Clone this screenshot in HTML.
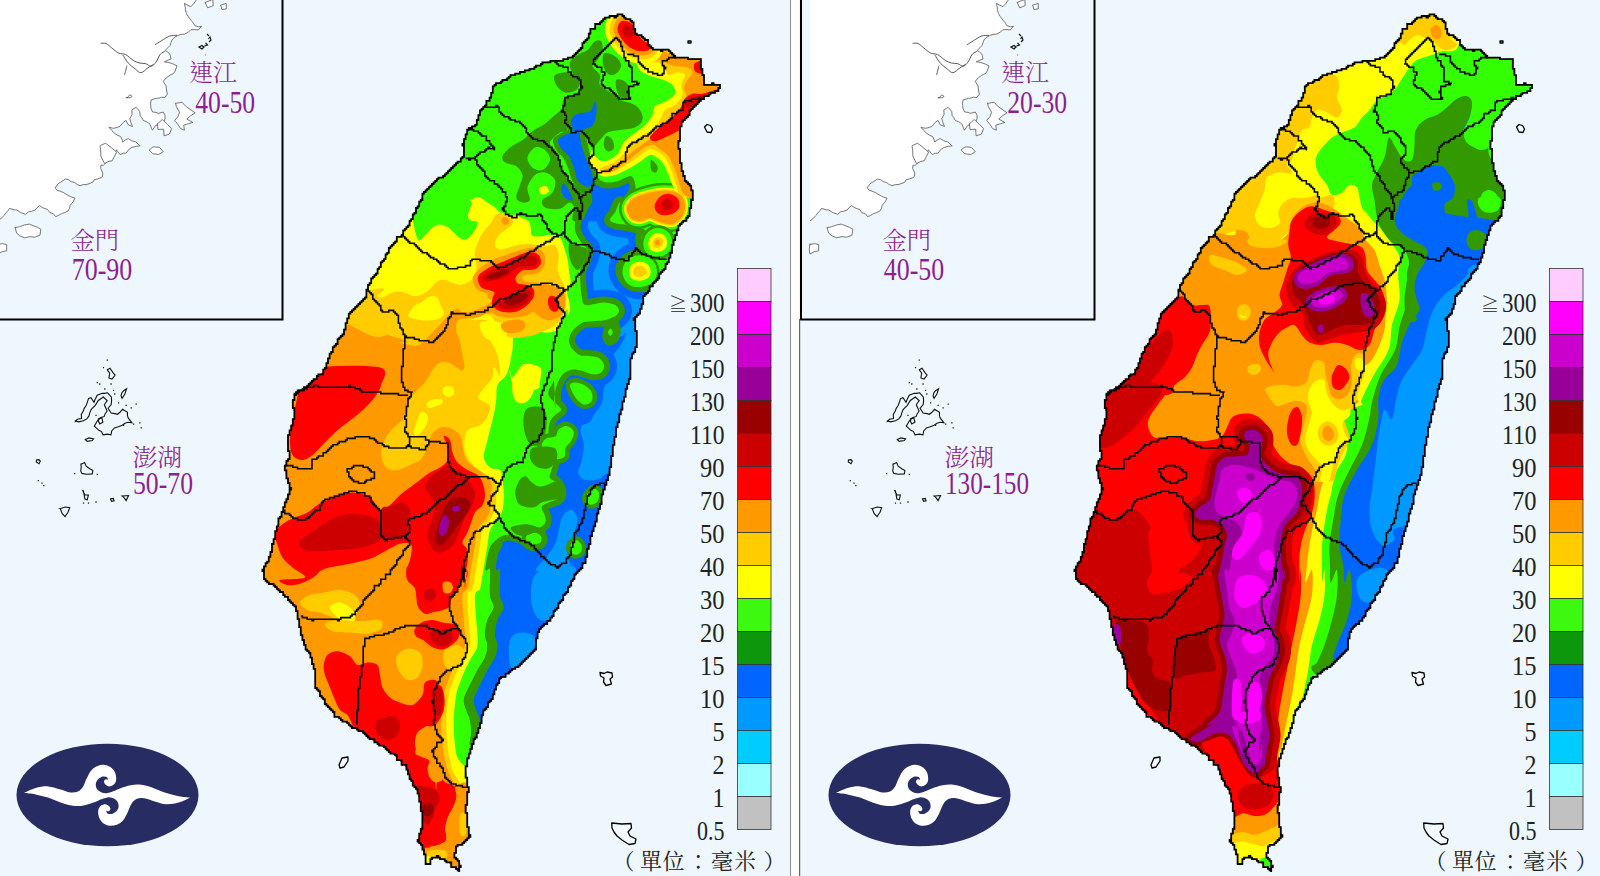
<!DOCTYPE html>
<html><head><meta charset="utf-8"><title>雨量預報</title>
<style>html,body{margin:0;padding:0;background:#fff}svg{display:block}text{font-family:"Liberation Serif","Noto Serif CJK TC","Noto Serif CJK SC",serif}</style></head>
<body><svg width="1600" height="876" viewBox="0 0 1600 876">
<defs>
<clipPath id="cl"><rect x="0" y="0" width="790" height="876"/></clipPath>
<clipPath id="cr"><rect x="799" y="0" width="801" height="876"/></clipPath>
<clipPath id="isl"><path d="M610.4 15.3 L614 17 L617 14 L620.5 14.6 L626 18 L632.9 22.5 L634 28 L636 33.7 L641 37 L647.5 40.5 L649 45 L652 48.4 L661 50.6 L665 49 L670 52.2 L676.8 57.4 L683 57 L690.3 59 L701.5 58.5 L701.5 67.5 L703.8 76.5 L705 84.4 L713 84 L720.7 85 L718.4 91 L708.3 94.5 L697 103.5 L688 114.8 L680 126 L679 146 L680 162 L684.7 180 L690 186 L692.8 191 L691.7 202.5 L688.3 218 L679.3 225 L673.7 240.8 L670.3 256.5 L663.5 270 L652.3 285.8 L643.3 297 L642.2 308 L634.3 319.5 L636.5 333 L636.5 346.5 L630.9 360 L631 375 L625 395 L620 415 L613.8 442.5 L610 470 L602.5 495 L597.5 515 L590 540 L585 562.5 L577.5 572 L567.5 590 L557.5 607.5 L550 620 L537.5 632.5 L535 650 L520 665 L505 675 L497.5 682.5 L492.5 697.5 L485 710 L483.8 712 L480 725 L474.4 740 L468.8 755 L465.9 768 L466.9 787 L469 789 L466.9 800 L465.9 813.3 L468 818 L466.9 824.5 L469.7 835.8 L465 841.4 L455.6 847 L454.7 856.4 L460.3 865.8 L459.4 872 L448 862 L436.9 856.4 L431.3 859 L429.4 864.8 L425.6 862 L424.7 852.6 L421.9 845 L418 839.5 L420 835.8 L422.8 822.6 L421.9 811 L420 800 L416.3 789 L410.6 779.5 L406.9 768 L397.5 758 L388 749.5 L375 742 L360 730.8 L346.9 723 L335 715 L325 702.5 L316 687.5 L315 670 L310 655 L302.5 640 L298.8 620 L296 607.5 L287.5 597.5 L277.5 587.5 L265 580 L262.5 570 L268.8 560 L272.5 545 L276 532.5 L278.8 520 L285 506 L286 500 L291 487.5 L286 475 L285 465 L290 457.5 L287.5 442.5 L290 430 L295 415 L292.5 405 L295 395 L307.5 386 L317.5 377.5 L325 370 L329 357.5 L335 345 L344 332.5 L346 324 L349 315 L357.5 306 L366 296 L367.5 287.5 L375 275 L380 267.5 L386 256 L393.8 242.5 L403.8 232.5 L412.5 217.5 L420 202.5 L425 191 L437.5 180 L451 170 L454 166.5 L464 157.5 L463 144 L467.5 130.5 L475.4 124.9 L481 110.3 L490 99 L494.5 85.5 L508 77.6 L521.5 72 L535 67.5 L546.3 61.9 L557.5 61.2 L566.5 59 L576.6 54 L582.3 48.4 L583.4 41.6 L588.6 38.3 L590 31.5 L595.8 25.9 L602.5 19.8Z"/></clipPath>
<g id="base"><path d="M-2 -2 L197.7 -2.6 L196.1 0.2 L193.8 3.5 L190.9 6.6 L187.6 5.2 L184.3 3.3 L185.3 7.5 L185.3 9.6 L186.5 13.7 L188.4 16.8 L191.1 20.3 L193.5 23.3 L194.9 25.7 L198.4 26.8 L201.5 26.4 L198.2 30 L194.9 29.5 L190.9 29.7 L188.6 32 L184.7 34.1 L180.9 34.4 L177.5 35.7 L174.1 37.5 L172 40 L171 42.4 L170.1 45.4 L165.2 50.4 L167.4 51.9 L169.9 54.1 L171 59.1 L167.9 60.1 L164.3 61.9 L168.1 62.3 L172.5 63.7 L177 65.9 L175.1 71.2 L173.4 73.6 L171.1 74.5 L166.4 77.7 L163.2 81.3 L166.1 86 L166.6 91 L167.4 94.1 L164.8 97.6 L161.3 97.2 L159.1 98.1 L156.5 98.3 L151.1 99.9 L150.5 103.6 L150.7 105.4 L151 108.6 L152.6 112 L156.1 112.4 L158.2 113.4 L163.3 112.1 L165 115.3 L165 118.2 L164.5 120.3 L164.1 124.4 L160.3 125.2 L155.8 125.3 L152.4 130.2 L150.8 126.3 L149.5 123.5 L146.7 121.8 L143.2 120.4 L141.9 117.8 L140.2 115.6 L139.7 111.4 L136.1 107.3 L131.8 109.9 L132.1 114.3 L130.9 116.5 L129.8 118.9 L131 122.9 L132.5 126.5 L128.2 124.7 L126 120.4 L123.1 122.5 L120 126.3 L117.6 127.3 L113.6 128.3 L109 127.4 L111.8 130.4 L113.7 132.6 L117.5 135.3 L120.6 136.5 L122 139.4 L122.6 142 L125.8 139.7 L128.2 138.6 L131.6 140.8 L135.7 141.9 L140.2 145.8 L136.5 146.3 L131.6 147.6 L128.5 149.8 L126.2 153.1 L123.5 153.2 L120.2 154.5 L116.3 149.8 L115.4 153 L112.9 155.5 L109.7 158.2 L107.7 160.5 L106.5 162.1 L103.3 165.2 L100.9 165.3 L100.7 168.6 L102.8 173 L102.4 176.4 L101 177.7 L97.3 179 L94.2 179.7 L92.8 182.2 L89.1 183.7 L86.1 184.6 L83.8 184.5 L80 185.7 L77.2 184.5 L74.4 182.5 L71.4 181.7 L68.4 179.6 L65.4 179 L62 181.4 L59 183.1 L57.2 184.9 L55.2 187.9 L57.2 190.3 L60.1 191.2 L63.7 192.7 L65.7 194 L69.2 196 L71.6 197.1 L75 198.1 L73.1 201.8 L70.1 205.4 L69.6 207.9 L68 211 L64.7 212.6 L61.5 213.6 L58.4 215.5 L55.6 216.6 L53.2 213.6 L49.9 212.7 L47.5 209.4 L43 207.9 L39.5 205.6 L36.8 207.9 L35.2 210 L31.4 211.3 L28.8 211.7 L25.6 214.3 L20.6 212.5 L16.8 210 L14.3 209.8 L9.5 208.4 L8 210.7 L5.5 213.2 L4.4 215.2 L1.1 218.4 L-2 221Z" fill="#fff"/><path d="M197.7 -2.6 L196.1 0.2 L193.8 3.5 L190.9 6.6 L187.6 5.2 L184.3 3.3 L185.3 7.5 L185.3 9.6 L186.5 13.7 L188.4 16.8 L191.1 20.3 L193.5 23.3 L194.9 25.7 L198.4 26.8 L201.5 26.4 L198.2 30 L194.9 29.5 L190.9 29.7 L188.6 32 L184.7 34.1 L180.9 34.4 L177.5 35.7 L174.1 37.5 L172 40 L171 42.4 L170.1 45.4 L165.2 50.4 L167.4 51.9 L169.9 54.1 L171 59.1 L167.9 60.1 L164.3 61.9 L168.1 62.3 L172.5 63.7 L177 65.9 L175.1 71.2 L173.4 73.6 L171.1 74.5 L166.4 77.7 L163.2 81.3 L166.1 86 L166.6 91 L167.4 94.1 L164.8 97.6 L161.3 97.2 L159.1 98.1 L156.5 98.3 L151.1 99.9 L150.5 103.6 L150.7 105.4 L151 108.6 L152.6 112 L156.1 112.4 L158.2 113.4 L163.3 112.1 L165 115.3 L165 118.2 L164.5 120.3 L164.1 124.4 L160.3 125.2 L155.8 125.3 L152.4 130.2 L150.8 126.3 L149.5 123.5 L146.7 121.8 L143.2 120.4 L141.9 117.8 L140.2 115.6 L139.7 111.4 L136.1 107.3 L131.8 109.9 L132.1 114.3 L130.9 116.5 L129.8 118.9 L131 122.9 L132.5 126.5 L128.2 124.7 L126 120.4 L123.1 122.5 L120 126.3 L117.6 127.3 L113.6 128.3 L109 127.4 L111.8 130.4 L113.7 132.6 L117.5 135.3 L120.6 136.5 L122 139.4 L122.6 142 L125.8 139.7 L128.2 138.6 L131.6 140.8 L135.7 141.9 L140.2 145.8 L136.5 146.3 L131.6 147.6 L128.5 149.8 L126.2 153.1 L123.5 153.2 L120.2 154.5 L116.3 149.8 L115.4 153 L112.9 155.5 L109.7 158.2 L107.7 160.5 L106.5 162.1 L103.3 165.2 L100.9 165.3 L100.7 168.6 L102.8 173 L102.4 176.4 L101 177.7 L97.3 179 L94.2 179.7 L92.8 182.2 L89.1 183.7 L86.1 184.6 L83.8 184.5 L80 185.7 L77.2 184.5 L74.4 182.5 L71.4 181.7 L68.4 179.6 L65.4 179 L62 181.4 L59 183.1 L57.2 184.9 L55.2 187.9 L57.2 190.3 L60.1 191.2 L63.7 192.7 L65.7 194 L69.2 196 L71.6 197.1 L75 198.1 L73.1 201.8 L70.1 205.4 L69.6 207.9 L68 211 L64.7 212.6 L61.5 213.6 L58.4 215.5 L55.6 216.6 L53.2 213.6 L49.9 212.7 L47.5 209.4 L43 207.9 L39.5 205.6 L36.8 207.9 L35.2 210 L31.4 211.3 L28.8 211.7 L25.6 214.3 L20.6 212.5 L16.8 210 L14.3 209.8 L9.5 208.4 L8 210.7 L5.5 213.2 L4.4 215.2 L1.1 218.4 L-2 221" fill="none" stroke="#555" stroke-width="0.8"/><path d="M100.6 43.4C101.5 43.4 104.2 42.7 106.1 43.5C107.9 44.2 109.6 46.3 111.7 47.9C113.8 49.5 116.3 51.9 118.6 53C120.9 54.2 123.2 53.4 125.6 54.6C128.1 55.8 131 59 133.3 60.4C135.6 61.8 137.5 62.4 139.5 63C141.6 63.5 143.9 63.2 145.8 63.7C147.8 64.3 149.4 66.5 151.1 66.2C152.8 65.9 154.5 64.1 156 62.1C157.6 60.1 158.7 56.1 160.3 54.3C161.8 52.5 164.5 51.7 165.3 51.2" fill="none" stroke="#444" stroke-width="0.9"/><path d="M122.9 55.1C123.8 56.4 126.3 60.9 128.4 63.2C130.4 65.5 133.1 67.3 135.2 68.9C137.3 70.5 138.8 72.9 140.9 72.7C143 72.6 145.8 69.3 147.9 67.9C150 66.5 152.6 64.9 153.5 64.3" fill="none" stroke="#444" stroke-width="0.9"/><path d="M126.9 65.7C126.7 66.4 126.2 68.6 125.8 70.2C125.4 71.7 124.8 74 124.6 74.8" fill="none" stroke="#444" stroke-width="0.9"/><path d="M155.1 44.7C156.1 44 158.8 42.3 161.2 40.9C163.6 39.4 166.9 37 169.5 36.1C172.1 35.2 175.8 35.5 177 35.4" fill="none" stroke="#444" stroke-width="0.9"/><path d="M176.2 103.3 L182 102.2 L185.6 106.2 L192.7 111.2 L195.1 112.9 L190.3 115.9 L186.8 119.2 L192.8 122.4 L188.5 123.7 L183.7 125.2 L184.4 130.2 L180.6 128.5 L177.7 124.1 L174.7 120.3 L177.9 116.8 L179.6 112.3 L176.4 106.8 L175.5 103Z" fill="#fff" stroke="#555" stroke-width="0.8"/><path d="M156.9 124.3 L162.2 119.5 L167.5 124.5 L171.6 128.5 L169.5 134 L164.1 135.8 L163.7 129.2 L158 129.5 L157.5 124Z" fill="#fff" stroke="#555" stroke-width="0.8"/><path d="M149.8 149.4 L153.1 146.9 L159.4 147.3 L163.3 151.7 L158.7 154.5 L152.8 153.7 L149 150Z" fill="#fff" stroke="#555" stroke-width="0.8"/><path d="M126.8 98.3 L129.7 94.8 L132.2 96.4 L130.1 97.8 L126 97.5Z" fill="#fff" stroke="#555" stroke-width="0.8"/><path d="M15.4 227.6 L19.4 226.8 L24.4 225 L29.3 224.1 L33 225.6 L37.7 227.4 L40.9 229.3 L39.9 235.3 L34.4 237.2 L30.1 236.6 L24.6 237.8 L19.8 235.8 L16.6 233.1 L15 227Z" fill="#fff" stroke="#555" stroke-width="0.8"/><path d="M-2.2 244.5 L2.6 243.6 L6.7 244.7 L6.7 250.8 L2.3 251.6 L-2.1 254 L-2.7 249.1 L-2 243.7Z" fill="#fff" stroke="#555" stroke-width="0.8"/><path d="M100.4 145.5 L105.5 143.2 L111.2 147.5 L116.5 152.2 L114.3 156.5 L112.2 160.8 L108.9 161.3 L104.6 163.5 L100.8 156.2 L100.8 151 L100 146Z" fill="#fff" stroke="#555" stroke-width="0.8"/><path d="M205.3 2.4 L212.8 -0.5 L213.2 5.6 L207.7 7.8 L205 2Z" fill="#fff" stroke="#555" stroke-width="0.8"/><path d="M220.3 5.3 L226.2 3.4 L226.3 8.9 L221.9 9.5 L221 6Z" fill="#fff" stroke="#555" stroke-width="0.8"/><path d="M207 34l2 2M208.5 39l1.5 -2 1 3 -2 2M205.5 43l2 2 -3 1M199 47l3 -1.5 2 1.5 -2 2zM205 55l0.6 0" fill="none" stroke="#111" stroke-width="1.2"/><path d="M-12 319.5H282.5V-5" fill="none" stroke="#000" stroke-width="2"/><path d="M-11 -5V320" fill="none" stroke="#000" stroke-width="2"/><path d="M75.3 421.4 L77.4 419.3 L81.5 418.6 L81.3 414.4 L83.4 410.8 L84.1 408.6 L86.1 405.5 L87.4 402.1 L88.5 398.6 L91 397.7 L94 402.3 L95 399.8 L97.2 395.2 L102.2 393.2 L104.6 393.4 L107.6 392.8 L111.3 397 L111.6 400.6 L111.2 404.6 L108.1 408.2 L111.1 413 L115 413.6 L117.4 414.3 L119.7 412.5 L122.5 409.3 L127.5 412.2 L127.4 415.3 L128.2 417.9 L131.9 422.8 L128.1 422.2 L125 423.2 L122.2 425.3 L117.5 427 L114.4 427.9 L111.7 431 L111 434.9 L107.4 434.1 L103 434.8 L101.5 431.6 L98.9 430.3 L94.3 426.2 L97.1 421.3 L100.3 417.8 L104.2 416.4 L105.1 413.9 L107.1 411 L104.3 404.8 L107.2 400.5 L103.3 397 L98.3 400.5 L95.3 405.4 L92.5 408.1 L91.1 409.5 L89.6 413.4 L89 415.9 L86.8 418.9 L83.5 420.7 L78.6 421.9 L75.3 420.9Z" fill="none" stroke="#111" stroke-width="1.1"/><path d="M107.3 369.8 L110 368.2 L113.1 372.9 L115.1 375 L112 379.1 L108.9 377.9 L109.7 373.1 L107.5 370.2Z" fill="none" stroke="#111" stroke-width="1.1"/><path d="M121.2 395.1 L122 392.6 L123.9 390.5 L126.6 388.7 L124.9 394.1 L122.1 398.3 L121 395.8Z" fill="none" stroke="#111" stroke-width="1.1"/><path d="M84.7 439.7 L88.9 437.9 L93.6 438.9 L92.3 440.5 L87.2 441.4 L85.4 439.5Z" fill="none" stroke="#111" stroke-width="1.1"/><path d="M80.7 464.4 L84.6 462.6 L86.2 466.2 L89.8 468.7 L92.9 470.6 L92.3 473.9 L86.4 474.2 L81.9 473.4 L80.7 471 L81.3 466.9 L80.8 464.3Z" fill="none" stroke="#111" stroke-width="1.1"/><path d="M59.9 508.7 L65.2 507 L69.7 507.6 L68 512.2 L65 516.6 L62.1 513.5 L60.3 508.8Z" fill="none" stroke="#111" stroke-width="1.1"/><path d="M36.9 459.9 L39 459.6 L40.3 461.1 L39 463.7 L36.3 462 L36.4 460.1Z" fill="none" stroke="#111" stroke-width="1.1"/><path d="M122.3 496.1 L125.5 495.7 L128.6 495.6 L126.1 500.6 L124.4 498.2 L122.5 496.2Z" fill="none" stroke="#111" stroke-width="1.1"/><path d="M110.5 498.7 L113.3 498.4 L114.1 500.8 L111.6 501.3 L110.5 499.2Z" fill="none" stroke="#111" stroke-width="1.1"/><path d="M82.7 490.6 L84.8 494.8 L88.4 495.1 L87.2 499.8 L84.9 499 L84.3 495.7 L83.4 490.7Z" fill="none" stroke="#111" stroke-width="1.1"/><path d="M98.4 418.8 L101.9 418 L102.9 422.3 L99.8 423.9 L98.7 421.8 L98.4 419.1Z" fill="none" stroke="#111" stroke-width="1.1"/><path d="M96.7 382.7h1.2M99.2 384h1.2M102.9 367.7h1.2M106.7 360.1h1.2M110.5 384h1.2M114.2 394h1.2M118 402.8h1.2M125.5 405.3h1.2M130.6 407.8h1.2M135.6 404.1h1.2M139.3 422.9h1.2M140.6 427.9h1.2M95.4 415.4h1.2M37.7 480.6h1.2M41.4 483.2h1.2M43.2 485.7h1.2M74.1 473.6h1.2M96.7 474.4h1.2M82.9 503.2h1.2M87.9 503.2h1.2M95.4 502h1.2M123 425.4h1.2M133.1 424.2h1.2M104.2 389h1.2M113 390.3h1.2" stroke="#111" stroke-width="1.3" fill="none"/><path d="M704.5 127 L707 124.5 L710.5 125.5 L712.5 129 L711 132.5 L707 132Z" fill="#F4FAFE" stroke="#000" stroke-width="1.3" stroke-linejoin="round"/><path d="M600 672.5 L604 673.5 L607 672 L612 673 L612.5 677 L610 679 L611.5 684 L606 685.5 L603.5 682 L604 678 L600.5 676Z" fill="#F4FAFE" stroke="#000" stroke-width="1.3" stroke-linejoin="round"/><path d="M611.7 823 L622 824 L631 823.5 L631.5 828 L628 832 L630 836 L636 839 L635 843.5 L629 844.5 L622 840 L617 836 L614 832 L612 828Z" fill="#F4FAFE" stroke="#000" stroke-width="1.3" stroke-linejoin="round"/><path d="M339 765 L342 758 L348 757 L348 761 L344 767 L340 768Z" fill="#F4FAFE" stroke="#000" stroke-width="1.3" stroke-linejoin="round"/><path d="M688 41 L691 41 L691 43 L688 43Z" fill="#F4FAFE" stroke="#000" stroke-width="1.3" stroke-linejoin="round"/><ellipse cx="107.5" cy="795" rx="91" ry="51.3" fill="#272C62"/><path d="M24 793C26 792.2 31.6 789.1 35.6 788C39.6 786.9 44.1 786.2 48.1 786.4C52.1 786.6 55.9 788.2 59.6 789.3C63.3 790.3 67.3 792.1 70.3 792.5C73.4 792.8 75.9 792.5 78 791.6C80.1 790.6 81.5 788.9 83 786.8C84.4 784.6 85.2 781.5 86.5 778.8C87.9 776 89.3 772.5 91.2 770.4C93 768.2 95.3 766.9 97.6 765.9C99.8 765 102.4 764.6 104.7 764.9C107 765.2 109.7 766.3 111.4 767.7C113.2 769.1 114.6 771.3 115.4 773.4C116.1 775.5 116.4 778.6 116.1 780.5C115.7 782.5 114.4 784 113.2 785C112 786 110.3 786.5 109 786.4C107.6 786.3 106.2 785.4 105.4 784.6C104.6 783.8 103.9 782.5 104 781.6C104 780.7 105 779.6 105.8 779.3C106.5 779 107.8 779.9 108.2 780L108.2 780C108 779.5 107.7 777.7 106.8 777.1C105.9 776.6 104.3 776.3 102.9 776.6C101.5 776.9 99.5 777.9 98.3 779.1C97.1 780.3 96 782.1 95.8 783.7C95.6 785.4 96.1 787.7 97 789.1C97.9 790.5 99.5 791.6 101.1 792.3C102.8 793 104.7 793.4 106.8 793.2C109 793 112.8 791.4 113.9 791L113.9 791C114.9 790.6 117.2 789.3 120 788.4C122.8 787.4 127.1 785.8 130.7 785.2C134.2 784.6 137.5 784.3 141.4 784.8C145.2 785.3 149.7 786.8 153.8 788.2C158 789.6 162.1 791.7 166.3 793C170.4 794.3 174.7 795.4 178.7 796.2C182.7 797 188.4 797.4 190.3 797.6L190.3 797.6C188.4 798.5 182.7 801.5 178.7 802.6C174.7 803.7 170.3 804.4 166.3 804.2C162.3 804 158.4 802.4 154.7 801.4C151 800.4 147.1 798.5 144 798.2C141 797.8 138.5 798.1 136.4 799C134.3 800 132.8 801.7 131.4 803.9C130 806 129.2 809.1 127.8 811.9C126.5 814.6 125 818.1 123.2 820.2C121.4 822.4 119 823.8 116.8 824.7C114.5 825.6 112 826 109.7 825.8C107.4 825.5 104.7 824.3 102.9 822.9C101.1 821.5 99.8 819.3 99 817.2C98.2 815.1 97.9 812 98.3 810.1C98.6 808.2 99.9 806.6 101.1 805.6C102.3 804.7 104.1 804.1 105.4 804.2C106.7 804.3 108.1 805.2 109 806C109.8 806.8 110.4 808.1 110.4 809C110.3 809.9 109.3 811.1 108.6 811.3C107.9 811.6 106.5 810.7 106.1 810.6L106.1 810.6C106.3 811.1 106.6 812.9 107.5 813.5C108.4 814 110 814.3 111.4 814C112.9 813.7 114.9 812.7 116.1 811.5C117.3 810.3 118.4 808.5 118.6 806.9C118.8 805.2 118.2 803 117.3 801.5C116.4 800.1 114.9 799 113.2 798.3C111.6 797.7 109.7 797.2 107.5 797.4C105.4 797.7 101.6 799.2 100.4 799.6L100.4 799.6C99.4 800 97.1 801.3 94.4 802.3C91.6 803.2 87.2 804.9 83.7 805.5C80.1 806 76.9 806.3 73 805.8C69.1 805.3 64.7 803.8 60.5 802.4C56.4 801.1 52.2 799 48.1 797.6C43.9 796.3 39.6 795.2 35.6 794.4C31.6 793.6 26 793.2 24 793Z" fill="#fff"/><g fill="#222"><rect x="737.5" y="268.5" width="33.5" height="33" fill="#FFCCFF" stroke="#333" stroke-width="0.8"/><rect x="737.5" y="301.5" width="33.5" height="33" fill="#FF00FF" stroke="#333" stroke-width="0.8"/><rect x="737.5" y="334.5" width="33.5" height="33" fill="#CC00CC" stroke="#333" stroke-width="0.8"/><rect x="737.5" y="367.5" width="33.5" height="33" fill="#990099" stroke="#333" stroke-width="0.8"/><rect x="737.5" y="400.5" width="33.5" height="33" fill="#990000" stroke="#333" stroke-width="0.8"/><rect x="737.5" y="433.5" width="33.5" height="33" fill="#CC0000" stroke="#333" stroke-width="0.8"/><rect x="737.5" y="466.5" width="33.5" height="33" fill="#FF0000" stroke="#333" stroke-width="0.8"/><rect x="737.5" y="499.5" width="33.5" height="33" fill="#FF9900" stroke="#333" stroke-width="0.8"/><rect x="737.5" y="532.5" width="33.5" height="33" fill="#FFCC00" stroke="#333" stroke-width="0.8"/><rect x="737.5" y="565.5" width="33.5" height="33" fill="#FFFF00" stroke="#333" stroke-width="0.8"/><rect x="737.5" y="598.5" width="33.5" height="33" fill="#3DF910" stroke="#333" stroke-width="0.8"/><rect x="737.5" y="631.5" width="33.5" height="33" fill="#0C980C" stroke="#333" stroke-width="0.8"/><rect x="737.5" y="664.5" width="33.5" height="33" fill="#0066FF" stroke="#333" stroke-width="0.8"/><rect x="737.5" y="697.5" width="33.5" height="33" fill="#0099FF" stroke="#333" stroke-width="0.8"/><rect x="737.5" y="730.5" width="33.5" height="33" fill="#00CCFF" stroke="#333" stroke-width="0.8"/><rect x="737.5" y="763.5" width="33.5" height="33" fill="#99FFFF" stroke="#333" stroke-width="0.8"/><rect x="737.5" y="796.5" width="33.5" height="33" fill="#C1C1C1" stroke="#333" stroke-width="0.8"/><text x="724.5" y="311.7" text-anchor="end" font-size="26.5" textLength="34.5" lengthAdjust="spacingAndGlyphs">300</text><text x="669" y="310.7" font-size="18" font-family='"Liberation Serif","Noto Serif CJK TC","DejaVu Sans",serif'>≧</text><text x="724.5" y="344.7" text-anchor="end" font-size="26.5" textLength="34.5" lengthAdjust="spacingAndGlyphs">200</text><text x="724.5" y="377.7" text-anchor="end" font-size="26.5" textLength="34.5" lengthAdjust="spacingAndGlyphs">150</text><text x="724.5" y="410.7" text-anchor="end" font-size="26.5" textLength="34.5" lengthAdjust="spacingAndGlyphs">130</text><text x="724.5" y="443.7" text-anchor="end" font-size="26.5" textLength="34.5" lengthAdjust="spacingAndGlyphs">110</text><text x="724.5" y="476.7" text-anchor="end" font-size="26.5" textLength="24.5" lengthAdjust="spacingAndGlyphs">90</text><text x="724.5" y="509.7" text-anchor="end" font-size="26.5" textLength="24.5" lengthAdjust="spacingAndGlyphs">70</text><text x="724.5" y="542.7" text-anchor="end" font-size="26.5" textLength="24.5" lengthAdjust="spacingAndGlyphs">50</text><text x="724.5" y="575.7" text-anchor="end" font-size="26.5" textLength="24.5" lengthAdjust="spacingAndGlyphs">40</text><text x="724.5" y="608.7" text-anchor="end" font-size="26.5" textLength="24.5" lengthAdjust="spacingAndGlyphs">30</text><text x="724.5" y="641.7" text-anchor="end" font-size="26.5" textLength="24.5" lengthAdjust="spacingAndGlyphs">20</text><text x="724.5" y="674.7" text-anchor="end" font-size="26.5" textLength="24.5" lengthAdjust="spacingAndGlyphs">15</text><text x="724.5" y="707.7" text-anchor="end" font-size="26.5" textLength="24.5" lengthAdjust="spacingAndGlyphs">10</text><text x="724.5" y="740.7" text-anchor="end" font-size="26.5" textLength="12" lengthAdjust="spacingAndGlyphs">5</text><text x="724.5" y="773.7" text-anchor="end" font-size="26.5" textLength="12" lengthAdjust="spacingAndGlyphs">2</text><text x="724.5" y="806.7" text-anchor="end" font-size="26.5" textLength="12" lengthAdjust="spacingAndGlyphs">1</text><text x="724.5" y="839.7" text-anchor="end" font-size="26.5" textLength="27.5" lengthAdjust="spacingAndGlyphs">0.5</text><text x="612.5 640 662.5 687.3 711 734 763.4" y="869" font-size="22">（單位：毫米）</text></g></g>
<g id="lines"><path d="M609.6 16H612.8H614.4V17.6H616V16H617.6V14.4H619.2H620.8H622.4V16H624V17.6H625.6V19.2H627.2H628.8H630.4V20.8H632V22.4H633.6V24V25.6V28.8H635.2V30.4V32V33.6H636.8V35.2H638.4H640H641.6V36.8H643.2V38.4H644.8V40H646.4H648V43.2V44.8H649.6V46.4H651.2V48H652.8V49.6H654.4H656H657.6H659.2H660.8V51.2H662.4V49.6H665.6H667.2H668.8V51.2H670.4V52.8H672V54.4H673.6V56H675.2V57.6H676.8H678.4H681.6H683.2H684.8H686.4H688V59.2H689.6H691.2H692.8H694.4H696H697.6H699.2H700.8V60.8V62.4V64V65.6V67.2V68.8H702.4V70.4V73.6V75.2H704V76.8V78.4V80V83.2V84.8H705.6H707.2H708.8H710.4H712V83.2H713.6V84.8H715.2H716.8H718.4H720V86.4V88H718.4V89.6V91.2H716.8H715.2V92.8H713.6H712H710.4V94.4H708.8V96H707.2H705.6H704V97.6V99.2H702.4H700.8V100.8H699.2V102.4H697.6V104H696V105.6H694.4V107.2H692.8V108.8H691.2V110.4H689.6V112V113.6V115.2H688V116.8H686.4V118.4H684.8V120H683.2V121.6H681.6V123.2V124.8V126.4H680V128V129.6V131.2V132.8V134.4V136V137.6V139.2V140.8H678.4V142.4V144V145.6V147.2V148.8H680V150.4V152V153.6V155.2V156.8V158.4V160V161.6V163.2H681.6V164.8V166.4V168V169.6V171.2H683.2V172.8V174.4V176H684.8V177.6V179.2V180.8H686.4V182.4H688V184H689.6V185.6H691.2V187.2V188.8V190.4H692.8V192V193.6V195.2V196.8V200H691.2V201.6V203.2V204.8V206.4V208H689.6V209.6V211.2V212.8V214.4V216H688V217.6H686.4V219.2V220.8H684.8H683.2V222.4H681.6V224H680V225.6H678.4V227.2V228.8V230.4H676.8V232V233.6V235.2H675.2V236.8V238.4V240H673.6V241.6V243.2V244.8H672V246.4V248V249.6V251.2V252.8H670.4V254.4V256V257.6H668.8V259.2V260.8V262.4H667.2V264H665.6V265.6V267.2V268.8H664V270.4H662.4V272H660.8V273.6H659.2V275.2V276.8V278.4H657.6V280H656V281.6H654.4V283.2H652.8V284.8V286.4H651.2H649.6V288V289.6V291.2H648V292.8H646.4V294.4H644.8V296H643.2V297.6V299.2V300.8V302.4V304H641.6V305.6V307.2V308.8H640V310.4V312V313.6H638.4V315.2H636.8V316.8H635.2V318.4H633.6V320H635.2V321.6V323.2V324.8V326.4V328V329.6V331.2H636.8V332.8V334.4V336V337.6V339.2V340.8V342.4V345.6V347.2H635.2V348.8V350.4V352H633.6V353.6H632V355.2V356.8V358.4H630.4V360V361.6V363.2V364.8V366.4V368V369.6V371.2V372.8V374.4V376V377.6V379.2H628.8V380.8V382.4V384H627.2V385.6V387.2V388.8H625.6V390.4V392V393.6V395.2V396.8H624V398.4V400V401.6H622.4V403.2V404.8V406.4V408V409.6H620.8V411.2V412.8V414.4H619.2V416V417.6V419.2V420.8V422.4H617.6V424V425.6V427.2H616V428.8V430.4V432V435.2V436.8H614.4V438.4V440V441.6V443.2V444.8H612.8V446.4V448V449.6V451.2V452.8V454.4V456H611.2V457.6V459.2V460.8V462.4V464V465.6V467.2H609.6V468.8V470.4V472V473.6V475.2H608V476.8V478.4V480H606.4V481.6V483.2V484.8H604.8V486.4V488V489.6H603.2V491.2V492.8V494.4H601.6V496V497.6V499.2V502.4V504H600V505.6V507.2V508.8H598.4V510.4V512V513.6H596.8V515.2V516.8V518.4V520V521.6H595.2V523.2V524.8V526.4H593.6V528V529.6V531.2H592V532.8V534.4V536H590.4V537.6V539.2V540.8V542.4V544H588.8V545.6V547.2V548.8H587.2V550.4V552V553.6V555.2V556.8H585.6V558.4V560V561.6V563.2H584H582.4V564.8V566.4V568H580.8V569.6H579.2V571.2H577.6V572.8H576V574.4H574.4V576V577.6V579.2H572.8V580.8H571.2V582.4V584V585.6H569.6V587.2H568V588.8V590.4V592H566.4V593.6H564.8V595.2H563.2V596.8V598.4V600H561.6V601.6H560V603.2H558.4V604.8V606.4V608H556.8V609.6H555.2V611.2H553.6V612.8V614.4V616H552V617.6H550.4V619.2V620.8H548.8H547.2V622.4V624H545.6H544V625.6H542.4V627.2H540.8V628.8H539.2V630.4V632H537.6V633.6V635.2V636.8V638.4H536V640V641.6V643.2V644.8V646.4V648V649.6H534.4V651.2H532.8V652.8H531.2V654.4H529.6V656H528V657.6H526.4V659.2H524.8V660.8H523.2V662.4H521.6V664H520V665.6H518.4V667.2H516.8H515.2V668.8H513.6H512V670.4H510.4V672H508.8V673.6H507.2H505.6V675.2V676.8H504H502.4H500.8V678.4H499.2V680V681.6V683.2H497.6V684.8H496V686.4V688V689.6H494.4V691.2V692.8V694.4H492.8V696V697.6V699.2H491.2V700.8H489.6V702.4H488V704V705.6V707.2H486.4V708.8H484.8V710.4H483.2V712V713.6V715.2H481.6V716.8V718.4V720V721.6V723.2H480V724.8V726.4V728H478.4V729.6V731.2V732.8H476.8V734.4V736V737.6H475.2V739.2H473.6V740.8V742.4V744H472V745.6V747.2V748.8H470.4V750.4V752V753.6H468.8V755.2V756.8V758.4H467.2V760V761.6V763.2V764.8V766.4H465.6V768V769.6V771.2V772.8V774.4V776V777.6H467.2V780.8V782.4V784V785.6V787.2H468.8V788.8V790.4V792H467.2V795.2V796.8V798.4V800V801.6V803.2V804.8H465.6V806.4V808V809.6V811.2V812.8H467.2V814.4V816V817.6V819.2V820.8V822.4V824V825.6V827.2H468.8V828.8V830.4V832V833.6V835.2H470.4V836.8H468.8V838.4H467.2V840H465.6V841.6H464V843.2H462.4V844.8H460.8H459.2H457.6V846.4H456V849.6V851.2V852.8H454.4V854.4V856V857.6H456V859.2H457.6V860.8H459.2V862.4V864V865.6H460.8V867.2H459.2V870.4V872V870.4H457.6V868.8H456V867.2H454.4H452.8H451.2V865.6V864V862.4H449.6H448H446.4V860.8H444.8V859.2H443.2H441.6H440V857.6H438.4V856H436.8V857.6H435.2H433.6H432V859.2H430.4V860.8V862.4V864H428.8H427.2H425.6V862.4V860.8V857.6V856V854.4H424V852.8V851.2V849.6H422.4V848V846.4V844.8H420.8V843.2H419.2V841.6H417.6V840H419.2V838.4V835.2V833.6H420.8V832V830.4V828.8H422.4V827.2V825.6V824V822.4V820.8V819.2V817.6V816V814.4V812.8V811.2H420.8V809.6V808V804.8V803.2V801.6H419.2V800V798.4V796.8V795.2V793.6H417.6V792V790.4V788.8H416V787.2H414.4V785.6H412.8V784V782.4V780.8H411.2V779.2H409.6V777.6V776V774.4H408V772.8V771.2V769.6H406.4V768V766.4V764.8H404.8H403.2H401.6V763.2V761.6V760H400H398.4H396.8V758.4V756.8V755.2H395.2V753.6H393.6H392H390.4V752H388.8V750.4H387.2V748.8H385.6V747.2H384V745.6H382.4H380.8H379.2V744H377.6V742.4H376H374.4V740.8V739.2H372.8H371.2H369.6V737.6H368V736H366.4V734.4H364.8V732.8H363.2V731.2H361.6H360H358.4V729.6H356.8V728H355.2H353.6H352V726.4H350.4V724.8H348.8V723.2H347.2V721.6H345.6H344H342.4V720H340.8V718.4H339.2V716.8H337.6H336H334.4V715.2V713.6V712H332.8V710.4H331.2V708.8H329.6V707.2H328V705.6H326.4V704H324.8V702.4V700.8V699.2H323.2V697.6H321.6V696H320V694.4V692.8V691.2H318.4V689.6H316.8V688H315.2V686.4V684.8V681.6V680V678.4V676.8V675.2V673.6V672V670.4V668.8H313.6V667.2V665.6V664H312V662.4V659.2V657.6H310.4V656V654.4V652.8H308.8V651.2H307.2V649.6H305.6V648V646.4V644.8H304V643.2V641.6V640H302.4V638.4V636.8V635.2H300.8V633.6V632V630.4V628.8V627.2H299.2V625.6V624V622.4V620.8V619.2H297.6V617.6V616V614.4V612.8V611.2H296V609.6V608V606.4H294.4V604.8H292.8V603.2H291.2V601.6H289.6V600H288V598.4V596.8H286.4H284.8V595.2H283.2V593.6V592H281.6H280V590.4H278.4V588.8H276.8V587.2H275.2V585.6H273.6V584H272H270.4H268.8V582.4H267.2V580.8H265.6V579.2H264V577.6V576V574.4V572.8V571.2H262.4V569.6H264V568V566.4H265.6V564.8V563.2H267.2V561.6H268.8V560V558.4V556.8H270.4V555.2V553.6V552H272V550.4V548.8V547.2V545.6V544H273.6V542.4V540.8V539.2H275.2V537.6V536V534.4V532.8V531.2H276.8V529.6V528V526.4H278.4V524.8V523.2V521.6V520V518.4H280V516.8H281.6V515.2V513.6V512H283.2V510.4V508.8V507.2H284.8V505.6V504V502.4H286.4V499.2H288V497.6V496V494.4H289.6V492.8V491.2V489.6H291.2V488H289.6V486.4V484.8V483.2H288V481.6V480V478.4H286.4V476.8V475.2V473.6V472V470.4H284.8V468.8V467.2V465.6H286.4V464V462.4V460.8H288V459.2H289.6V457.6V456V454.4V452.8V451.2H288V449.6V448V446.4V444.8V443.2V440V438.4V436.8V435.2H289.6V433.6V432V430.4H291.2V428.8V427.2V425.6H292.8V424V422.4V419.2H294.4V417.6V416V414.4V412.8V411.2V409.6V408H292.8V406.4V404.8V403.2V401.6V400H294.4V398.4V396.8V395.2H296V393.6H297.6V392H299.2V390.4H300.8H302.4H304V388.8V387.2H305.6H307.2V385.6H308.8V384H310.4V382.4H312V380.8H313.6V379.2H315.2H316.8V377.6V376H318.4V374.4H320H321.6H323.2V372.8V371.2V369.6H324.8V368H326.4V366.4V364.8V363.2H328V361.6V360V358.4H329.6V356.8V355.2V353.6H331.2V352H332.8V350.4V348.8V347.2H334.4V345.6H336V344H337.6V342.4V340.8V339.2H339.2V337.6H340.8V336H342.4V334.4H344V332.8V331.2V329.6H345.6V328V326.4V323.2H347.2V321.6V320V318.4H348.8V316.8V315.2V313.6H350.4V312H352V310.4H353.6V308.8H355.2V307.2H356.8V305.6H358.4V304H360V302.4H361.6V300.8H363.2V299.2H364.8V297.6H366.4V296V294.4V292.8V291.2V289.6H368V288V286.4V284.8H369.6V283.2H371.2V281.6V280V278.4H372.8V276.8H374.4V275.2H376V273.6H377.6V272V270.4V268.8H379.2V267.2H380.8V265.6V264V262.4H382.4V260.8H384V259.2H385.6V257.6V256V254.4H387.2V252.8H388.8V251.2V249.6V248H390.4V246.4H392V244.8H393.6V243.2H395.2V241.6H396.8V240V238.4V236.8H398.4H400H401.6V235.2H403.2V233.6V232V230.4H404.8V228.8H406.4V227.2H408V225.6H409.6V224V222.4V220.8H411.2V219.2H412.8V217.6V216V214.4H414.4V212.8H416V211.2V209.6V208H417.6V206.4H419.2V204.8V203.2V201.6H420.8V200H422.4V196.8V195.2V193.6H424V192H425.6V190.4H427.2V188.8H428.8V187.2H430.4V185.6H432V184H433.6V182.4H435.2V180.8H436.8V179.2H438.4V177.6H440H441.6H443.2V176H444.8V174.4H446.4V172.8H448V171.2H449.6V169.6H451.2V168H452.8V166.4H454.4V164.8H456V163.2H457.6V161.6H459.2H460.8V160V158.4H462.4V156.8H464V155.2V153.6V152V150.4V148.8V147.2V145.6H462.4V144H464V142.4V140.8V139.2H465.6V137.6V136V134.4H467.2V132.8V131.2V129.6H468.8V128H470.4H472V126.4H473.6H475.2V124.8H476.8V123.2V121.6V120H478.4V118.4V116.8V115.2H480V113.6V112V110.4H481.6V108.8H483.2V107.2H484.8V105.6H486.4V104V102.4V100.8H488H489.6V99.2V97.6H491.2V96V94.4V92.8H492.8V91.2V89.6V86.4H494.4V84.8H496V83.2H497.6H499.2H500.8V81.6H502.4V80H504H505.6H507.2V78.4H508.8V76.8H510.4V75.2H512H513.6H515.2V73.6H516.8H518.4H520V72H521.6H523.2H524.8V70.4H526.4H528H529.6V68.8H531.2H532.8H534.4V67.2H536V65.6H537.6H539.2H540.8V64H542.4V62.4H544H545.6H547.2H548.8H550.4V60.8H552H553.6H555.2H556.8H560H561.6H563.2V59.2H564.8H566.4H568V57.6H569.6H571.2H572.8V56H574.4V54.4H576V52.8H577.6V51.2H579.2V49.6H580.8V48H582.4V46.4V44.8V43.2H584V41.6H585.6V40H587.2V38.4H588.8V36.8V35.2V33.6H590.4V32V30.4V28.8H592H593.6H595.2V27.2V25.6V24H596.8H598.4H600V22.4H601.6V20.8H603.2V19.2H604.8V17.6H606.4H608H609.6V16Z" fill="none" stroke="#000" stroke-width="1.8"/><path d="M555.2 60.8V62.4H556.8V64H558.4V65.6H560H561.6H563.2V67.2H564.8H566.4H568V68.8V70.4V72H569.6H571.2V73.6V75.2H572.8V76.8H574.4H576H577.6V78.4H579.2V80H580.8V81.6V83.2V86.4H582.4V88H580.8V89.6H579.2V91.2V92.8V94.4H577.6H576H574.4V96H571.2H569.6H568V97.6H566.4H564.8V99.2V100.8V102.4V105.6H563.2V107.2V108.8V110.4H561.6V112H563.2H564.8V113.6V115.2H566.4V116.8V118.4V120H564.8V123.2H566.4V124.8H568V126.4H569.6V128H571.2V129.6V131.2V132.8H572.8H574.4H576V131.2H577.6H579.2H582.4V132.8H584V134.4H585.6V136H587.2V137.6H588.8V139.2V140.8V142.4H590.4V144H592V145.6H593.6V147.2V148.8V152V153.6V155.2H592V156.8H590.4V158.4H588.8V160V161.6V163.2H590.4V164.8H592V166.4V168H593.6H595.2V169.6H596.8V171.2V172.8M616 36.8V38.4H614.4V40H612.8V41.6H611.2V43.2H609.6V44.8H608V46.4H606.4V48H604.8V49.6H603.2V51.2H601.6V52.8H600V54.4H598.4V56H596.8V57.6H595.2V59.2H593.6V60.8V62.4V64H592H593.6H595.2V65.6H596.8V67.2H598.4H600H601.6V68.8V70.4V72H603.2H604.8V73.6V75.2H603.2V76.8V78.4V80H601.6V81.6V83.2V84.8H603.2V86.4H604.8V88H606.4H608H609.6V89.6H611.2V91.2H612.8V92.8H614.4V94.4H616V96H617.6V97.6H619.2V99.2H620.8H622.4H624H625.6H627.2H628.8H630.4V97.6H628.8V96V94.4V92.8H627.2V91.2H628.8V89.6V88V86.4H630.4H632H633.6V84.8H635.2H636.8H638.4V83.2H640H638.4H636.8V81.6H633.6H632V80V78.4V76.8V73.6V72V70.4V68.8V67.2H630.4V65.6H628.8V64V62.4V60.8H627.2H625.6V59.2V57.6H624V56V54.4V51.2H622.4V49.6V48V46.4H620.8V44.8V43.2V41.6H619.2V40H617.6V38.4H616V36.8M627.2 54.4H628.8H630.4H632H633.6V56H635.2H636.8H638.4V57.6V60.8V62.4H640V64H641.6V65.6H643.2V67.2H644.8V68.8H646.4H648V70.4V72H649.6H651.2H652.8V73.6H654.4H656H657.6V75.2H659.2H660.8H662.4V73.6H664V72V70.4V68.8H665.6V67.2H664V65.6H662.4V64V62.4V60.8H664H665.6H667.2V59.2H668.8V57.6H672H673.6H675.2V56M702.4 97.6H700.8H699.2V99.2H697.6H696H694.4H692.8H691.2V100.8H689.6H688H684.8V102.4H683.2V104V105.6V108.8V110.4H681.6H678.4V112H676.8V113.6H675.2H673.6H672V115.2V116.8V118.4H670.4V120H668.8V121.6H667.2V123.2H665.6H664H662.4V124.8H660.8V126.4H659.2H657.6H656V128H654.4V129.6H652.8V131.2H651.2V132.8H649.6V134.4H648V136H646.4H644.8H643.2V137.6H641.6V139.2H638.4V140.8H636.8V142.4H635.2H633.6H632V144H630.4V145.6H628.8V147.2H627.2V148.8V150.4V152H625.6V153.6V156.8V158.4V160V161.6H624H622.4H620.8V163.2H619.2V164.8H617.6V166.4H616H614.4H612.8V168H611.2V169.6H609.6V171.2H608H606.4H604.8H603.2H601.6V172.8H600H596.8M484.8 107.2H486.4H488H489.6H492.8H494.4H496V105.6H497.6V107.2H499.2V108.8V110.4V112H500.8V113.6H502.4V115.2H504V116.8H505.6H507.2H508.8V118.4H510.4V120H512H513.6H515.2V121.6H516.8H518.4H520V123.2H521.6V124.8H523.2V126.4H524.8V128H526.4V129.6V131.2V132.8H528V134.4H529.6V136H531.2V137.6H532.8V139.2H534.4H536H537.6V140.8H540.8H542.4H544V142.4H545.6V144H547.2V145.6H548.8V147.2H550.4H552V148.8V150.4H553.6V152H555.2V153.6H556.8V155.2H558.4V156.8V158.4V160H560V163.2V164.8V166.4H561.6V168V169.6V171.2H563.2V172.8H564.8V174.4H566.4V176H568V177.6V179.2V180.8H569.6V182.4H571.2V184H572.8V185.6V187.2V188.8H574.4V190.4H576V192H577.6V193.6H579.2V196.8M468.8 128V129.6H470.4H472H473.6V131.2H475.2H476.8H478.4V132.8H480V134.4H481.6V136H483.2H484.8H486.4V137.6V139.2V140.8H488H489.6V142.4V144H491.2V145.6H492.8V147.2H494.4V148.8V150.4V148.8H492.8H491.2H489.6V147.2H488V148.8H486.4V150.4H484.8V152H483.2H481.6H480V153.6H478.4V155.2H476.8V156.8H475.2V158.4H473.6H472H470.4V160H468.8V158.4H467.2H465.6M475.2 156.8V160H476.8V161.6V163.2V164.8H478.4V166.4H480V168H481.6V169.6H483.2V171.2H484.8V172.8V174.4V176H486.4V177.6H488V179.2H489.6V180.8H491.2H492.8H494.4V182.4V184H496H497.6V185.6H499.2V187.2H500.8V188.8H502.4V190.4V192H504H505.6V193.6V195.2V196.8H507.2V198.4V200V201.6H505.6V203.2V204.8V206.4H504V208H502.4V209.6H504V211.2H505.6V212.8V214.4H507.2H508.8V216H512V217.6H513.6H515.2H516.8V216V214.4H518.4H520V212.8H521.6V214.4H523.2H524.8H526.4V216H528H529.6H531.2H532.8H534.4H536H537.6V214.4H540.8V216H542.4V217.6V219.2V220.8H544V222.4H545.6V224H547.2V225.6V227.2V228.8H548.8V230.4H550.4V232H552V233.6H553.6H555.2H556.8V235.2H558.4H560H561.6V233.6H563.2V232H564.8V230.4M596.8 172.8V174.4V176V177.6H595.2V179.2H593.6V182.4V184V185.6H592V187.2V188.8V190.4H590.4V192H588.8H587.2H585.6V193.6V195.2H584H582.4V196.8H579.2V198.4H580.8V200V201.6V203.2H582.4V204.8V206.4V208V209.6V211.2H580.8V212.8V214.4V216V217.6V219.2H579.2V217.6V216V214.4V212.8V211.2H577.6V209.6V208H576H574.4V209.6H572.8V211.2H571.2V212.8H569.6V214.4H568V216H566.4V217.6V219.2V220.8H564.8V222.4V224V225.6V227.2V228.8V230.4M403.2 235.2V236.8H404.8V238.4H406.4V240H408V241.6H409.6V243.2H411.2H412.8H414.4V244.8H416V246.4H417.6V248H419.2V249.6H420.8V251.2H422.4V252.8H424H425.6H427.2V254.4H428.8V256H430.4V257.6H432H433.6V259.2H435.2H436.8V260.8H438.4V262.4H440V264H441.6H443.2H444.8V265.6H446.4V267.2H448V268.8H451.2H452.8H454.4H456H457.6V267.2H459.2H460.8H462.4H464H465.6V265.6H468.8H470.4V262.4V260.8H472V259.2H473.6H475.2H476.8H478.4H480V260.8H481.6H483.2H484.8H486.4H488H489.6H491.2V262.4H492.8V264H494.4V265.6H496V267.2H497.6V268.8H499.2V267.2H502.4H504H505.6V265.6H507.2V264H508.8H510.4H512V262.4H513.6V260.8H515.2H516.8H518.4V259.2H520V257.6H521.6H523.2H524.8V256H526.4V254.4H528V252.8H529.6V251.2H531.2H532.8H534.4V249.6H536V248H537.6V246.4H539.2H540.8V244.8H542.4H544V243.2H545.6V241.6H547.2H548.8H550.4V240H552V238.4H553.6V236.8H555.2H556.8H558.4V235.2H560M368 289.6V291.2H369.6V292.8H371.2V294.4H372.8V296V297.6V299.2H374.4V300.8H376V302.4H377.6V304H379.2V305.6H380.8V307.2V308.8V310.4H382.4V312H384H385.6H388.8V310.4H390.4H392H393.6V312H395.2V313.6H396.8V315.2H398.4V316.8V318.4V320V321.6V323.2H400V324.8V326.4V328H401.6V329.6H403.2V331.2V332.8V334.4H404.8V336H406.4V337.6H408H409.6H411.2H412.8H414.4V339.2H416H417.6H419.2V340.8H422.4H424H425.6H427.2H428.8V342.4H430.4H432H433.6V340.8H435.2V339.2H436.8V337.6H438.4V336H440V334.4H441.6V332.8H443.2V331.2H444.8V329.6V328H446.4V326.4V324.8H448V323.2V321.6V318.4H449.6V316.8H451.2V315.2V313.6V312H452.8V313.6H454.4H456H457.6H460.8H462.4H464H465.6V315.2H467.2H468.8H470.4V313.6H472H473.6H475.2V312H476.8H478.4H481.6H483.2H484.8V310.4H486.4H488V308.8V307.2H489.6H491.2H492.8V305.6H494.4V304H496V302.4H497.6V300.8H499.2V299.2H502.4H504H505.6V297.6H507.2H508.8H510.4V296H512V294.4H513.6H515.2H516.8V292.8H518.4V291.2H520H521.6H523.2V289.6H524.8V288H526.4V286.4H528H529.6H531.2V284.8H532.8H534.4H536H537.6H540.8V283.2H542.4H544H545.6H547.2H548.8H550.4H552V284.8H553.6H555.2H556.8V286.4H558.4V288H560H561.6H563.2V289.6H564.8H566.4H568V288V286.4H569.6H571.2V284.8H572.8V283.2H574.4V281.6H576V280V278.4V276.8H577.6V275.2H579.2V273.6H580.8V272H582.4V270.4H584V268.8V267.2V265.6H585.6V264H587.2V262.4H588.8V260.8V259.2V257.6H590.4V256V254.4V252.8H592V251.2V249.6V248H590.4V246.4H588.8V244.8H587.2H585.6H584H582.4H579.2H577.6H576V243.2H574.4H572.8H571.2V241.6H569.6V240H568V238.4H566.4V236.8H564.8V235.2V233.6V232V230.4M564.8 289.6V291.2H563.2V292.8H561.6V294.4H560V296H558.4V297.6H556.8V299.2H555.2V300.8H556.8V302.4H558.4V304V305.6V307.2H560V308.8H561.6V310.4H563.2V312H564.8V313.6V315.2V316.8H563.2V318.4H561.6V320V323.2H560V324.8V326.4H558.4V328H556.8V329.6V331.2V332.8V334.4V336H555.2V337.6V339.2V342.4H553.6V344V345.6V347.2V348.8V350.4H552V352V353.6V355.2V356.8V358.4V360V361.6V363.2V364.8V366.4V368V369.6V371.2H550.4V372.8H548.8V374.4V376V377.6H547.2V380.8V382.4V384H545.6V385.6H544V387.2V388.8V390.4H542.4V392V393.6V395.2H540.8V396.8V398.4V400V401.6V403.2H542.4V406.4V408V409.6H544V411.2V412.8V414.4V416V417.6H545.6V419.2H544V422.4V424V425.6V427.2V428.8H542.4V430.4V432V433.6H540.8V435.2H539.2V436.8V438.4V440H537.6V441.6H536H534.4H532.8V443.2H531.2V444.8H529.6V446.4H528V448H526.4V449.6V451.2V452.8H524.8V454.4V456V457.6H523.2V459.2V460.8V462.4H520H518.4H516.8V464H515.2H513.6H512V465.6H510.4V467.2H508.8H507.2V468.8V470.4H505.6V472H504V473.6V475.2V476.8H502.4V480H500.8V481.6V483.2V484.8H499.2M592 249.6V251.2H593.6H595.2H596.8H598.4H600V252.8H601.6H603.2H604.8V254.4H606.4H608H609.6V256H611.2V257.6H612.8H614.4H616V259.2H617.6H619.2H620.8H622.4H624V260.8H625.6H627.2H628.8V259.2V257.6V256H630.4H632V254.4V252.8H633.6V251.2H635.2V248H636.8V249.6H638.4V251.2H640V252.8H641.6V254.4H643.2H644.8H646.4V256H648H649.6H651.2V257.6H652.8H654.4H656H657.6H659.2V259.2H662.4H664H665.6H667.2M404.8 336V337.6V339.2V340.8V342.4V345.6V347.2V348.8H403.2V350.4V352V353.6V355.2V356.8V358.4V360V361.6V363.2V364.8V366.4H401.6V368V369.6V371.2V372.8V374.4V376V377.6V380.8V382.4H403.2V384V385.6V387.2H404.8V388.8V390.4H406.4H408V392H411.2H412.8H411.2V393.6V395.2V396.8H409.6V398.4H408V400V401.6V403.2V404.8V406.4H406.4V408V409.6V411.2V412.8V416H404.8V417.6V419.2H406.4V422.4V424V425.6V427.2H404.8V428.8V430.4V432H406.4V433.6H408V435.2V436.8H409.6H411.2H412.8H416H417.6H419.2H420.8H422.4H424H425.6V438.4V440H427.2H428.8V441.6H430.4H432H433.6H435.2H436.8H438.4H440V443.2H441.6H443.2H446.4H448V444.8V448V449.6V451.2V452.8V454.4V456V457.6V460.8V462.4H449.6V464V465.6V467.2H451.2V468.8H452.8V470.4H454.4V472H456V473.6H457.6H459.2H460.8V475.2H462.4H464H465.6V476.8H467.2H468.8H470.4H472H473.6H475.2H476.8H478.4H480H481.6H483.2H486.4H488V478.4H489.6H491.2H492.8V480H494.4V481.6H496V483.2H497.6H499.2V484.8M294.4 395.2V393.6H296V392H297.6V390.4H299.2H300.8H302.4V388.8H304H305.6H307.2V387.2H310.4H312H313.6V385.6H315.2H316.8H318.4V387.2H320H321.6H323.2H324.8H328H329.6H331.2H332.8H334.4H336H337.6H339.2H340.8H342.4H344H347.2H348.8V385.6H350.4V387.2H352H353.6H355.2V388.8H356.8H358.4H360V390.4H361.6V392H363.2H364.8H366.4H368H369.6H371.2H372.8H374.4H376H377.6H380.8V393.6H382.4H384H385.6H387.2H388.8H390.4H392H393.6H395.2H396.8H398.4V395.2H400H401.6H403.2H406.4H408M284.8 465.6H286.4H288H291.2H292.8V467.2H294.4H296H297.6V468.8H300.8H302.4H304H305.6H307.2H308.8H310.4H312V467.2V465.6V464V462.4V460.8V459.2H313.6H315.2H316.8V457.6H318.4V456H320H321.6H323.2V454.4V452.8H324.8H326.4V451.2H328V449.6H329.6V448H331.2V446.4H332.8V444.8H334.4H336H337.6V443.2H339.2V441.6H342.4H344H345.6V440H347.2V438.4H348.8H350.4H352H353.6H355.2V436.8H356.8H358.4H360H361.6H363.2H364.8H366.4H368H369.6V438.4H371.2H372.8H374.4V440H376V441.6H377.6V443.2H379.2H380.8H382.4V444.8H384V446.4H385.6H387.2H388.8V448H390.4H392H393.6H395.2H396.8H398.4H400H401.6H403.2H404.8H406.4V446.4H408V444.8H409.6V443.2V441.6V440V436.8M408 446.4H409.6H411.2V448H412.8H414.4H416H417.6H419.2V449.6H420.8H422.4H424H425.6V448V446.4H427.2V444.8H428.8V443.2V441.6M347.2 470.4V468.8H348.8H350.4H352V467.2H353.6V465.6H355.2H356.8H358.4H361.6H363.2V467.2H364.8H366.4H368V468.8H369.6V470.4H371.2V472H372.8H374.4V475.2V476.8V478.4H372.8H371.2V480H369.6H368H366.4V481.6H364.8V483.2H363.2H360H358.4V481.6H356.8H355.2H353.6V480H352V478.4H350.4V476.8H348.8V475.2V473.6V472H347.2V470.4M283.2 510.4H284.8V512V513.6H286.4H288H289.6V515.2H291.2V516.8H292.8V518.4H294.4H296H297.6V520H299.2H300.8H302.4H305.6V518.4H307.2H308.8V516.8H310.4V515.2H312V513.6H313.6V512H315.2V510.4H316.8H318.4H320V508.8V507.2V505.6H321.6V502.4H323.2V500.8H324.8V499.2H326.4H328H329.6V497.6H331.2H332.8H334.4V496H336H337.6H339.2V494.4H340.8H342.4H344V492.8H345.6H347.2H348.8V491.2H350.4H352H353.6H355.2H356.8V492.8H358.4H361.6H363.2H364.8V494.4V496H366.4H368H369.6V497.6H371.2V499.2V500.8V502.4H372.8V504H374.4V505.6H376V507.2H377.6V508.8H379.2V510.4H380.8V512V513.6V516.8V518.4V520V521.6V523.2V524.8V526.4V528V529.6V531.2V532.8V534.4V536H382.4V537.6H384V539.2H385.6V540.8H387.2V539.2H388.8H392H393.6V537.6H395.2H396.8H398.4H400H401.6V536H403.2H404.8H406.4V534.4H408V532.8H409.6V531.2V529.6V528V526.4V524.8H408V523.2V521.6V520H409.6V518.4H411.2H412.8H414.4V516.8H417.6H419.2H420.8V515.2H422.4V513.6H424H425.6H427.2V512H428.8V510.4H430.4V508.8H432V507.2H433.6V505.6H435.2V504H436.8V502.4H438.4V500.8H440V499.2H441.6H443.2H444.8V497.6H446.4V496H448V494.4H449.6V492.8H451.2V491.2H452.8V489.6H454.4V488H456V486.4H457.6V484.8H459.2H460.8H462.4V483.2H464V481.6H465.6V480H467.2V478.4H468.8V476.8H470.4M404.8 536V537.6H406.4V539.2H408V540.8H409.6V542.4V544V545.6H408V547.2H406.4V548.8H404.8V550.4H403.2V552V553.6V555.2H401.6V556.8H400V558.4H398.4V560H396.8V561.6V563.2V564.8H395.2V566.4H393.6V568H392V569.6H390.4V571.2V572.8V574.4H388.8H387.2H385.6V576V577.6V579.2H384H382.4H380.8V580.8V582.4V584H379.2V585.6H377.6H376H374.4V587.2V588.8V590.4H372.8V592H371.2V593.6H369.6V595.2H368V596.8H366.4V598.4H364.8V600H363.2V601.6V603.2V604.8H361.6V606.4H360V608H358.4V609.6H356.8V611.2H355.2V612.8V614.4H353.6H352V616H350.4V617.6H348.8H347.2H345.6H342.4H340.8V619.2H339.2V620.8H337.6V619.2H336H334.4H332.8H329.6H328H326.4H324.8H323.2H321.6H320H318.4H316.8H313.6V620.8H312V619.2H310.4H308.8H307.2V617.6H305.6H304H302.4V616H300.8M499.2 484.8V486.4H497.6V488V489.6V491.2H496V492.8H494.4V494.4H492.8V496H491.2V497.6V499.2V500.8H489.6V502.4H488V504H489.6V505.6H491.2H492.8H494.4V507.2V508.8V510.4H496V512H497.6V513.6H499.2V515.2V516.8V518.4H497.6V520H496V521.6H494.4V523.2H492.8H491.2H489.6V524.8H488V526.4H486.4H484.8H483.2V528H481.6V529.6H480V531.2H478.4H476.8H475.2V532.8H473.6V534.4V536V537.6H472V539.2H470.4V540.8V542.4V544H468.8V545.6V547.2V548.8V550.4V552H467.2V553.6V555.2V556.8H465.6V560H464V561.6V563.2V564.8V566.4V568H462.4V569.6V571.2V572.8V576V577.6H464V579.2V580.8V582.4V580.8V579.2V577.6V576V572.8V571.2H465.6V569.6H464V571.2V572.8V574.4H462.4V576V577.6V579.2H460.8V582.4V584V585.6H459.2V587.2H457.6V588.8V590.4V592H456H454.4V593.6V595.2H452.8V596.8H451.2H449.6V598.4V601.6V603.2V604.8V606.4V608V609.6V611.2H451.2V612.8V614.4V616H452.8V617.6V620.8V622.4H454.4V624H456V625.6H457.6V627.2M499.2 516.8V518.4H500.8V521.6H502.4V523.2H504V524.8V526.4V528H505.6V529.6H507.2V531.2H508.8V532.8H510.4V534.4H512V536H513.6V537.6H515.2H516.8H518.4V539.2H520V540.8H521.6H523.2H524.8V542.4H526.4H528H529.6V544H531.2V545.6H532.8H534.4V547.2V548.8H536V550.4H537.6V552H539.2V553.6H540.8V555.2V556.8H542.4H544V558.4H545.6V560H547.2V561.6H548.8V563.2H550.4V564.8H552H553.6H555.2V566.4H556.8V568H558.4V566.4H560V564.8H561.6V563.2H563.2H564.8H566.4V561.6V560V558.4H568V556.8H569.6V555.2H571.2V553.6V552V550.4V548.8V547.2H572.8V545.6V544V542.4H574.4V540.8V537.6V536V534.4V532.8H576V531.2H577.6V529.6H579.2V528V526.4V524.8H580.8V523.2H582.4V521.6V520V518.4H584V516.8V515.2V513.6V512V510.4H585.6V508.8V507.2V504H587.2V502.4V500.8V499.2V497.6V496H588.8V494.4H590.4V492.8V491.2V489.6H592V488H593.6V486.4H595.2V484.8H596.8H598.4H600V483.2H601.6H603.2H604.8M457.6 627.2V628.8H456H454.4H451.2V630.4H449.6H448H446.4V632H444.8V633.6H443.2H441.6H440V632H438.4V630.4H436.8H435.2H433.6V628.8H432H430.4H428.8V627.2H427.2V625.6H425.6H424H422.4H419.2H417.6H416H414.4H412.8H411.2H409.6H408H406.4H404.8V627.2H403.2H401.6H400V628.8H398.4H396.8H395.2V630.4H393.6V632H392H390.4H388.8V633.6H387.2H385.6H384V635.2H382.4H380.8H377.6H376H374.4V636.8H372.8H371.2H369.6V638.4H368H366.4H364.8V640V641.6V643.2V644.8V646.4H363.2V648V649.6V651.2V652.8V654.4V656V657.6V659.2V662.4V664V665.6H361.6V667.2V668.8V670.4V672V673.6V675.2V676.8H360V678.4V680V681.6V683.2V684.8V686.4V688H358.4V689.6V691.2V692.8V694.4V696V697.6V700.8V702.4V704V705.6V707.2V708.8V710.4H356.8V712V713.6V715.2V716.8V718.4V720V721.6V723.2V724.8M457.6 627.2V628.8H459.2V630.4H460.8V632V633.6V635.2H462.4V636.8H464V638.4H465.6V640V641.6V643.2H467.2V644.8V646.4V648V649.6V652.8H465.6V654.4V656V657.6H464V659.2H462.4V660.8V662.4V664H460.8V665.6H457.6V667.2H456H454.4H452.8V668.8H451.2V670.4H449.6H448H446.4V672H444.8V673.6H443.2V675.2H441.6V676.8H440V678.4V680V681.6H438.4V683.2H436.8V684.8V686.4V688H435.2V689.6H433.6V691.2V692.8V694.4V696V697.6V699.2V700.8H432V702.4H433.6V704V705.6V707.2V708.8V710.4H435.2V712V713.6V716.8V718.4V720H433.6V721.6V723.2V724.8H435.2V726.4V728V729.6H436.8V731.2V732.8V734.4H438.4V736H440V737.6H441.6V739.2H443.2V740.8H441.6V742.4H440H438.4H436.8V744V745.6V747.2H435.2V748.8H433.6V750.4H432V752H433.6V753.6V755.2V756.8H435.2V758.4H436.8V760V761.6V763.2H438.4H440V764.8V766.4H441.6V768H443.2V769.6V771.2V772.8H444.8V774.4V776V777.6H446.4V779.2H448V780.8H449.6V782.4H451.2V784H452.8H454.4H456V785.6H457.6H460.8H462.4V787.2H464H465.6H467.2" fill="none" stroke="#0a0a0a" stroke-width="1.6" stroke-linejoin="miter"/></g>
</defs>
<rect width="1600" height="876" fill="#fff"/>
<g clip-path="url(#cl)"><rect x="-20" y="0" width="830" height="876" fill="#EDF7FD"/><use href="#base"/><g clip-path="url(#isl)"><rect x="250" y="0" width="500" height="876" fill="#0099FF"/><path d="M595 100C596.3 100.1 597.7 106.9 597.5 111.2C597.3 115.6 596 123 593.8 126.2C591.5 129.5 585.8 128.8 583.8 130.5C581.7 132.2 581.2 133 581.2 136.2C581.2 139.5 582.5 145.6 583.8 150C585 154.4 587.1 158.3 588.8 162.5C590.4 166.7 592.3 171 593.8 175C595.2 179 595.6 184 597.5 186.2C599.4 188.5 601.7 188.6 605 188.8C608.3 188.9 613.5 188.4 617.5 187C621.5 185.6 626.5 180.3 628.8 180.5C631 180.7 631.7 185.1 631.2 188C630.8 190.9 627.9 194.7 626.2 198C624.6 201.3 622.4 204.3 621.2 208C620.1 211.7 626.6 218 619.5 220C612.4 222 584.7 222.1 578.8 220C572.8 217.9 581.7 211.2 583.8 207.5C585.8 203.8 591.2 200.9 591.2 197.5C591.2 194.1 586.2 189.8 583.8 187C581.3 184.2 578.5 183.8 576.8 180.5C575 177.2 574.5 171.5 573 167.5C571.5 163.5 570.1 159.6 568 156.5C565.9 153.4 562.3 151.8 560.5 149C558.7 146.2 556.3 142.4 557 140C557.7 137.6 562.1 136 564.5 134.5C566.9 133 570.5 133.2 571.5 130.8C572.5 128.3 569.6 123 570.5 120C571.4 117 573.8 114.6 577 113C580.2 111.4 586.5 112.7 589.5 110.5C592.5 108.3 593.7 99.9 595 100Z" fill="#0066FF"/><path d="M576.6 320.3C583 317.6 593.6 317.6 600.3 320.3C607 323.1 612.5 334.6 616.8 336.8C621 338.9 625.3 331.6 625.9 333.1C626.5 334.6 622.6 342.3 620.4 345.9C618.3 349.6 614.6 352 613.1 355C611.6 358.1 611.9 360.5 611.3 364.2C610.7 367.8 610.7 373 609.5 377C608.2 380.9 605.2 383.7 604 387.9C602.8 392.2 603.7 398.3 602.1 402.6C600.6 406.8 597.9 409.9 594.8 413.5C591.8 417.2 593 422.7 583.9 424.5C574.7 426.3 547.3 433.6 540 424.5C532.7 415.4 536.3 384.3 540 369.7C543.7 355 555.8 345 561.9 336.8C568 328.5 570.2 323.1 576.6 320.3Z" fill="#0066FF"/><path d="M555.4 411.1C564.9 403.7 578.6 413.6 582.8 416.8C587 420.1 580.3 425.8 580.5 430.5C580.7 435.3 583.7 440.2 583.9 445.4C584.1 450.5 582.6 456.8 581.6 461.4C580.7 465.9 577.6 469.7 578.2 472.8C578.9 475.9 582 479.1 585.5 480.1C589 481.1 595.4 480.1 599.2 479C603 477.8 601.6 475 608.4 473.2C615.1 471.5 634.6 451.2 639.9 468.2C645.1 485.3 666.5 557.7 639.9 575.6C613.2 593.5 506.6 583.2 480 575.6C453.4 568 472.4 548.9 480 529.9C487.6 510.9 513.1 481.2 525.7 461.4C538.2 441.6 545.9 418.5 555.4 411.1Z" fill="#0066FF"/><path d="M475 565C502.1 547.5 612.5 551.7 625 565C637.5 578.3 570.8 615 550 645C529.2 675 514.6 728.3 500 745C485.4 761.7 468.8 757.5 462.5 745C456.2 732.5 460.4 700 462.5 670C464.6 640 447.9 582.5 475 565Z" fill="#0066FF"/><path d="M562.7 516.2C564.8 512.8 569 509.4 571.4 509.8C573.8 510.2 576.7 514.4 577.1 518.5C577.5 522.6 575.4 529.5 573.7 534.5C571.9 539.4 567.6 542.1 566.8 548.2C566 554.3 574 567.2 569.1 571C564.1 574.8 540.9 573.3 537.1 571C533.3 568.7 543.2 561.9 546.2 557.3C549.3 552.7 553.3 548.2 555.4 543.6C557.5 539 557.6 534.5 558.8 529.9C560 525.3 560.6 519.5 562.7 516.2Z" fill="#0099FF"/><path d="M535 575C538.1 571.2 543.3 568.8 550 567.5C556.7 566.2 571.2 564.6 575 567.5C578.8 570.4 574.6 579.2 572.5 585C570.4 590.8 565.8 597.1 562.5 602.5C559.2 607.9 556.2 614.6 552.5 617.5C548.8 620.4 543.3 621.7 540 620C536.7 618.3 534 612.5 532.5 607.5C531 602.5 530.8 595.4 531.2 590C531.7 584.6 531.9 578.8 535 575Z" fill="#0099FF"/><path d="M511.2 637.5C513.5 633.8 518.5 632.5 522.5 632.5C526.5 632.5 533.3 634.2 535 637.5C536.7 640.8 534.6 647.5 532.5 652.5C530.4 657.5 525.8 664.6 522.5 667.5C519.2 670.4 514.8 672.1 512.5 670C510.2 667.9 509 660.4 508.8 655C508.5 649.6 509 641.2 511.2 637.5Z" fill="#0099FF"/><path d="M595 98.8C592.8 98.3 590.8 106.7 587.5 108.8C584.2 110.8 578.3 109.6 575 111.2C571.7 112.9 568.7 115.6 567.5 118.8C566.3 121.9 569 127.6 568 130C567 132.4 563.8 131.4 561.2 133C558.8 134.6 553.8 136.7 553 139.5C552.2 142.3 554.5 146.8 556.2 150C558 153.2 561.7 155.4 563.8 158.8C565.8 162.1 567.3 166.2 568.8 170C570.2 173.8 570.6 178.1 572.5 181.2C574.4 184.4 577.7 186 580 188.8C582.3 191.5 586.2 194.4 586.2 197.5C586.2 200.6 581.9 203.9 580 207.5C578.1 211.1 575.6 217.8 575 219C574.4 220.2 576.2 213.2 576.2 215C576.2 216.8 574.2 225.4 575 230C575.8 234.6 579.2 239.2 581.2 242.5C583.3 245.8 587.1 246.7 587.5 250C587.9 253.3 585 258.8 583.8 262.5C582.5 266.2 580.3 266.8 580 272.5C579.7 278.2 580.9 291.2 581.7 296.6C582.5 301.9 582.6 303.6 584.8 304.8C587 306 591.6 304.3 594.8 303.9C598 303.5 600.6 302.3 604 302.4C607.3 302.6 612.4 303.3 614.9 304.8C617.4 306.2 619.1 309.1 619 311.2C618.8 313.2 616.5 315.5 614 317C611.5 318.6 607.5 319.6 604 320.3C600.5 321 596.4 320.9 593 321.2C589.7 321.5 586.8 321.1 583.9 322.1C581 323.2 577.9 325.5 575.6 327.6C573.4 329.8 571.2 332.5 570.2 334.9C569.1 337.4 568.9 340 569.2 342.3C569.5 344.5 570.3 346.5 572 348.6C573.7 350.8 576.6 353.8 579.3 355C582 356.3 585.2 355.5 588.4 356C591.6 356.4 595.9 356.3 598.5 357.8C601.1 359.3 603.5 362.7 604 365.1C604.4 367.5 603.2 370.9 601.2 372.4C599.3 373.9 595.4 374.5 592.1 374.2C588.7 373.9 584.6 371.3 581.1 370.6C577.6 369.8 574.1 369.1 571.1 369.7C568 370.3 565 372.3 562.8 374.2C560.7 376.2 559.5 379 558.3 381.5C557.1 384.1 556.2 386.9 555.5 389.8C554.9 392.7 554.3 396.2 554.3 398.9C554.3 401.7 555.7 411 555.5 406.2C555.3 401.4 553.9 373.8 553.1 370C552.3 366.2 551.6 379.5 550.8 383.7C550 387.9 547.6 391.7 548.5 395.1C549.5 398.6 554.4 401.8 556.5 404.3C558.6 406.7 561.5 408.1 561.1 410C560.7 411.9 556.1 413.6 554.2 415.7C552.3 417.8 550.6 419.5 549.7 422.5C548.7 425.6 548.3 430.1 548.5 434C548.7 437.8 549.9 441.2 550.8 445.4C551.8 449.6 554 455.3 554.2 459.1C554.4 462.9 552.7 465.2 552 468.2C551.2 471.3 549.1 475.1 549.7 477.4C550.2 479.6 553.7 480 555.4 481.9C557.1 483.8 559.4 486.1 559.9 488.8C560.5 491.4 560.7 495.6 558.8 497.9C556.9 500.2 551.4 501 548.5 502.5C545.7 504 542.2 504.8 541.7 507C541.1 509.3 544.5 513.5 545.1 516.2C545.7 518.9 546.2 520.9 545.1 523C544 525.1 540.1 527.6 538.2 528.7C536.3 529.9 533.3 528.7 533.7 529.9C534.1 531 539.4 533.5 540.5 535.6C541.7 537.7 542.1 540.9 540.5 542.5C539 544 533.9 545.1 531.4 544.7C528.9 544.4 527.8 541.5 525.7 540.2C523.6 538.8 521.5 537.7 518.8 536.7C516.2 535.8 512.7 534.5 509.7 534.5C506.6 534.5 503.4 535.2 500.6 536.7C497.7 538.3 494.7 540.5 492.6 543.6C490.5 546.6 489.1 550.6 488 555C486.9 559.4 485.4 567.6 485.7 570.1C486 572.6 489.3 565.8 490 570C490.7 574.2 489.4 588.8 490 595C490.6 601.2 494.2 603.3 493.8 607.5C493.3 611.7 489 615.4 487.5 620C486 624.6 485 630.8 485 635C485 639.2 487.5 641.2 487.5 645C487.5 648.8 486.7 653.3 485 657.5C483.3 661.7 479.6 666.2 477.5 670C475.4 673.8 474.2 676.7 472.5 680C470.8 683.3 469 686.7 467.5 690C466 693.3 464 696.7 463.8 700C463.5 703.3 465.2 706.7 466.2 710C467.3 713.3 469.2 716.2 470 720C470.8 723.8 471.2 728.3 471.2 732.5C471.2 736.7 469.4 740.4 470 745C470.6 749.6 466.7 750.8 475 760C483.3 769.2 512.5 776.7 520 800C527.5 823.3 573.3 883.3 520 900C466.7 916.7 253.3 1056.7 200 900C146.7 743.3 103.3 116.7 200 -40C296.7 -196.7 683.3 -70 780 -40C876.7 -10 793.3 91.7 780 140C766.7 188.3 719.6 227.9 700 250C680.4 272.1 670 267.1 662.5 272.5C655 277.9 658.3 280.2 655 282.5C651.7 284.8 646.7 286 642.5 286.2C638.3 286.5 633.3 285.6 630 283.8C626.7 281.9 623.8 278.1 622.5 275C621.2 271.9 621.2 267.9 622.5 265C623.8 262.1 627.1 259.4 630 257.5C632.9 255.6 637.9 255.4 640 253.8C642.1 252.1 642.3 250.2 642.5 247.5C642.7 244.8 640.8 240.4 641.2 237.5C641.7 234.6 645.6 231.7 645 230C644.4 228.3 640.4 228.3 637.5 227.5C634.6 226.7 630.8 225.6 627.5 225C624.2 224.4 620.4 224.6 617.5 223.8C614.6 222.9 610.4 221.9 610 220C609.6 218.1 613.3 215.4 615 212.5C616.7 209.6 618.5 201.4 620 202.5C621.5 203.6 622.8 218.2 623.8 219C624.7 219.8 624.2 211.1 625.5 207.5C626.8 203.9 629.6 200.8 631.2 197.5C632.9 194.2 635.5 191 635.5 187.5C635.5 184 634.2 177.3 631.2 176.2C628.2 175.2 621.7 180.2 617.5 181.2C613.3 182.3 609.4 182.9 606.2 182.5C603.1 182.1 600.3 180.4 598.8 178.8C597.2 177.1 597.7 175 597 172.5C596.3 170 595.7 166.9 594.5 163.8C593.3 160.6 591.2 157.3 590 153.8C588.8 150.2 588.2 145.6 587.5 142.5C586.8 139.4 585.3 136.7 585.5 135C585.7 133.3 586.7 133.8 588.8 132.5C590.8 131.2 596 131 598 127.5C600 124 601.5 116 601 111.2C600.5 106.5 597.2 99.2 595 98.8Z" fill="#0066FF" stroke="#0066FF" stroke-width="26" stroke-linejoin="round"/><path d="M595 98.8C592.8 98.3 590.8 106.7 587.5 108.8C584.2 110.8 578.3 109.6 575 111.2C571.7 112.9 568.7 115.6 567.5 118.8C566.3 121.9 569 127.6 568 130C567 132.4 563.8 131.4 561.2 133C558.8 134.6 553.8 136.7 553 139.5C552.2 142.3 554.5 146.8 556.2 150C558 153.2 561.7 155.4 563.8 158.8C565.8 162.1 567.3 166.2 568.8 170C570.2 173.8 570.6 178.1 572.5 181.2C574.4 184.4 577.7 186 580 188.8C582.3 191.5 586.2 194.4 586.2 197.5C586.2 200.6 581.9 203.9 580 207.5C578.1 211.1 575.6 217.8 575 219C574.4 220.2 576.2 213.2 576.2 215C576.2 216.8 574.2 225.4 575 230C575.8 234.6 579.2 239.2 581.2 242.5C583.3 245.8 587.1 246.7 587.5 250C587.9 253.3 585 258.8 583.8 262.5C582.5 266.2 580.3 266.8 580 272.5C579.7 278.2 580.9 291.2 581.7 296.6C582.5 301.9 582.6 303.6 584.8 304.8C587 306 591.6 304.3 594.8 303.9C598 303.5 600.6 302.3 604 302.4C607.3 302.6 612.4 303.3 614.9 304.8C617.4 306.2 619.1 309.1 619 311.2C618.8 313.2 616.5 315.5 614 317C611.5 318.6 607.5 319.6 604 320.3C600.5 321 596.4 320.9 593 321.2C589.7 321.5 586.8 321.1 583.9 322.1C581 323.2 577.9 325.5 575.6 327.6C573.4 329.8 571.2 332.5 570.2 334.9C569.1 337.4 568.9 340 569.2 342.3C569.5 344.5 570.3 346.5 572 348.6C573.7 350.8 576.6 353.8 579.3 355C582 356.3 585.2 355.5 588.4 356C591.6 356.4 595.9 356.3 598.5 357.8C601.1 359.3 603.5 362.7 604 365.1C604.4 367.5 603.2 370.9 601.2 372.4C599.3 373.9 595.4 374.5 592.1 374.2C588.7 373.9 584.6 371.3 581.1 370.6C577.6 369.8 574.1 369.1 571.1 369.7C568 370.3 565 372.3 562.8 374.2C560.7 376.2 559.5 379 558.3 381.5C557.1 384.1 556.2 386.9 555.5 389.8C554.9 392.7 554.3 396.2 554.3 398.9C554.3 401.7 555.7 411 555.5 406.2C555.3 401.4 553.9 373.8 553.1 370C552.3 366.2 551.6 379.5 550.8 383.7C550 387.9 547.6 391.7 548.5 395.1C549.5 398.6 554.4 401.8 556.5 404.3C558.6 406.7 561.5 408.1 561.1 410C560.7 411.9 556.1 413.6 554.2 415.7C552.3 417.8 550.6 419.5 549.7 422.5C548.7 425.6 548.3 430.1 548.5 434C548.7 437.8 549.9 441.2 550.8 445.4C551.8 449.6 554 455.3 554.2 459.1C554.4 462.9 552.7 465.2 552 468.2C551.2 471.3 549.1 475.1 549.7 477.4C550.2 479.6 553.7 480 555.4 481.9C557.1 483.8 559.4 486.1 559.9 488.8C560.5 491.4 560.7 495.6 558.8 497.9C556.9 500.2 551.4 501 548.5 502.5C545.7 504 542.2 504.8 541.7 507C541.1 509.3 544.5 513.5 545.1 516.2C545.7 518.9 546.2 520.9 545.1 523C544 525.1 540.1 527.6 538.2 528.7C536.3 529.9 533.3 528.7 533.7 529.9C534.1 531 539.4 533.5 540.5 535.6C541.7 537.7 542.1 540.9 540.5 542.5C539 544 533.9 545.1 531.4 544.7C528.9 544.4 527.8 541.5 525.7 540.2C523.6 538.8 521.5 537.7 518.8 536.7C516.2 535.8 512.7 534.5 509.7 534.5C506.6 534.5 503.4 535.2 500.6 536.7C497.7 538.3 494.7 540.5 492.6 543.6C490.5 546.6 489.1 550.6 488 555C486.9 559.4 485.4 567.6 485.7 570.1C486 572.6 489.3 565.8 490 570C490.7 574.2 489.4 588.8 490 595C490.6 601.2 494.2 603.3 493.8 607.5C493.3 611.7 489 615.4 487.5 620C486 624.6 485 630.8 485 635C485 639.2 487.5 641.2 487.5 645C487.5 648.8 486.7 653.3 485 657.5C483.3 661.7 479.6 666.2 477.5 670C475.4 673.8 474.2 676.7 472.5 680C470.8 683.3 469 686.7 467.5 690C466 693.3 464 696.7 463.8 700C463.5 703.3 465.2 706.7 466.2 710C467.3 713.3 469.2 716.2 470 720C470.8 723.8 471.2 728.3 471.2 732.5C471.2 736.7 469.4 740.4 470 745C470.6 749.6 466.7 750.8 475 760C483.3 769.2 512.5 776.7 520 800C527.5 823.3 573.3 883.3 520 900C466.7 916.7 253.3 1056.7 200 900C146.7 743.3 103.3 116.7 200 -40C296.7 -196.7 683.3 -70 780 -40C876.7 -10 793.3 91.7 780 140C766.7 188.3 719.6 227.9 700 250C680.4 272.1 670 267.1 662.5 272.5C655 277.9 658.3 280.2 655 282.5C651.7 284.8 646.7 286 642.5 286.2C638.3 286.5 633.3 285.6 630 283.8C626.7 281.9 623.8 278.1 622.5 275C621.2 271.9 621.2 267.9 622.5 265C623.8 262.1 627.1 259.4 630 257.5C632.9 255.6 637.9 255.4 640 253.8C642.1 252.1 642.3 250.2 642.5 247.5C642.7 244.8 640.8 240.4 641.2 237.5C641.7 234.6 645.6 231.7 645 230C644.4 228.3 640.4 228.3 637.5 227.5C634.6 226.7 630.8 225.6 627.5 225C624.2 224.4 620.4 224.6 617.5 223.8C614.6 222.9 610.4 221.9 610 220C609.6 218.1 613.3 215.4 615 212.5C616.7 209.6 618.5 201.4 620 202.5C621.5 203.6 622.8 218.2 623.8 219C624.7 219.8 624.2 211.1 625.5 207.5C626.8 203.9 629.6 200.8 631.2 197.5C632.9 194.2 635.5 191 635.5 187.5C635.5 184 634.2 177.3 631.2 176.2C628.2 175.2 621.7 180.2 617.5 181.2C613.3 182.3 609.4 182.9 606.2 182.5C603.1 182.1 600.3 180.4 598.8 178.8C597.2 177.1 597.7 175 597 172.5C596.3 170 595.7 166.9 594.5 163.8C593.3 160.6 591.2 157.3 590 153.8C588.8 150.2 588.2 145.6 587.5 142.5C586.8 139.4 585.3 136.7 585.5 135C585.7 133.3 586.7 133.8 588.8 132.5C590.8 131.2 596 131 598 127.5C600 124 601.5 116 601 111.2C600.5 106.5 597.2 99.2 595 98.8Z" fill="#339900" stroke="#339900" stroke-width="12" stroke-linejoin="round"/><path d="M595 98.8C592.8 98.3 590.8 106.7 587.5 108.8C584.2 110.8 578.3 109.6 575 111.2C571.7 112.9 568.7 115.6 567.5 118.8C566.3 121.9 569 127.6 568 130C567 132.4 563.8 131.4 561.2 133C558.8 134.6 553.8 136.7 553 139.5C552.2 142.3 554.5 146.8 556.2 150C558 153.2 561.7 155.4 563.8 158.8C565.8 162.1 567.3 166.2 568.8 170C570.2 173.8 570.6 178.1 572.5 181.2C574.4 184.4 577.7 186 580 188.8C582.3 191.5 586.2 194.4 586.2 197.5C586.2 200.6 581.9 203.9 580 207.5C578.1 211.1 575.6 217.8 575 219C574.4 220.2 576.2 213.2 576.2 215C576.2 216.8 574.2 225.4 575 230C575.8 234.6 579.2 239.2 581.2 242.5C583.3 245.8 587.1 246.7 587.5 250C587.9 253.3 585 258.8 583.8 262.5C582.5 266.2 580.3 266.8 580 272.5C579.7 278.2 580.9 291.2 581.7 296.6C582.5 301.9 582.6 303.6 584.8 304.8C587 306 591.6 304.3 594.8 303.9C598 303.5 600.6 302.3 604 302.4C607.3 302.6 612.4 303.3 614.9 304.8C617.4 306.2 619.1 309.1 619 311.2C618.8 313.2 616.5 315.5 614 317C611.5 318.6 607.5 319.6 604 320.3C600.5 321 596.4 320.9 593 321.2C589.7 321.5 586.8 321.1 583.9 322.1C581 323.2 577.9 325.5 575.6 327.6C573.4 329.8 571.2 332.5 570.2 334.9C569.1 337.4 568.9 340 569.2 342.3C569.5 344.5 570.3 346.5 572 348.6C573.7 350.8 576.6 353.8 579.3 355C582 356.3 585.2 355.5 588.4 356C591.6 356.4 595.9 356.3 598.5 357.8C601.1 359.3 603.5 362.7 604 365.1C604.4 367.5 603.2 370.9 601.2 372.4C599.3 373.9 595.4 374.5 592.1 374.2C588.7 373.9 584.6 371.3 581.1 370.6C577.6 369.8 574.1 369.1 571.1 369.7C568 370.3 565 372.3 562.8 374.2C560.7 376.2 559.5 379 558.3 381.5C557.1 384.1 556.2 386.9 555.5 389.8C554.9 392.7 554.3 396.2 554.3 398.9C554.3 401.7 555.7 411 555.5 406.2C555.3 401.4 553.9 373.8 553.1 370C552.3 366.2 551.6 379.5 550.8 383.7C550 387.9 547.6 391.7 548.5 395.1C549.5 398.6 554.4 401.8 556.5 404.3C558.6 406.7 561.5 408.1 561.1 410C560.7 411.9 556.1 413.6 554.2 415.7C552.3 417.8 550.6 419.5 549.7 422.5C548.7 425.6 548.3 430.1 548.5 434C548.7 437.8 549.9 441.2 550.8 445.4C551.8 449.6 554 455.3 554.2 459.1C554.4 462.9 552.7 465.2 552 468.2C551.2 471.3 549.1 475.1 549.7 477.4C550.2 479.6 553.7 480 555.4 481.9C557.1 483.8 559.4 486.1 559.9 488.8C560.5 491.4 560.7 495.6 558.8 497.9C556.9 500.2 551.4 501 548.5 502.5C545.7 504 542.2 504.8 541.7 507C541.1 509.3 544.5 513.5 545.1 516.2C545.7 518.9 546.2 520.9 545.1 523C544 525.1 540.1 527.6 538.2 528.7C536.3 529.9 533.3 528.7 533.7 529.9C534.1 531 539.4 533.5 540.5 535.6C541.7 537.7 542.1 540.9 540.5 542.5C539 544 533.9 545.1 531.4 544.7C528.9 544.4 527.8 541.5 525.7 540.2C523.6 538.8 521.5 537.7 518.8 536.7C516.2 535.8 512.7 534.5 509.7 534.5C506.6 534.5 503.4 535.2 500.6 536.7C497.7 538.3 494.7 540.5 492.6 543.6C490.5 546.6 489.1 550.6 488 555C486.9 559.4 485.4 567.6 485.7 570.1C486 572.6 489.3 565.8 490 570C490.7 574.2 489.4 588.8 490 595C490.6 601.2 494.2 603.3 493.8 607.5C493.3 611.7 489 615.4 487.5 620C486 624.6 485 630.8 485 635C485 639.2 487.5 641.2 487.5 645C487.5 648.8 486.7 653.3 485 657.5C483.3 661.7 479.6 666.2 477.5 670C475.4 673.8 474.2 676.7 472.5 680C470.8 683.3 469 686.7 467.5 690C466 693.3 464 696.7 463.8 700C463.5 703.3 465.2 706.7 466.2 710C467.3 713.3 469.2 716.2 470 720C470.8 723.8 471.2 728.3 471.2 732.5C471.2 736.7 469.4 740.4 470 745C470.6 749.6 466.7 750.8 475 760C483.3 769.2 512.5 776.7 520 800C527.5 823.3 573.3 883.3 520 900C466.7 916.7 253.3 1056.7 200 900C146.7 743.3 103.3 116.7 200 -40C296.7 -196.7 683.3 -70 780 -40C876.7 -10 793.3 91.7 780 140C766.7 188.3 719.6 227.9 700 250C680.4 272.1 670 267.1 662.5 272.5C655 277.9 658.3 280.2 655 282.5C651.7 284.8 646.7 286 642.5 286.2C638.3 286.5 633.3 285.6 630 283.8C626.7 281.9 623.8 278.1 622.5 275C621.2 271.9 621.2 267.9 622.5 265C623.8 262.1 627.1 259.4 630 257.5C632.9 255.6 637.9 255.4 640 253.8C642.1 252.1 642.3 250.2 642.5 247.5C642.7 244.8 640.8 240.4 641.2 237.5C641.7 234.6 645.6 231.7 645 230C644.4 228.3 640.4 228.3 637.5 227.5C634.6 226.7 630.8 225.6 627.5 225C624.2 224.4 620.4 224.6 617.5 223.8C614.6 222.9 610.4 221.9 610 220C609.6 218.1 613.3 215.4 615 212.5C616.7 209.6 618.5 201.4 620 202.5C621.5 203.6 622.8 218.2 623.8 219C624.7 219.8 624.2 211.1 625.5 207.5C626.8 203.9 629.6 200.8 631.2 197.5C632.9 194.2 635.5 191 635.5 187.5C635.5 184 634.2 177.3 631.2 176.2C628.2 175.2 621.7 180.2 617.5 181.2C613.3 182.3 609.4 182.9 606.2 182.5C603.1 182.1 600.3 180.4 598.8 178.8C597.2 177.1 597.7 175 597 172.5C596.3 170 595.7 166.9 594.5 163.8C593.3 160.6 591.2 157.3 590 153.8C588.8 150.2 588.2 145.6 587.5 142.5C586.8 139.4 585.3 136.7 585.5 135C585.7 133.3 586.7 133.8 588.8 132.5C590.8 131.2 596 131 598 127.5C600 124 601.5 116 601 111.2C600.5 106.5 597.2 99.2 595 98.8Z" fill="#33FF00"/><path d="M492.6 543.6C490.1 545.5 489.1 550.6 488 555C486.9 559.4 485.4 567.6 485.7 570.1C486 572.6 489.3 565.8 490 570C490.7 574.2 489.4 588.8 490 595C490.6 601.2 494.2 603.3 493.8 607.5C493.3 611.7 489 615.4 487.5 620C486 624.6 485 630.8 485 635C485 639.2 487.5 641.2 487.5 645C487.5 648.8 486.7 653.3 485 657.5C483.3 661.7 479.6 666.2 477.5 670C475.4 673.8 474.2 676.7 472.5 680C470.8 683.3 469 686.7 467.5 690C466 693.3 464 696.7 463.8 700C463.5 703.3 465.2 706.7 466.2 710C467.3 713.3 469.2 716.2 470 720C470.8 723.8 471.2 728.3 471.2 732.5C471.2 736.7 468.5 742.9 470 745C471.5 747.1 478.1 747.1 480 745C481.9 742.9 481.2 736.7 481.2 732.5C481.2 728.3 480.8 723.8 480 720C479.2 716.2 477.3 713.3 476.2 710C475.2 706.7 473.5 703.3 473.8 700C474 696.7 476 693.3 477.5 690C479 686.7 480.8 683.3 482.5 680C484.2 676.7 485.4 673.8 487.5 670C489.6 666.2 493.3 661.7 495 657.5C496.7 653.3 497.5 648.8 497.5 645C497.5 641.2 495 639.2 495 635C495 630.8 496 624.6 497.5 620C499 615.4 503.3 611.7 503.8 607.5C504.2 603.3 500.6 601.2 500 595C499.4 588.8 500.7 574.2 500 570C499.3 565.8 496 572.6 495.7 570.1C495.4 567.6 496.9 559.4 498 555C499.1 550.6 503.5 545.5 502.6 543.6C501.7 541.7 495 541.7 492.6 543.6Z" fill="#339900"/><path d="M570.2 384.3C570.9 382.8 574 382.2 576.6 382.5C579.1 382.8 583.1 384.3 585.7 386.1C588.3 387.9 591.2 390.8 592.1 393.4C593 396 592.5 399.8 591.2 401.7C589.8 403.5 586.3 404.9 583.9 404.4C581.4 403.9 578.5 401 576.6 398.9C574.6 396.8 573.1 394 572 391.6C570.9 389.2 569.4 385.8 570.2 384.3Z" fill="#339900" stroke="#339900" stroke-width="9" stroke-linejoin="round"/><path d="M570.2 384.3C570.9 382.8 574 382.2 576.6 382.5C579.1 382.8 583.1 384.3 585.7 386.1C588.3 387.9 591.2 390.8 592.1 393.4C593 396 592.5 399.8 591.2 401.7C589.8 403.5 586.3 404.9 583.9 404.4C581.4 403.9 578.5 401 576.6 398.9C574.6 396.8 573.1 394 572 391.6C570.9 389.2 569.4 385.8 570.2 384.3Z" fill="#33FF00"/><path d="M613.1 317C614.7 316.9 616.4 318.2 617.7 320.3C619 322.4 620.8 326 620.8 329.5C620.8 333 619.7 338.7 617.7 341.3C615.6 344 611.1 346 608.5 345.5C606 345.1 603.3 341.6 602.5 338.6C601.7 335.6 603.1 330.5 604 327.6C604.9 324.7 606.5 323 608 321.2C609.5 319.5 611.5 317.2 613.1 317Z" fill="#339900"/><path d="M610.4 328.5C611.2 328.5 612.7 331 612.7 332.2C612.7 333.4 611.2 335.9 610.4 335.9C609.6 335.9 608 333.4 608 332.2C608 331 609.6 328.5 610.4 328.5Z" fill="#33FF00"/><path d="M558.8 429.4C560.7 427.7 564.3 425.6 566.8 426C569.3 426.3 572.9 429.2 573.7 431.7C574.4 434.1 572.7 438.1 571.4 440.8C570 443.5 566.8 445 565.7 447.7C564.5 450.3 566.2 454.9 564.5 456.8C562.8 458.7 558.4 459.5 555.4 459.1C552.3 458.7 548.5 456.8 546.2 454.5C544 452.2 541.7 448 541.7 445.4C541.7 442.7 544 440 546.2 438.5C548.5 437 553.3 437.8 555.4 436.2C557.5 434.7 556.9 431.1 558.8 429.4Z" fill="#339900" stroke="#339900" stroke-width="9" stroke-linejoin="round"/><path d="M558.8 429.4C560.7 427.7 564.3 425.6 566.8 426C569.3 426.3 572.9 429.2 573.7 431.7C574.4 434.1 572.7 438.1 571.4 440.8C570 443.5 566.8 445 565.7 447.7C564.5 450.3 566.2 454.9 564.5 456.8C562.8 458.7 558.4 459.5 555.4 459.1C552.3 458.7 548.5 456.8 546.2 454.5C544 452.2 541.7 448 541.7 445.4C541.7 442.7 544 440 546.2 438.5C548.5 437 553.3 437.8 555.4 436.2C557.5 434.7 556.9 431.1 558.8 429.4Z" fill="#33FF00"/><path d="M587.4 494.5C588.5 492.6 591.2 489.2 593.1 488.8C595 488.4 598 490.1 598.8 492.2C599.5 494.3 599 499.2 597.6 501.3C596.3 503.4 592.7 505 590.8 504.8C588.9 504.6 586.8 501.9 586.2 500.2C585.6 498.5 586.2 496.4 587.4 494.5Z" fill="#339900" stroke="#339900" stroke-width="8" stroke-linejoin="round"/><path d="M587.4 494.5C588.5 492.6 591.2 489.2 593.1 488.8C595 488.4 598 490.1 598.8 492.2C599.5 494.3 599 499.2 597.6 501.3C596.3 503.4 592.7 505 590.8 504.8C588.9 504.6 586.8 501.9 586.2 500.2C585.6 498.5 586.2 496.4 587.4 494.5Z" fill="#33FF00"/><path d="M571.4 543.6C572.5 542.1 575.4 539.8 577.1 540.2C578.8 540.5 581.1 543.8 581.6 545.9C582.2 548 581.8 551.3 580.5 552.7C579.2 554.2 575.4 555.1 573.7 554.6C571.9 554 570.6 551.1 570.2 549.3C569.8 547.5 570.2 545.1 571.4 543.6Z" fill="#339900" stroke="#339900" stroke-width="8" stroke-linejoin="round"/><path d="M571.4 543.6C572.5 542.1 575.4 539.8 577.1 540.2C578.8 540.5 581.1 543.8 581.6 545.9C582.2 548 581.8 551.3 580.5 552.7C579.2 554.2 575.4 555.1 573.7 554.6C571.9 554 570.6 551.1 570.2 549.3C569.8 547.5 570.2 545.1 571.4 543.6Z" fill="#33FF00"/><path d="M526.8 535.6C528.2 534.3 532.4 532.4 534.8 532.6C537.2 532.8 540.4 535 541.2 536.7C542.1 538.5 541.5 541.9 539.8 543.1C538.2 544.4 533.6 544.5 531.4 544.1C529.1 543.6 527.1 541.6 526.4 540.2C525.6 538.8 525.4 536.9 526.8 535.6Z" fill="#339900" stroke="#339900" stroke-width="8" stroke-linejoin="round"/><path d="M526.8 535.6C528.2 534.3 532.4 532.4 534.8 532.6C537.2 532.8 540.4 535 541.2 536.7C542.1 538.5 541.5 541.9 539.8 543.1C538.2 544.4 533.6 544.5 531.4 544.1C529.1 543.6 527.1 541.6 526.4 540.2C525.6 538.8 525.4 536.9 526.8 535.6Z" fill="#33FF00"/><path d="M525.7 410C527.6 407.3 531.8 406.7 534.8 406.5C537.9 406.4 542 406.5 544 408.8C545.9 411.1 546.5 416.1 546.7 420.3C546.9 424.4 546.3 430 545.1 434C543.9 438 541.7 442.3 539.4 444.2C537.1 446.1 533.7 446.7 531.4 445.4C529.1 444 527 440 525.7 436.2C524.4 432.4 523.4 426.9 523.4 422.5C523.4 418.2 523.8 412.6 525.7 410Z" fill="#339900"/><path d="M531.4 448.8C533.3 446.7 537.7 446.5 541.7 446.5C545.7 446.5 552.9 446.5 555.4 448.8C557.9 451.1 557.7 457 556.5 460.2C555.4 463.5 551.8 467.1 548.5 468.2C545.3 469.4 540.1 468.6 537.1 467.1C534.1 465.6 531.2 462.1 530.3 459.1C529.3 456 529.5 450.9 531.4 448.8Z" fill="#339900"/><path d="M520 479.6C521.7 477.2 523.8 475.8 525.7 476.2C527.6 476.6 529.1 480.2 531.4 481.9C533.7 483.6 536.5 486.1 539.4 486.5C542.2 486.9 545.9 485 548.5 484.2C551.2 483.4 553.3 481.2 555.4 481.9C557.5 482.7 560.3 486.1 561.1 488.8C561.8 491.4 561.7 496 559.9 497.9C558.2 499.8 553.9 499.4 550.8 500.2C547.8 501 544.3 501.3 541.7 502.5C539 503.6 537.5 506.3 534.8 507C532.2 507.8 528.5 507.8 525.7 507C522.8 506.3 519.4 505.1 517.7 502.5C516 499.8 515 494.9 515.4 491.1C515.8 487.3 518.3 482.1 520 479.6Z" fill="#339900"/><path d="M510.8 527.6C512.4 525.9 520.9 524.2 525.7 524.2C530.4 524.2 536 526.5 539.4 527.6C542.8 528.7 547 530.2 546.2 531C545.5 531.9 538.2 531.9 534.8 532.6C531.4 533.4 528.7 535.3 525.7 535.6C522.6 535.9 519 535.8 516.5 534.5C514.1 533.1 509.3 529.3 510.8 527.6Z" fill="#339900"/><path d="M570 242.5C571.9 241.5 577.1 245 580 246.2C582.9 247.5 586.9 247.3 587.5 250C588.1 252.7 585.4 259.2 583.8 262.5C582.1 265.8 579.6 270 577.5 270C575.4 270 572.7 265.4 571.2 262.5C569.8 259.6 569 255.8 568.8 252.5C568.5 249.2 568.1 243.5 570 242.5Z" fill="#339900"/><path d="M570 62.5C571.2 59.4 577.1 55.8 580 53.8C582.9 51.7 585 52.1 587.5 50C590 47.9 592.7 42.7 595 41.2C597.3 39.8 600 39.8 601.2 41.2C602.5 42.7 603.1 46.9 602.5 50C601.9 53.1 599.2 57.3 597.5 60C595.8 62.7 592.1 63.8 592.5 66.2C592.9 68.8 598.8 71.9 600 75C601.2 78.1 597.9 81.9 600 85C602.1 88.1 609.2 91.2 612.5 93.8C615.8 96.2 616.7 98.3 620 100C623.3 101.7 629.2 102.1 632.5 103.8C635.8 105.4 638.3 107.3 640 110C641.7 112.7 643.3 117.1 642.5 120C641.7 122.9 638.8 125.8 635 127.5C631.2 129.2 624.6 129.2 620 130C615.4 130.8 610.8 130.8 607.5 132.5C604.2 134.2 602.5 137.5 600 140C597.5 142.5 594.6 147.5 592.5 147.5C590.4 147.5 589.6 142.9 587.5 140C585.4 137.1 582.9 131.7 580 130C577.1 128.3 572.3 131.7 570 130C567.7 128.3 567.5 123.8 566.2 120C565 116.2 562.7 111.2 562.5 107.5C562.3 103.8 562.5 100 565 97.5C567.5 95 575 95 577.5 92.5C580 90 580.8 85.8 580 82.5C579.2 79.2 574.2 75.8 572.5 72.5C570.8 69.2 568.8 65.6 570 62.5Z" fill="#339900"/><path d="M565 110C562.9 107.5 558.3 112.7 555 115C551.7 117.3 548.8 121 545 123.8C541.2 126.5 536.2 128.5 532.5 131.2C528.8 134 526.2 137.3 522.5 140C518.8 142.7 513.3 144.8 510 147.5C506.7 150.2 503.3 153.8 502.5 156.2C501.7 158.8 502.7 160.8 505 162.5C507.3 164.2 513.3 164.2 516.2 166.2C519.2 168.3 521.9 171.9 522.5 175C523.1 178.1 521 181.2 520 185C519 188.8 515.8 194.6 516.2 197.5C516.7 200.4 520.2 202.1 522.5 202.5C524.8 202.9 529.2 202.5 530 200C530.8 197.5 526.7 191.7 527.5 187.5C528.3 183.3 532.1 177.5 535 175C537.9 172.5 541.7 171.7 545 172.5C548.3 173.3 553.8 176.7 555 180C556.2 183.3 554.6 189.2 552.5 192.5C550.4 195.8 543.8 197.5 542.5 200C541.2 202.5 542.1 206 545 207.5C547.9 209 555.8 209.6 560 208.8C564.2 207.9 567.1 202.3 570 202.5C572.9 202.7 574.6 209.6 577.5 210C580.4 210.4 587.1 207.9 587.5 205C587.9 202.1 582.5 195.8 580 192.5C577.5 189.2 575 187.9 572.5 185C570 182.1 567.1 178.8 565 175C562.9 171.2 561.7 166.7 560 162.5C558.3 158.3 556.7 153.3 555 150C553.3 146.7 549.2 145.4 550 142.5C550.8 139.6 557.1 134.6 560 132.5C562.9 130.4 566.7 133.8 567.5 130C568.3 126.2 567.1 112.5 565 110Z" fill="#339900"/><path d="M555 75C557.3 72.9 565.8 71.6 570 72.5C574.2 73.4 579 77.6 580 80.5C581 83.4 578.8 88 576.2 90C573.8 92 568.3 93.3 565 92.5C561.7 91.7 557.9 87.9 556.2 85C554.6 82.1 552.7 77.1 555 75Z" fill="#339900"/><path d="M603.8 53.8C605.6 51.9 612.1 54.4 615 56.2C617.9 58.1 620.8 62.3 621.2 65C621.7 67.7 619.4 70.8 617.5 72.5C615.6 74.2 612.3 75.8 610 75C607.7 74.2 604.8 71 603.8 67.5C602.7 64 601.9 55.6 603.8 53.8Z" fill="#339900"/><path d="M616.2 80C617.7 78.3 624 80 626.2 82.5C628.5 85 630.4 92.1 630 95C629.6 97.9 625.8 100.4 623.8 100C621.7 99.6 618.8 95.8 617.5 92.5C616.2 89.2 614.8 81.7 616.2 80Z" fill="#339900"/><path d="M606.2 136.2C607.7 135.4 611.2 137.9 612.5 140C613.8 142.1 614.6 146.9 613.8 148.8C612.9 150.6 609.2 151.9 607.5 151.2C605.8 150.6 604 147.5 603.8 145C603.5 142.5 604.8 137.1 606.2 136.2Z" fill="#339900"/><path d="M651.2 160C652.3 159.4 656.7 164.2 657.5 166.2C658.3 168.3 657.3 171.9 656.2 172.5C655.2 173.1 652.1 172.1 651.2 170C650.4 167.9 650.2 160.6 651.2 160Z" fill="#339900"/><path d="M535 147.5C537.9 146.2 542.5 147.9 545 150C547.5 152.1 550.4 156.7 550 160C549.6 163.3 545.4 168.8 542.5 170C539.6 171.2 535 169.6 532.5 167.5C530 165.4 527.1 160.8 527.5 157.5C527.9 154.2 532.1 148.8 535 147.5Z" fill="#33FF00"/><path d="M540 187.5C541.1 186.5 544.8 185.6 546.2 186.2C547.7 186.9 549.2 189.9 548.8 191.2C548.3 192.6 545.3 194.4 543.8 194.5C542.2 194.6 540.1 193.2 539.5 192C538.9 190.8 538.9 188.5 540 187.5Z" fill="#FFFF00"/><path d="M577.5 180C580 179.6 585 186.7 587.5 190C590 193.3 592.5 196.7 592.5 200C592.5 203.3 589.2 206.7 587.5 210C585.8 213.3 585 218.3 582.5 220C580 221.7 573.8 222.5 572.5 220C571.2 217.5 575 209.6 575 205C575 200.4 572.1 196.7 572.5 192.5C572.9 188.3 575 180.4 577.5 180Z" fill="#339900"/><path d="M595 101.2C596.1 101.2 596.8 107.3 596.5 111.2C596.2 115.2 595.3 121.9 593 125C590.7 128.1 584.7 128.1 582.5 130C580.3 131.9 579.9 132.9 580 136.2C580.1 139.6 581.8 145.6 583 150C584.2 154.4 585.9 158.3 587.5 162.5C589.1 166.7 591.8 171.2 592.5 175C593.2 178.8 593.2 183.1 592 185C590.8 186.9 587.4 187.1 585 186.2C582.6 185.4 579.4 183.1 577.5 180C575.6 176.9 575.2 171.5 573.8 167.5C572.3 163.5 570.8 159.4 568.8 156.2C566.7 153.1 563 151.5 561.2 148.8C559.5 146 557.4 142.3 558 140C558.6 137.7 562.6 136.5 565 135C567.4 133.5 571.5 133.8 572.5 131.2C573.5 128.8 570.4 122.9 571.2 120C572.1 117.1 574.4 115.2 577.5 113.8C580.6 112.3 587.1 113.3 590 111.2C592.9 109.2 593.9 101.2 595 101.2Z" fill="#339900" stroke="#339900" stroke-width="5" stroke-linejoin="round"/><path d="M595 101.2C596.1 101.2 596.8 107.3 596.5 111.2C596.2 115.2 595.3 121.9 593 125C590.7 128.1 584.7 128.1 582.5 130C580.3 131.9 579.9 132.9 580 136.2C580.1 139.6 581.8 145.6 583 150C584.2 154.4 585.9 158.3 587.5 162.5C589.1 166.7 591.8 171.2 592.5 175C593.2 178.8 593.2 183.1 592 185C590.8 186.9 587.4 187.1 585 186.2C582.6 185.4 579.4 183.1 577.5 180C575.6 176.9 575.2 171.5 573.8 167.5C572.3 163.5 570.8 159.4 568.8 156.2C566.7 153.1 563 151.5 561.2 148.8C559.5 146 557.4 142.3 558 140C558.6 137.7 562.6 136.5 565 135C567.4 133.5 571.5 133.8 572.5 131.2C573.5 128.8 570.4 122.9 571.2 120C572.1 117.1 574.4 115.2 577.5 113.8C580.6 112.3 587.1 113.3 590 111.2C592.9 109.2 593.9 101.2 595 101.2Z" fill="#0066FF"/><path d="M563.8 183.8C565.2 184 568.5 189.8 570 192.5C571.5 195.2 573.1 199 572.5 200C571.9 201 568.1 200.2 566.2 198.8C564.4 197.3 561.7 193.8 561.2 191.2C560.8 188.8 562.3 183.5 563.8 183.8Z" fill="#0066FF"/><path d="M627 208C627.3 204.8 630 201.3 633 199C636 196.7 640.5 195.3 645 194C649.5 192.7 655 191.3 660 191C665 190.7 671.2 190.8 675 192C678.8 193.2 681.3 195.3 683 198C684.7 200.7 685.3 204.7 685 208C684.7 211.3 683.2 215.3 681 218C678.8 220.7 675.5 223.3 672 224C668.5 224.7 663.7 223 660 222C656.3 221 653.3 218.2 650 218C646.7 217.8 643.2 221 640 221C636.8 221 633.2 220.2 631 218C628.8 215.8 626.7 211.2 627 208Z" fill="#339900" stroke="#339900" stroke-width="16" stroke-linejoin="round"/><path d="M627 208C627.3 204.8 630 201.3 633 199C636 196.7 640.5 195.3 645 194C649.5 192.7 655 191.3 660 191C665 190.7 671.2 190.8 675 192C678.8 193.2 681.3 195.3 683 198C684.7 200.7 685.3 204.7 685 208C684.7 211.3 683.2 215.3 681 218C678.8 220.7 675.5 223.3 672 224C668.5 224.7 663.7 223 660 222C656.3 221 653.3 218.2 650 218C646.7 217.8 643.2 221 640 221C636.8 221 633.2 220.2 631 218C628.8 215.8 626.7 211.2 627 208Z" fill="#33FF00" stroke="#33FF00" stroke-width="11" stroke-linejoin="round"/><path d="M627 208C627.3 204.8 630 201.3 633 199C636 196.7 640.5 195.3 645 194C649.5 192.7 655 191.3 660 191C665 190.7 671.2 190.8 675 192C678.8 193.2 681.3 195.3 683 198C684.7 200.7 685.3 204.7 685 208C684.7 211.3 683.2 215.3 681 218C678.8 220.7 675.5 223.3 672 224C668.5 224.7 663.7 223 660 222C656.3 221 653.3 218.2 650 218C646.7 217.8 643.2 221 640 221C636.8 221 633.2 220.2 631 218C628.8 215.8 626.7 211.2 627 208Z" fill="#FFFF00" stroke="#FFFF00" stroke-width="6" stroke-linejoin="round"/><path d="M627 208C627.3 204.8 630 201.3 633 199C636 196.7 640.5 195.3 645 194C649.5 192.7 655 191.3 660 191C665 190.7 671.2 190.8 675 192C678.8 193.2 681.3 195.3 683 198C684.7 200.7 685.3 204.7 685 208C684.7 211.3 683.2 215.3 681 218C678.8 220.7 675.5 223.3 672 224C668.5 224.7 663.7 223 660 222C656.3 221 653.3 218.2 650 218C646.7 217.8 643.2 221 640 221C636.8 221 633.2 220.2 631 218C628.8 215.8 626.7 211.2 627 208Z" fill="#FFCC00" stroke="#FFCC00" stroke-width="3" stroke-linejoin="round"/><path d="M627 208C627.3 204.8 630 201.3 633 199C636 196.7 640.5 195.3 645 194C649.5 192.7 655 191.3 660 191C665 190.7 671.2 190.8 675 192C678.8 193.2 681.3 195.3 683 198C684.7 200.7 685.3 204.7 685 208C684.7 211.3 683.2 215.3 681 218C678.8 220.7 675.5 223.3 672 224C668.5 224.7 663.7 223 660 222C656.3 221 653.3 218.2 650 218C646.7 217.8 643.2 221 640 221C636.8 221 633.2 220.2 631 218C628.8 215.8 626.7 211.2 627 208Z" fill="#FF9900"/><path d="M655 204C655.8 201.5 658.5 197.7 661 196C663.5 194.3 667.2 193.5 670 194C672.8 194.5 676.5 196.7 678 199C679.5 201.3 680 205.5 679 208C678 210.5 674.8 212.8 672 214C669.2 215.2 664.7 215.5 662 215C659.3 214.5 657.2 212.8 656 211C654.8 209.2 654.2 206.5 655 204Z" fill="#FF0000"/><path d="M662 203C662.7 201.2 666.2 199 668 199C669.8 199 672.5 201.3 673 203C673.5 204.7 672.5 207.8 671 209C669.5 210.2 665.5 211 664 210C662.5 209 661.3 204.8 662 203Z" fill="#CC0000"/><path d="M652.5 242.5C652.8 241.1 653.8 238.8 655 238C656.2 237.2 658.7 237 660 237.5C661.3 238 662.7 239.6 663 241C663.3 242.4 663 244.8 662 246C661 247.2 658.5 247.9 657 248C655.5 248.1 653.8 247.4 653 246.5C652.2 245.6 652.2 243.9 652.5 242.5Z" fill="#339900" stroke="#339900" stroke-width="24" stroke-linejoin="round"/><path d="M652.5 242.5C652.8 241.1 653.8 238.8 655 238C656.2 237.2 658.7 237 660 237.5C661.3 238 662.7 239.6 663 241C663.3 242.4 663 244.8 662 246C661 247.2 658.5 247.9 657 248C655.5 248.1 653.8 247.4 653 246.5C652.2 245.6 652.2 243.9 652.5 242.5Z" fill="#33FF00" stroke="#33FF00" stroke-width="18" stroke-linejoin="round"/><path d="M652.5 242.5C652.8 241.1 653.8 238.8 655 238C656.2 237.2 658.7 237 660 237.5C661.3 238 662.7 239.6 663 241C663.3 242.4 663 244.8 662 246C661 247.2 658.5 247.9 657 248C655.5 248.1 653.8 247.4 653 246.5C652.2 245.6 652.2 243.9 652.5 242.5Z" fill="#FFFF00" stroke="#FFFF00" stroke-width="8" stroke-linejoin="round"/><path d="M652.5 242.5C652.8 241.1 653.8 238.8 655 238C656.2 237.2 658.7 237 660 237.5C661.3 238 662.7 239.6 663 241C663.3 242.4 663 244.8 662 246C661 247.2 658.5 247.9 657 248C655.5 248.1 653.8 247.4 653 246.5C652.2 245.6 652.2 243.9 652.5 242.5Z" fill="#FFCC00"/><path d="M655 241C655.5 240.2 658.2 239.5 659 240C659.8 240.5 660.5 243.2 660 244C659.5 244.8 656.8 245.5 656 245C655.2 244.5 654.5 241.8 655 241Z" fill="#FF9900"/><path d="M633 271C633.2 269.4 634.5 267.3 636 266.5C637.5 265.7 640.3 265.6 642 266C643.7 266.4 645.3 267.7 646 269C646.7 270.3 646.8 272.8 646 274C645.2 275.2 642.8 276.2 641 276.5C639.2 276.8 636.3 276.9 635 276C633.7 275.1 632.8 272.6 633 271Z" fill="#339900" stroke="#339900" stroke-width="26" stroke-linejoin="round"/><path d="M633 271C633.2 269.4 634.5 267.3 636 266.5C637.5 265.7 640.3 265.6 642 266C643.7 266.4 645.3 267.7 646 269C646.7 270.3 646.8 272.8 646 274C645.2 275.2 642.8 276.2 641 276.5C639.2 276.8 636.3 276.9 635 276C633.7 275.1 632.8 272.6 633 271Z" fill="#33FF00" stroke="#33FF00" stroke-width="21" stroke-linejoin="round"/><path d="M633 271C633.2 269.4 634.5 267.3 636 266.5C637.5 265.7 640.3 265.6 642 266C643.7 266.4 645.3 267.7 646 269C646.7 270.3 646.8 272.8 646 274C645.2 275.2 642.8 276.2 641 276.5C639.2 276.8 636.3 276.9 635 276C633.7 275.1 632.8 272.6 633 271Z" fill="#FFFF00" stroke="#FFFF00" stroke-width="8" stroke-linejoin="round"/><path d="M633 271C633.2 269.4 634.5 267.3 636 266.5C637.5 265.7 640.3 265.6 642 266C643.7 266.4 645.3 267.7 646 269C646.7 270.3 646.8 272.8 646 274C645.2 275.2 642.8 276.2 641 276.5C639.2 276.8 636.3 276.9 635 276C633.7 275.1 632.8 272.6 633 271Z" fill="#FFCC00"/><path d="M477.5 205C478.6 205.7 482.1 201.6 485 202C487.9 202.4 492.1 205.1 495 207.5C497.9 209.9 501 215.1 502.5 216.2C504 217.4 502 214.8 504.1 214.6C506.3 214.5 512.5 214.9 515.5 215.4C518.5 216 519.8 216.9 522 217.9C524.2 218.8 527 219.4 528.5 221.1C530 222.9 530.4 226.1 530.9 228.4C531.5 230.7 530.5 233.6 531.7 234.9C533 236.3 535.3 236.6 538.2 236.6C541.2 236.6 546.6 235.1 549.6 234.9C552.6 234.8 554.2 235.1 556.1 235.7C558 236.4 559.2 235.4 561 239C562.8 242.6 565.6 251.9 567 257.5C568.4 263.1 568.7 268.3 569.2 272.5C569.8 276.7 570.9 279.4 570.5 282.5C570.1 285.6 567.3 288.3 567 291.2C566.7 294.2 568.2 296.9 568.8 300C569.2 303.1 570.5 306.7 570 310C569.5 313.3 567.1 316.7 565.5 320C563.9 323.3 562.7 327.4 560.5 330C558.3 332.6 555.9 333.8 552.5 335.5C549.1 337.2 544 338.4 540 340C536 341.6 532.3 343.1 528.8 345C525.2 346.9 521.7 348.5 518.8 351.2C515.8 354 513.3 357.3 511.2 361.2C509.2 365.2 508.5 371 506.2 375C504 379 499.2 380.8 497.5 385C495.8 389.2 496.9 395 496.2 400C495.6 405 494.8 410 493.8 415C492.7 420 491.2 425 490 430C488.8 435 487.3 440.4 486.2 445C485.2 449.6 483.1 453.8 483.8 457.5C484.4 461.2 487.3 465.4 490 467.5C492.7 469.6 497.9 467.9 500 470C502.1 472.1 501.9 475.8 502.5 480C503.1 484.2 503.8 490 503.8 495C503.8 500 503.5 505.8 502.5 510C501.5 514.2 499.6 516.7 497.5 520C495.4 523.3 491.7 525.8 490 530C488.3 534.2 488.3 540 487.5 545C486.7 550 485.8 555 485 560C484.2 565 483.3 570.2 482.5 575C481.7 579.8 481.2 585.7 480 589C478.8 592.3 475.6 589.8 475 595C474.4 600.2 475.8 611.7 476.2 620C476.7 628.3 478.5 638.3 477.5 645C476.5 651.7 472.1 655.8 470 660C467.9 664.2 466.7 666.2 465 670C463.3 673.8 461.5 678.3 460 682.5C458.5 686.7 457.3 688.8 456.2 695C455.2 701.2 454 711.7 453.8 720C453.5 728.3 454.2 738.3 455 745C455.8 751.7 456.2 755.8 458.8 760C461.2 764.2 466.5 767.1 470 770C473.5 772.9 471.7 772.5 480 777.5C488.3 782.5 513.3 779.6 520 800C526.7 820.4 573.3 883.3 520 900C466.7 916.7 253.3 1025 200 900C146.7 775 160 275 200 150C240 25 404.2 141.7 440 150C475.8 158.3 419.5 190 414.7 200C410 210 411.8 206.2 411.5 209.7C411.2 213.3 412.3 216.8 413.1 221.1C413.9 225.5 415.3 232.5 416.4 235.7C417.5 239 418 240.9 419.6 240.6C421.2 240.4 424 236.3 426.1 234.1C428.3 232 430.5 229.2 432.6 227.6C434.8 226 436.7 224.5 439.1 224.4C441.6 224.2 444.8 225.5 447.2 226.8C449.7 228.2 451.6 230.6 453.7 232.5C455.9 234.4 458.1 237.1 460.2 238.2C462.4 239.3 464.6 239.9 466.7 239C468.9 238.1 471.5 234.9 473.2 232.5C475 230.1 476.8 227.4 477.3 224.4C477.9 221.4 477 217.6 476.5 214.6C476 211.6 475.1 208.9 474.1 206.5C473 204.1 470.7 201.1 470 200C469.3 198.9 468.6 200.4 470 200C471.4 199.6 476.9 196.7 478.1 197.6C479.4 198.4 476.4 204.3 477.5 205Z" fill="#FFFF00"/><path d="M473.8 200C475.4 196.2 477.3 196.7 480 197.5C482.7 198.3 486.7 202.5 490 205C493.3 207.5 497.5 210 500 212.5C502.5 215 510 218.8 505 220C500 221.2 475.2 223.3 470 220C464.8 216.7 472.1 203.8 473.8 200Z" fill="#FFFF00"/><path d="M513.8 370C515.4 367.9 519.4 366.7 522.5 367.5C525.6 368.3 530.6 371.2 532.5 375C534.4 378.8 534.6 385.6 533.8 390C532.9 394.4 530.2 399.2 527.5 401.2C524.8 403.3 520 404 517.5 402.5C515 401 513.3 396.2 512.5 392.5C511.7 388.8 512.3 383.8 512.5 380C512.7 376.2 512.1 372.1 513.8 370Z" fill="#FFFF00"/><path d="M512 370C516.7 368.9 534.6 368.1 539.4 370C544.1 371.9 541.3 378.2 540.5 381.4C539.8 384.7 537.7 387.8 534.8 389.4C532 391 526.8 391.6 523.4 391C520 390.4 516.4 388.3 514.3 386C512.2 383.6 511.2 379.5 510.8 376.9C510.5 374.2 507.2 371.1 512 370Z" fill="#FFFF00"/><path d="M511.2 372.5C512.1 369.2 516.5 366.5 520 365C523.5 363.5 528.8 362.9 532.5 363.8C536.2 364.6 540.6 367.3 542.5 370C544.4 372.7 544.6 376.9 543.8 380C542.9 383.1 540.6 387.1 537.5 388.8C534.4 390.4 528.8 390.6 525 390C521.2 389.4 517.3 387.9 515 385C512.7 382.1 510.4 375.8 511.2 372.5Z" fill="#FFFF00"/><path d="M515 332.5C517.9 329.2 525 330 530 330C535 330 540.4 332.5 545 332.5C549.6 332.5 554.6 332.1 557.5 330C560.4 327.9 560.8 323.3 562.5 320C564.2 316.7 567.1 305.8 567.5 310C567.9 314.2 566.7 335 565 345C563.3 355 560 362.9 557.5 370C555 377.1 552.9 384.6 550 387.5C547.1 390.4 541.5 390.4 540 387.5C538.5 384.6 542.1 373.8 541.2 370C540.4 366.2 538.1 365.8 535 365C531.9 364.2 526.2 362.9 522.5 365C518.8 367.1 514.6 377.5 512.5 377.5C510.4 377.5 510 369.6 510 365C510 360.4 511.7 355.4 512.5 350C513.3 344.6 512.1 335.8 515 332.5Z" fill="#33FF00"/><path d="M369.2 290.2C398.8 284.5 375.1 294.7 377.4 295.9C379.7 297.1 381.2 297.8 383.1 297.5C385 297.2 386.6 295.2 388.7 294.2C390.9 293.3 393.4 292.1 396.1 291.8C398.8 291.5 402.2 291.9 405 292.6C407.8 293.3 410.4 295.5 413.1 295.9C415.8 296.3 418.8 295.9 421.2 295.1C423.7 294.2 425.9 292.5 427.7 291C429.6 289.5 431 287.7 432.6 286.1C434.2 284.5 435.3 282.3 437.5 281.2C439.7 280.2 442.9 279.6 445.6 279.9C448.3 280.3 451.2 282.4 453.7 283.2C456.3 284 458.6 285 461.1 284.8C463.5 284.6 466.3 283.3 468.4 282.1C470.4 280.8 471.9 279.2 473.2 277.2C474.6 275.2 476.1 272.4 476.5 269.9C476.9 267.3 476 264.7 475.7 261.7C475.4 258.8 474.5 255.2 474.9 252C475.3 248.7 476.8 245.5 478.1 242.2C479.5 239 480.8 235.7 483 232.5C485.2 229.2 489 225.7 491.1 222.7C493.3 219.8 494.1 216.3 496 214.6C497.9 212.9 500.1 212.5 502.5 212.7C504.9 212.9 508.9 214.2 510.6 215.9C512.4 217.6 513.6 220.7 513.1 222.7C512.5 224.8 509.4 226.7 507.4 228.4C505.3 230.2 502.8 231.4 500.9 233.3C499 235.2 496.9 237.6 496 239.8C495 242 494.5 244.7 495.2 246.3C495.9 247.9 498 249.3 500.1 249.6C502.1 249.8 504.8 248.6 507.4 247.9C509.9 247.3 512.5 246.2 515.5 245.5C518.5 244.8 522 244 525.2 243.9C528.5 243.7 531.7 244.3 535 244.7C538.2 245.1 541.8 246.3 544.7 246.3C547.7 246.3 550.8 244.3 552.9 244.7C555 245.1 556.4 246.4 557.4 248.7C558.4 251.1 558.7 255.2 558.7 258.5C558.7 261.7 557.1 265 557.4 268.2C557.7 271.5 559.1 274.7 560.3 278C561.6 281.2 564.1 284.5 565.1 287.7C566 291 566.1 294.2 566.2 297.5C566.3 300.7 566.1 304 565.5 307.2C564.9 310.5 564.1 314.2 562.6 317C561.2 319.8 559.1 321.9 556.9 323.8C554.8 325.7 552.2 327 549.6 328.4C547 329.7 544.2 330.8 541.5 331.9C538.8 333.1 536.1 334.4 533.4 335.2C530.7 336 528.2 336.3 525.2 336.8C522.3 337.3 518.5 338.2 515.5 338.1C512.5 338.1 509.8 337.3 507.4 336.5C505 335.7 503 334.9 501.2 333.6C499.4 332.2 497.8 330.3 496.8 328.4C495.8 326.4 496.1 323.9 495.2 321.9C494.2 319.8 492.9 317.5 491.1 316.2C489.4 314.8 486.8 313.6 484.6 313.7C482.5 313.9 480.6 315.9 478.1 317C475.7 318.1 472.4 318.6 470 320.2C467.6 321.9 465.3 324.3 463.5 326.7C461.7 329.2 460.5 332.3 459.4 334.9C458.4 337.4 456.1 339.5 457 342C457.9 344.5 464.1 345.3 465 350C465.9 354.7 466.7 361.7 462.5 370C458.3 378.3 467.1 391.7 440 400C412.9 408.3 340 420 300 420C260 420 216.7 415 200 400C183.3 385 171.8 348.3 200 330C228.2 311.7 339.7 295.9 369.2 290.2Z" fill="#FFCC00"/><path d="M462.5 320C509.2 319.2 475.4 321.7 480 325C484.6 328.3 487.1 335 490 340C492.9 345 495.8 349.2 497.5 355C499.2 360.8 500.6 373 500 375C499.4 377 495 366.4 493.7 366.8C492.4 367.3 494.4 373.7 492.3 377.8C490.3 381.9 483.7 388.1 481.4 391.5C479.1 394.9 477.3 396.1 478.6 398.4C480 400.6 488 402.5 489.6 405.2C491.2 407.9 489.6 411.6 488.2 414.8C486.8 418 484.8 421.9 481.4 424.4C477.9 426.9 470.4 427.4 467.7 429.9C464.9 432.4 465.4 436 464.9 439.5C464.5 442.9 464 446.8 464.9 450.4C465.8 454.1 468.1 458.2 470.4 461.4C472.7 464.6 475.4 467.1 478.6 469.6C481.8 472.1 486.9 474.7 489.6 476.4C492.3 478.2 493.9 476.9 495 480C496.1 483.1 496.2 490 496.2 495C496.2 500 496 505.8 495 510C494 514.2 492.1 516.7 490 520C487.9 523.3 484.2 525.8 482.5 530C480.8 534.2 480.8 540 480 545C479.2 550 478.3 555 477.5 560C476.7 565 475.8 570.2 475 575C474.2 579.8 473.8 585.7 472.5 589C471.2 592.3 468.1 589.8 467.5 595C466.9 600.2 468.3 611.7 468.8 620C469.2 628.3 471 638.3 470 645C469 651.7 464.6 655.8 462.5 660C460.4 664.2 459.2 666.2 457.5 670C455.8 673.8 454 678.3 452.5 682.5C451 686.7 449.8 688.8 448.8 695C447.7 701.2 446.5 711.7 446.2 720C446 728.3 446.9 738.3 447.5 745C448.1 751.7 448.8 755 450 760C451.2 765 451.7 770 455 775C458.3 780 459.2 785.8 470 790C480.8 794.2 511.7 781.7 520 800C528.3 818.3 573.3 883.3 520 900C466.7 916.7 253.3 995 200 900C146.7 805 156.2 426.7 200 330C243.8 233.3 415.8 320.8 462.5 320Z" fill="#FFCC00"/><path d="M409.9 312.1C411 310.4 412.9 307.2 414.7 305.6C416.6 304 419.1 303.7 421.2 302.4C423.4 301 425.9 298.6 427.7 297.5C429.6 296.4 431 295.9 432.6 295.9C434.2 295.9 436.1 295.9 437.5 297.5C438.9 299.1 439.7 302.9 440.7 305.6C441.8 308.3 444.3 311.6 444 313.7C443.7 315.9 441.3 317.5 439.1 318.6C437 319.7 434 320 431 320.2C428 320.5 424.2 320.5 421.2 320.2C418.3 320 415.3 319.3 413.1 318.6C411 317.9 408.8 317.3 408.2 316.2C407.7 315.1 408.8 313.9 409.9 312.1Z" fill="#FFFF00"/><path d="M443.7 387.4C444.7 386.6 446.9 385.9 448.5 386C450.1 386.1 452.4 386.8 453.3 388.1C454.2 389.3 454.5 392.1 454 393.6C453.4 395 451.5 396.8 449.9 397C448.3 397.2 445.6 396 444.4 394.9C443.2 393.9 442.9 392.1 442.7 390.8C442.6 389.6 442.7 388.2 443.7 387.4Z" fill="#FFFF00"/><path d="M427.3 402.5C428.1 401.3 430.3 400.3 432.1 399.7C433.8 399.2 435.8 399 437.5 399C439.2 399 441.6 398.9 442.3 399.7C443 400.5 442.7 402.8 441.6 403.8C440.6 404.9 438 405.2 436.2 405.9C434.3 406.6 432.2 407.8 430.7 407.9C429.2 408.1 427.8 407.5 427.3 406.6C426.7 405.7 426.5 403.6 427.3 402.5Z" fill="#FFFF00"/><path d="M421.1 412.1C422.6 410.7 424.7 412.3 425.9 413.4C427 414.6 428.1 416.6 427.9 418.9C427.8 421.2 426.6 424.6 425.2 427.1C423.8 429.6 421.4 432.5 419.7 434C418 435.5 415.8 436.7 414.9 436C414 435.3 413.9 432.3 414.2 429.9C414.6 427.5 415.8 424.6 417 421.6C418.1 418.7 419.6 413.4 421.1 412.1Z" fill="#FFFF00"/><path d="M480 323.8C481.2 321 488.3 321 492.5 321.2C496.7 321.5 502.7 322.5 505 325C507.3 327.5 507.5 333.5 506.2 336.2C505 339 501 341 497.5 341.2C494 341.5 487.9 340.4 485 337.5C482.1 334.6 478.8 326.5 480 323.8Z" fill="#FFFF00"/><path d="M344.9 325.1C370.1 324.4 348.9 325.1 351.4 325.9C353.8 326.7 356.8 328.6 359.5 330C362.2 331.4 364.6 332.8 367.6 334.1C370.6 335.3 374.1 337.2 377.4 337.3C380.6 337.4 384.1 334.9 387.1 334.9C390.1 334.9 392.5 336.5 395.2 337.3C398 338.1 401.2 339 403.4 339.7C405.5 340.5 408.8 341.6 408.2 342C407.7 342.5 399.7 342 400 342.5C400.3 343 406.2 345 410 345C413.8 345 415.2 348.3 422.5 342.5C429.8 336.7 447.2 315.6 453.7 310.5C460.3 305.4 459.2 311.9 461.9 312.1C464.6 312.4 467.3 312.7 470 312.1C472.7 311.6 475.4 310 478.1 308.9C480.8 307.8 483.7 306.8 486.2 305.6C488.8 304.4 491.9 301.3 493.6 301.6C495.2 301.8 496.3 305.5 496 307.2C495.7 309 493.7 311 491.9 312.1C490.2 313.3 487.7 313.2 485.4 314.1C483.1 314.9 482.6 316.3 478.1 317.3C473.7 318.3 462.4 317.7 458.8 320C455.2 322.3 456.3 328 456.5 331.4C456.7 334.8 458.9 336.7 459.9 340.5C460.9 344.4 461.4 350.1 462.2 354.2C462.9 358.4 464.5 363 464.5 365.7C464.5 368.3 463.3 369.8 462.2 370.2C461 370.6 459.5 369.1 457.6 367.9C455.7 366.8 453.4 364.3 450.8 363.4C448.1 362.4 444.3 361.7 441.6 362.2C439 362.8 436.9 364.5 434.8 366.8C432.7 369.1 431 373.1 429.1 375.9C427.2 378.8 425.5 381.4 423.4 383.9C421.3 386.4 418.8 388.1 416.5 390.8C414.2 393.4 411.2 396.5 409.7 399.9C408.2 403.3 408.6 408 407.4 411.3C406.2 414.7 405.2 416.9 402.5 420C399.8 423.1 394.4 426.2 391.2 430C388.1 433.8 385.4 438.3 383.8 442.5C382.1 446.7 380.8 450.8 381.2 455C381.7 459.2 383.5 465 386.2 467.5C389 470 393.5 470.4 397.5 470C401.5 469.6 405.8 467.1 410 465C414.2 462.9 419.1 462.2 422.5 457.5C425.9 452.8 428.4 441.3 430.7 436.7C433 432.1 433.9 431.5 436.2 429.9C438.4 428.3 441.4 427.1 444.4 427.1C447.4 427.1 451.2 428.3 454 429.9C456.7 431.5 459.5 434.2 460.8 436.7C462.2 439.2 461.5 441.7 462.2 444.9C462.9 448.1 463.6 452.7 464.9 455.9C466.3 459.1 466.2 460.1 470.4 464.1C474.6 468.1 486.5 474.9 490 480C493.5 485.1 491.2 490 491.2 495C491.2 500 491 505.8 490 510C489 514.2 487.1 516.7 485 520C482.9 523.3 479.2 525.8 477.5 530C475.8 534.2 475.8 540 475 545C474.2 550 473.3 555 472.5 560C471.7 565 470.8 570.2 470 575C469.2 579.8 468.8 585.7 467.5 589C466.2 592.3 463.1 589.8 462.5 595C461.9 600.2 463.3 611.7 463.8 620C464.2 628.3 466 638.3 465 645C464 651.7 459.6 655.8 457.5 660C455.4 664.2 454.2 666.2 452.5 670C450.8 673.8 449 678.3 447.5 682.5C446 686.7 444.8 688.8 443.8 695C442.7 701.2 441.5 711.7 441.2 720C441 728.3 441.9 738.3 442.5 745C443.1 751.7 443.8 755 445 760C446.2 765 446.7 769.7 450 775C453.3 780.3 453.3 787.8 465 792C476.7 796.2 510.8 782 520 800C529.2 818 573.3 883.3 520 900C466.7 916.7 253.3 995 200 900C146.7 805 175.9 425.8 200 330C224.1 234.2 319.6 325.8 344.9 325.1Z" fill="#FF9900"/><path d="M473.2 276.4C474.1 274.3 476 272 478.1 269.9C480.3 267.7 483.3 265.3 486.2 263.4C489.2 261.5 492.5 260 496 258.5C499.5 257 503.6 255.8 507.4 254.4C511.2 253.1 515 251.5 518.7 250.4C522.5 249.3 526.9 248.2 530.1 247.9C533.4 247.7 535.9 247.8 538.2 248.7C540.5 249.7 542.8 251.2 543.9 253.6C545.1 256.1 545.5 260.7 545.1 263.4C544.7 266.1 543.2 268.1 541.5 269.9C539.8 271.6 537.4 273.1 535 273.9C532.6 274.7 529 274.3 526.9 274.7C524.7 275.2 522.5 275.4 522 276.4C521.5 277.3 522 279.5 523.6 280.4C525.2 281.4 529 281.7 531.7 282.1C534.5 282.5 537.2 282.5 539.9 282.9C542.6 283.3 545 283.7 548 284.5C551 285.3 555 286.1 557.7 287.7C560.5 289.4 563 291.5 564.2 294.2C565.5 297 565.3 300.7 565.1 304C564.8 307.2 564.1 311.3 562.6 313.7C561.1 316.2 558.6 317.5 556.1 318.6C553.7 319.7 550.7 320.5 548 320.2C545.3 320 542.3 318.4 539.9 317C537.4 315.6 535.5 312.4 533.4 312.1C531.2 311.9 529.3 314.6 526.9 315.4C524.4 316.2 521.7 316.6 518.7 317C515.8 317.4 512.2 317.9 509 317.8C505.7 317.7 502.1 317.1 499.2 316.2C496.4 315.2 492.9 314.6 491.9 312.1C491 309.7 494.2 304 493.6 301.6C492.9 299.1 489 298.9 487.9 297.5C486.8 296.1 488.1 294.4 487.1 293.4C486 292.5 483.3 292.8 481.4 291.8C479.5 290.9 477 289.4 475.7 287.7C474.3 286.1 473.7 284 473.2 282.1C472.8 280.2 472.4 278.4 473.2 276.4Z" fill="#FF9900"/><path d="M500.9 325.1C501.4 323.4 504.9 322 507.4 321.1C509.8 320.1 512.8 319.4 515.5 319.4C518.2 319.4 522 319.8 523.6 321.1C525.2 322.3 525.8 325 525.2 326.7C524.7 328.5 522.5 330.5 520.4 331.6C518.2 332.7 515 333.2 512.2 333.2C509.5 333.2 506 333 504.1 331.6C502.2 330.3 500.3 326.9 500.9 325.1Z" fill="#FF9900"/><path d="M501.7 218.7C502.2 217.5 504.5 216.8 505.7 217.1C507 217.3 509 219.1 509.3 220.3C509.6 221.5 508.5 223.8 507.4 224.4C506.2 225 503.4 225 502.5 224C501.5 223.1 501.1 219.9 501.7 218.7Z" fill="#FF9900"/><path d="M300 602.5C300.4 600 305.8 596.7 310 595C314.2 593.3 320 593.3 325 592.5C330 591.7 335 589.6 340 590C345 590.4 351.7 592.5 355 595C358.3 597.5 360 601.7 360 605C360 608.3 357.5 612.5 355 615C352.5 617.5 348.8 619.6 345 620C341.2 620.4 336.7 618.8 332.5 617.5C328.3 616.2 324.2 613.8 320 612.5C315.8 611.2 310.8 611.7 307.5 610C304.2 608.3 299.6 605 300 602.5Z" fill="#FFCC00"/><path d="M330 607.5C330.4 605 336.2 602.1 340 602.5C343.8 602.9 350 607.1 352.5 610C355 612.9 355.8 617.5 355 620C354.2 622.5 350.4 625.4 347.5 625C344.6 624.6 340.4 620.4 337.5 617.5C334.6 614.6 329.6 610 330 607.5Z" fill="#FFFF00"/><path d="M325 623.8C326.2 621.9 334.2 620.4 340 620C345.8 619.6 353.3 621.2 360 621.2C366.7 621.2 376.5 618.8 380 620C383.5 621.2 383.3 626.5 381.2 628.8C379.2 631 372.7 633.1 367.5 633.8C362.3 634.4 355.8 632.9 350 632.5C344.2 632.1 336.7 632.7 332.5 631.2C328.3 629.8 323.8 625.6 325 623.8Z" fill="#FFCC00"/><path d="M397.5 655C399.4 652.7 403.8 649.2 407.5 648.8C411.2 648.3 417.5 649.8 420 652.5C422.5 655.2 422.9 660.8 422.5 665C422.1 669.2 420 675 417.5 677.5C415 680 410.4 680.8 407.5 680C404.6 679.2 401.9 675.4 400 672.5C398.1 669.6 396.7 665.4 396.2 662.5C395.8 659.6 395.6 657.3 397.5 655Z" fill="#FFCC00"/><path d="M445 650C447.3 647.1 454.2 644.6 457.5 645C460.8 645.4 464.2 649.2 465 652.5C465.8 655.8 465 662.1 462.5 665C460 667.9 453.1 670.4 450 670C446.9 669.6 444.6 665.8 443.8 662.5C442.9 659.2 442.7 652.9 445 650Z" fill="#FFCC00"/><path d="M317.5 367.5C329.6 365.8 369.4 364.6 380 367.5C390.6 370.4 382.5 379.6 381.2 385C380 390.4 376 395.4 372.5 400C369 404.6 364.2 408.8 360 412.5C355.8 416.2 351.7 419.2 347.5 422.5C343.3 425.8 339.2 428.8 335 432.5C330.8 436.2 326.2 441.2 322.5 445C318.8 448.8 315.8 452.5 312.5 455C309.2 457.5 305.8 460 302.5 460C299.2 460 294.6 458.3 292.5 455C290.4 451.7 290 445.8 290 440C290 434.2 291.5 426.2 292.5 420C293.5 413.8 295 407.9 296.2 402.5C297.5 397.1 298.1 391.7 300 387.5C301.9 383.3 304.6 380.8 307.5 377.5C310.4 374.2 305.4 369.2 317.5 367.5Z" fill="#FF0000"/><path d="M478.1 276.4C478.8 274.3 480.8 273.1 483 271.5C485.2 269.9 488.1 268.1 491.1 266.6C494.1 265.1 497.6 263.9 500.9 262.6C504.1 261.2 507.4 259.9 510.6 258.5C513.9 257.1 517.4 255.5 520.4 254.4C523.3 253.4 526.1 252.3 528.5 252C530.9 251.7 533.1 252 535 252.8C536.9 253.6 538.9 255.1 539.9 256.9C540.8 258.6 541.2 261.5 540.7 263.4C540.1 265.3 538.4 267.2 536.6 268.2C534.9 269.3 532.3 269.6 530.1 269.9C528 270.1 525.5 269.3 523.6 269.9C521.7 270.4 520.1 271.8 518.7 273.1C517.4 274.5 515.8 276.4 515.5 278C515.2 279.6 515.8 281.8 517.1 282.9C518.5 284 521.5 284 523.6 284.5C525.8 285 528.4 285 530.1 286.1C531.9 287.2 533.6 289.1 534.2 291C534.7 292.9 534.3 295.3 533.4 297.5C532.4 299.7 530.4 302.1 528.5 304C526.6 305.9 524.4 307.5 522 308.9C519.6 310.2 516.8 311.6 513.9 312.1C510.9 312.7 507.1 312.7 504.1 312.1C501.1 311.6 498 310.2 496 308.9C494 307.5 492.5 305.9 491.9 304C491.4 302.1 492.3 299.4 492.7 297.5C493.2 295.6 494.9 293.8 494.4 292.6C493.8 291.4 491.4 290.9 489.5 290.2C487.6 289.5 484.8 289.6 483 288.6C481.2 287.5 479.7 285.7 478.9 283.7C478.1 281.7 477.4 278.4 478.1 276.4Z" fill="#FF0000"/><path d="M548.8 297.5C549.6 296.1 551.4 295.6 552.9 295.9C554.4 296.1 556.7 297.5 557.7 299.1C558.8 300.7 559.5 303.6 559.4 305.6C559.2 307.7 558.3 310.5 556.9 311.3C555.6 312.1 552.7 311.7 551.2 310.5C549.8 309.3 548.4 306.2 548 304C547.6 301.8 548 298.9 548.8 297.5Z" fill="#FF0000"/><path d="M275 532.5C276.2 528.8 281.7 525 285 522.5C288.3 520 291.2 519.2 295 517.5C298.8 515.8 303.8 514.6 307.5 512.5C311.2 510.4 314.2 507.1 317.5 505C320.8 502.9 323.8 501.7 327.5 500C331.2 498.3 335.8 496.2 340 495C344.2 493.8 348.3 492.5 352.5 492.5C356.7 492.5 361.7 493.8 365 495C368.3 496.2 370 497.5 372.5 500C375 502.5 377.1 509.2 380 510C382.9 510.8 386.7 507.5 390 505C393.3 502.5 396.7 497.9 400 495C403.3 492.1 406.7 490 410 487.5C413.3 485 416.7 482.5 420 480C423.3 477.5 426.7 474.6 430 472.5C433.3 470.4 437.1 469.6 440 467.5C442.9 465.4 446.2 463.3 447.5 460C448.8 456.7 448.1 451.5 447.5 447.5C446.9 443.5 443.3 437.5 443.8 436.2C444.2 435 448.5 437.3 450 440C451.5 442.7 451.2 448.8 452.5 452.5C453.8 456.2 455 459.6 457.5 462.5C460 465.4 464.2 467.9 467.5 470C470.8 472.1 475 472.9 477.5 475C480 477.1 481.2 479.2 482.5 482.5C483.8 485.8 485 491.2 485 495C485 498.8 484.2 502.1 482.5 505C480.8 507.9 476.9 509.6 475 512.5C473.1 515.4 472.5 519.2 471.2 522.5C470 525.8 469 529.2 467.5 532.5C466 535.8 462.5 539.6 462.5 542.5C462.5 545.4 466.7 546.7 467.5 550C468.3 553.3 467.9 558.3 467.5 562.5C467.1 566.7 465.4 570.6 465 575C464.6 579.4 464.7 589.8 465 589C465.3 588.2 466.7 572 467 570C467.3 568 468.2 574.7 467 577C465.8 579.3 461.8 581.4 460 584C458.2 586.6 458 590.1 456.5 592.8C455 595.4 452.4 597.4 451.2 599.8C450.1 602.1 451 605 449.5 606.8C448 608.5 445.1 609.4 442.5 610.2C439.9 611.1 436.7 611.4 433.8 612C430.8 612.6 427.6 614.6 425 613.8C422.4 612.9 419.5 609.7 418 606.8C416.5 603.8 416.8 599.5 416.2 596.2C415.7 593 416 590.1 414.5 587.5C413 584.9 408.9 583.4 407.5 580.5C406.1 577.6 405.8 573.4 406.2 570C406.7 566.6 409.2 564.2 410 560C410.8 555.8 412.9 547.7 411.2 545C409.6 542.3 404.4 542.7 400 543.8C395.6 544.8 390 548.8 385 551.2C380 553.8 375.8 556.7 370 558.8C364.2 560.8 357.5 562.1 350 563.8C342.5 565.4 331 566.7 325 568.8C319 570.8 314.6 576 313.8 576.2C312.9 576.5 319.8 570 320 570C320.2 570 318.3 574 315 576.2C311.7 578.5 304.6 582.3 300 583.8C295.4 585.2 290.8 585.6 287.5 585C284.2 584.4 277.1 581.2 280 580C282.9 578.8 302.9 579.6 305 577.5C307.1 575.4 296.2 570.8 292.5 567.5C288.8 564.2 285 561.2 282.5 557.5C280 553.8 278.8 549.2 277.5 545C276.2 540.8 273.8 536.2 275 532.5Z" fill="#FF0000"/><path d="M414.5 629.5C415.4 627.2 418.6 624.1 421.5 622.5C424.4 620.9 428.5 620 432 620C435.5 620 439 621.8 442.5 622.5C446 623.2 450.1 623.1 453 624.2C455.9 625.4 459.1 627.2 460 629.5C460.9 631.8 459.7 635.6 458.2 638.2C456.8 640.9 453.9 643.4 451.2 645.2C448.6 647.1 445.7 649.2 442.5 649.5C439.3 649.8 435.2 648.6 432 647C428.8 645.4 425.9 641.8 423.2 640C420.6 638.2 417.7 638.2 416.2 636.5C414.8 634.8 413.6 631.8 414.5 629.5Z" fill="#FF0000"/><path d="M443 583C444 581.3 448.3 581.2 450 582C451.7 582.8 453 585.7 453 587.5C453 589.3 451.5 592.2 450 593C448.5 593.8 444.9 593.7 443.8 592C442.6 590.3 442 584.7 443 583Z" fill="#FF9900"/><path d="M327.5 655C329.8 652.7 333.8 651 337.5 651.2C341.2 651.5 346.7 654 350 656.2C353.3 658.5 354.6 664 357.5 665C360.4 666 364.2 662.5 367.5 662.5C370.8 662.5 375.4 662.9 377.5 665C379.6 667.1 379.2 671.2 380 675C380.8 678.8 380.8 683.8 382.5 687.5C384.2 691.2 387.1 695 390 697.5C392.9 700 396.2 701.2 400 702.5C403.8 703.8 408.8 706.2 412.5 705C416.2 703.8 420.4 698.8 422.5 695C424.6 691.2 422.9 685 425 682.5C427.1 680 432.5 679.2 435 680C437.5 680.8 438.8 684.2 440 687.5C441.2 690.8 442.3 695.4 442.5 700C442.7 704.6 442.5 710.8 441.2 715C440 719.2 437.7 722.9 435 725C432.3 727.1 427.9 726.2 425 727.5C422.1 728.8 419.2 729.6 417.5 732.5C415.8 735.4 414.6 741.2 415 745C415.4 748.8 417.5 752.5 420 755C422.5 757.5 427.5 757.5 430 760C432.5 762.5 434 765.2 435 770C436 774.8 435.6 790.9 436.2 789C436.9 787.1 438.3 762 438.8 758.9C439.2 755.7 437.8 766.4 438.8 770.1C439.7 773.9 441.6 778.6 444.4 781.4C447.2 784.2 453.6 784.5 455.6 787C457.7 789.5 456.9 793.3 456.6 796.4C456.3 799.5 455.2 802.3 453.8 805.8C452.4 809.2 449.5 813.3 448.1 817C446.7 820.8 445.6 824.5 445.3 828.3C445 832 447.4 836.7 446.3 839.5C445.2 842.3 441.3 843.9 438.8 845.1C436.3 846.4 433.8 846.1 431.3 847C428.8 847.9 426.9 849.5 423.8 850.8C420.6 852 414.4 862 412.5 854.5C410.6 847 418.8 823.3 412.5 805.8C406.3 788.3 382.5 760.5 375 749.5C367.5 738.5 370.4 742.8 367.5 740C364.6 737.2 360 735 357.5 732.5C355 730 354.2 727.9 352.5 725C350.8 722.1 349.6 717.5 347.5 715C345.4 712.5 342.1 712.5 340 710C337.9 707.5 336.7 703.8 335 700C333.3 696.2 331.7 691.7 330 687.5C328.3 683.3 326 678.8 325 675C324 671.2 323.3 668.3 323.8 665C324.2 661.7 325.2 657.3 327.5 655Z" fill="#FF0000"/><path d="M420 730.8C421.9 729 425.3 726.2 427.5 726.1C429.7 725.9 431.1 727.5 433.1 729.8C435.2 732.2 439.9 737 439.7 740.1C439.5 743.3 432.4 745.4 432.2 748.6C432 751.7 437.5 755.1 438.8 758.9C440 762.6 439.1 767.6 439.7 771.1C440.3 774.5 443.3 777.6 442.5 779.5C441.7 781.4 437.2 782.8 435 782.3C432.8 781.8 430.6 779 429.4 776.7C428.1 774.3 427.5 770.9 427.5 768.3C427.5 765.6 430.3 762.6 429.4 760.8C428.4 758.9 424.2 758.3 421.9 757C419.5 755.8 416.1 755.4 415.3 753.3C414.5 751.1 417 746.7 417.2 743.9C417.4 741.1 415.8 738.6 416.3 736.4C416.7 734.2 418.1 732.5 420 730.8Z" fill="#FF9900"/><path d="M435 687.5C436.5 684.8 439.7 684.6 441.2 686.2C442.8 687.9 444.1 693.5 444.5 697.5C444.9 701.5 444.7 706.2 443.8 710C442.8 713.8 440.4 718.8 438.8 720C437.1 721.2 434.8 720.4 433.8 717.5C432.7 714.6 432.3 707.5 432.5 702.5C432.7 697.5 433.5 690.2 435 687.5Z" fill="#FF0000"/><path d="M483 276.4C483.8 274.9 486.8 273 489.5 271.5C492.2 270 496 268.8 499.2 267.4C502.5 266.1 505.7 264.7 509 263.4C512.2 262 515.8 260.5 518.7 259.3C521.7 258.1 524.3 256.6 526.9 256.1C529.4 255.5 532.4 255.4 534.2 256.1C535.9 256.7 537.2 258.6 537.4 260.1C537.7 261.6 537 263.9 535.8 265C534.6 266.1 532.4 266.4 530.1 266.6C527.8 266.9 524.7 266.1 522 266.6C519.3 267.2 516 268.5 513.9 269.9C511.7 271.2 510.9 273.4 509 274.7C507.1 276.1 504.7 277.2 502.5 278C500.3 278.8 498.2 279.1 496 279.6C493.8 280.2 491.4 281.1 489.5 281.2C487.6 281.4 485.7 281.2 484.6 280.4C483.5 279.6 482.2 277.9 483 276.4Z" fill="#CC0000"/><path d="M498.4 304C498.6 302.5 500.7 300.5 502.5 299.1C504.3 297.8 506.8 297 509 295.9C511.2 294.8 513.1 293.7 515.5 292.6C517.9 291.5 521.2 289.8 523.6 289.4C526.1 289 528.8 289.1 530.1 290.2C531.5 291.3 532.3 293.8 531.7 295.9C531.2 297.9 529 300.5 526.9 302.4C524.7 304.3 521.7 306 518.7 307.2C515.8 308.5 511.8 309.5 509 309.7C506.2 309.8 503.4 309 501.7 308.1C499.9 307.1 498.3 305.5 498.4 304Z" fill="#CC0000"/><path d="M486.2 277.2C486.5 276.1 492.7 273.7 496 272.3C499.2 271 503.6 269.2 505.7 269.1C507.9 268.9 509.5 270.4 509 271.5C508.5 272.6 504.9 274.3 502.5 275.6C500.1 276.8 497.1 278.5 494.4 278.8C491.7 279.1 486 278.3 486.2 277.2Z" fill="#990000"/><path d="M504.1 302.4C503.9 301 507.9 299 510.6 297.5C513.3 296 517.7 294.1 520.4 293.4C523.1 292.8 525.8 292.8 526.9 293.4C528 294.1 528 296 526.9 297.5C525.8 299 522.8 301 520.4 302.4C517.9 303.7 515 305.6 512.2 305.6C509.5 305.6 504.4 303.7 504.1 302.4Z" fill="#990000"/><path d="M298.8 542.5C299.2 540 303.5 537.9 307.5 535C311.5 532.1 317.9 527.9 322.5 525C327.1 522.1 330.4 519.4 335 517.5C339.6 515.6 345 514.2 350 513.8C355 513.3 360.4 514 365 515C369.6 516 374.8 517.5 377.5 520C380.2 522.5 380.8 526.7 381.2 530C381.7 533.3 381.9 537.5 380 540C378.1 542.5 374.2 543.5 370 545C365.8 546.5 360.4 547.9 355 548.8C349.6 549.6 343.3 549.6 337.5 550C331.7 550.4 325.4 551.2 320 551.2C314.6 551.2 308.5 551.5 305 550C301.5 548.5 298.3 545 298.8 542.5Z" fill="#CC0000"/><path d="M381.2 510C382.7 505.2 386.5 507.5 390 506.2C393.5 505 399.2 501.9 402.5 502.5C405.8 503.1 409 506.7 410 510C411 513.3 409.4 518.8 408.8 522.5C408.1 526.2 408.1 530 406.2 532.5C404.4 535 400.6 536.2 397.5 537.5C394.4 538.8 390.2 540.4 387.5 540C384.8 539.6 382.3 540 381.2 535C380.2 530 379.8 514.8 381.2 510Z" fill="#CC0000"/><path d="M447.5 466.2C450.4 466.7 454.2 470.2 457.5 472.5C460.8 474.8 464.6 476.7 467.5 480C470.4 483.3 474.2 488.3 475 492.5C475.8 496.7 474.2 500.8 472.5 505C470.8 509.2 467.1 513.3 465 517.5C462.9 521.7 461.7 525.8 460 530C458.3 534.2 457.1 539.2 455 542.5C452.9 545.8 450.4 548.3 447.5 550C444.6 551.7 440.4 553.3 437.5 552.5C434.6 551.7 431.7 548.3 430 545C428.3 541.7 427.1 536.7 427.5 532.5C427.9 528.3 431.2 524.6 432.5 520C433.8 515.4 435.4 509.2 435 505C434.6 500.8 431.7 497.9 430 495C428.3 492.1 425 490.4 425 487.5C425 484.6 427.5 480.4 430 477.5C432.5 474.6 437.1 471.9 440 470C442.9 468.1 444.6 465.8 447.5 466.2Z" fill="#CC0000"/><path d="M450 500C453.3 497.5 459.2 497.1 462.5 497.5C465.8 497.9 469.2 500 470 502.5C470.8 505 469.2 509.2 467.5 512.5C465.8 515.8 462.5 519.2 460 522.5C457.5 525.8 455 529.2 452.5 532.5C450 535.8 447.5 540.4 445 542.5C442.5 544.6 439.2 545.8 437.5 545C435.8 544.2 434.8 540.8 435 537.5C435.2 534.2 437.5 529.2 438.8 525C440 520.8 440.6 516.7 442.5 512.5C444.4 508.3 446.7 502.5 450 500Z" fill="#990000"/><path d="M441.2 520C442.3 517.3 443.8 515 445 515C446.2 515 448.3 517.5 448.8 520C449.2 522.5 448.5 527.3 447.5 530C446.5 532.7 444 536 442.5 536.2C441 536.5 439 534 438.8 531.2C438.5 528.5 440.2 522.7 441.2 520Z" fill="#990099"/><path d="M452.5 507C453.3 506.1 457.6 505.7 458.8 506.2C459.9 506.8 460.3 509.6 459.5 510.5C458.7 511.4 454.9 512.1 453.8 511.5C452.6 510.9 451.7 507.9 452.5 507Z" fill="#990099"/><path d="M425 591.2C426.2 589.6 430.6 588.1 432.5 588.8C434.4 589.4 436.5 592.9 436.2 595C436 597.1 433.1 600.6 431.2 601.2C429.4 601.9 426 600.4 425 598.8C424 597.1 423.8 592.9 425 591.2Z" fill="#CC0000"/><path d="M430 632.5C431.5 630.4 438.8 629.8 442.5 630C446.2 630.2 451 631.7 452.5 633.8C454 635.8 452.9 640.4 451.2 642.5C449.6 644.6 445.4 646.2 442.5 646.2C439.6 646.2 435.8 644.8 433.8 642.5C431.7 640.2 428.5 634.6 430 632.5Z" fill="#CC0000"/><path d="M376.2 722.5C377.3 719.6 381.9 718.5 385 717.5C388.1 716.5 392.5 715 395 716.2C397.5 717.5 399.6 721.9 400 725C400.4 728.1 399.6 732.5 397.5 735C395.4 737.5 390.6 740 387.5 740C384.4 740 380.6 737.9 378.8 735C376.9 732.1 375.2 725.4 376.2 722.5Z" fill="#CC0000"/><path d="M375.9 725.1C377.2 722.9 381.1 720.3 384.4 719.5C387.7 718.7 393.3 718.9 395.6 720.4C398 722 398.8 726.2 398.4 728.9C398.1 731.5 396.1 734.8 393.8 736.4C391.4 737.9 387.2 738.9 384.4 738.3C381.6 737.6 378.3 734.8 376.9 732.6C375.5 730.4 374.7 727.3 375.9 725.1Z" fill="#CC0000"/><path d="M418.1 786.1C419.4 784.8 424.4 786.2 427.5 787C430.6 787.8 434.9 788.6 436.9 790.8C438.9 792.9 440 797 439.7 800.1C439.4 803.3 436.1 806.7 435 809.5C433.9 812.3 434.4 814.5 433.1 817C431.9 819.5 429.2 824.2 427.5 824.5C425.8 824.8 423.8 822 422.8 818.9C421.9 815.8 422.4 809.8 421.9 805.8C421.4 801.7 420.6 797.8 420 794.5C419.4 791.2 416.9 787.3 418.1 786.1Z" fill="#CC0000"/><path d="M422.8 805.8C424.1 804 429.4 803.3 431.3 803.9C433.1 804.5 434.4 807.5 434.1 809.5C433.8 811.5 431.1 815.3 429.4 816.1C427.7 816.9 424.9 815.9 423.8 814.2C422.7 812.5 421.6 807.5 422.8 805.8Z" fill="#990000"/><path d="M436.2 690C437.4 688.2 440.2 687.4 441.2 689.5C442.3 691.6 442.7 698.2 442.5 702.5C442.3 706.8 441.2 713.1 440 715C438.8 716.9 436.4 716.2 435.5 713.8C434.6 711.2 434.4 704 434.5 700C434.6 696 435.1 691.8 436.2 690Z" fill="#CC0000"/><path d="M448.1 817C449.5 813.3 452.4 809.2 453.8 805.8C455.2 802.3 456.3 799.5 456.6 796.4C456.9 793.3 453.6 788.6 455.6 787C457.7 785.4 466.3 777 468.8 787C471.3 797 476.9 837 470.6 847C464.4 857 436.6 847.3 431.3 847C425.9 846.7 436.3 846.4 438.8 845.1C441.3 843.9 445.2 842.3 446.3 839.5C447.4 836.7 445 832 445.3 828.3C445.6 824.5 446.7 820.8 448.1 817Z" fill="#FF9900"/><path d="M460.3 814.2C461.4 812.3 464.8 811.5 465.9 813.3C467.1 815 467.4 820.8 467.3 824.5C467.1 828.3 466.2 834.2 465 835.8C463.9 837.3 461.3 835.8 460.3 833.9C459.4 832 459.4 827.8 459.4 824.5C459.4 821.2 459.2 816.1 460.3 814.2Z" fill="#FFCC00"/><path d="M423.8 850.8C425.3 845.8 427.5 848.3 431.3 847C435 845.8 441.6 843.9 446.3 843.3C450.9 842.6 456.6 837.6 459.4 843.3C462.2 848.9 469.4 871.4 463.1 877C456.9 882.6 428.4 881.4 421.9 877C415.3 872.6 422.2 855.8 423.8 850.8Z" fill="#FF9900"/><path d="M427.5 851.7C429.1 850.3 432 850 435 849.8C438 849.7 443.3 849.7 445.3 850.8C447.4 851.9 447.7 854.8 447.2 856.4C446.7 857.9 444.5 860 442.5 860.1C440.5 860.3 436.9 857.3 435 857.3C433.1 857.3 432.4 859.4 431.3 860.1C430.2 860.9 429.4 862.3 428.4 862C427.5 861.7 425.8 860 425.6 858.3C425.5 856.5 425.9 853.1 427.5 851.7Z" fill="#FFCC00"/><path d="M425.3 857.3C425.8 856 428.3 855.9 429.4 856.4C430.4 856.9 431.4 858.7 431.6 860.1C431.9 861.5 431.8 864.1 430.9 864.8C429.9 865.5 426.9 865.5 426 864.3C425.1 863 424.7 858.6 425.3 857.3Z" fill="#FFFF00"/><path d="M637.5 58.8C635 63.3 637.7 67.1 640 70C642.3 72.9 647.3 74.6 651.2 76.2C655.2 77.9 660.2 78.5 663.8 80C667.3 81.5 670.6 82.7 672.5 85C674.4 87.3 676 91 675 93.8C674 96.5 669.6 99.2 666.2 101.2C662.9 103.3 657.4 103.8 655 106.2C652.6 108.8 653.9 112.9 652 116.2C650.1 119.6 646.8 123.3 643.8 126.2C640.7 129.2 637.1 131 633.8 133.8C630.4 136.5 626.2 139.4 623.8 142.5C621.2 145.6 620.8 149.8 618.8 152.5C616.7 155.2 614 157.3 611.2 158.8C608.5 160.2 605.2 161.7 602.5 161.2C599.8 160.8 596.8 158.1 595 156.2C593.2 154.4 592.8 149.4 592 150C591.2 150.6 589.5 156.7 590 160C590.5 163.3 592.9 167.3 595 170C597.1 172.7 599.2 175.4 602.5 176.2C605.8 177.1 611 176 615 175C619 174 622.9 171.7 626.2 170C629.6 168.3 632.3 166.7 635 165C637.7 163.3 640 161.7 642.5 160C645 158.3 647.9 155.6 650 155C652.1 154.4 652.9 155 655 156.2C657.1 157.5 660.4 159.8 662.5 162.5C664.6 165.2 665.8 168.8 667.5 172.5C669.2 176.2 670.8 181.7 672.5 185C674.2 188.3 673.8 190.8 677.5 192.5C681.2 194.2 692.1 202.1 695 195C697.9 187.9 689.2 168.3 695 150C700.8 131.7 728.3 101.7 730 85C731.7 68.3 713.3 56.7 705 50C696.7 43.3 688.3 46.2 680 45C671.7 43.8 662.1 40.2 655 42.5C647.9 44.8 640 54.2 637.5 58.8Z" fill="#FFFF00"/><path d="M638.8 60C637.1 63.3 642.3 62.1 645 62.5C647.7 62.9 652.1 62.1 655 62.5C657.9 62.9 661.2 63.3 662.5 65C663.8 66.7 661.2 70.8 662.5 72.5C663.8 74.2 667.5 75 670 75C672.5 75 675 72.5 677.5 72.5C680 72.5 684.4 72.9 685 75C685.6 77.1 681.7 81.7 681.2 85C680.8 88.3 683.5 91.7 682.5 95C681.5 98.3 677.9 102.5 675 105C672.1 107.5 667.5 107.5 665 110C662.5 112.5 662.3 116.7 660 120C657.7 123.3 654.4 127.3 651.2 130C648.1 132.7 644.6 133.8 641.2 136.2C637.9 138.8 634.2 142.1 631.2 145C628.3 147.9 626.7 150.8 623.8 153.8C620.8 156.7 617.1 160.4 613.8 162.5C610.4 164.6 606 165 603.8 166.2C601.5 167.5 599.6 168.8 600 170C600.4 171.2 603.3 173.8 606.2 173.8C609.2 173.8 614 171.7 617.5 170C621 168.3 624.2 165.8 627.5 163.8C630.8 161.7 634.2 159.8 637.5 157.5C640.8 155.2 644.6 151.2 647.5 150C650.4 148.8 652.1 148.8 655 150C657.9 151.2 662.3 154.2 665 157.5C667.7 160.8 669.4 165.4 671.2 170C673.1 174.6 674.8 181 676.2 185C677.7 189 676.9 192.1 680 193.8C683.1 195.4 692.5 202.3 695 195C697.5 187.7 689.2 168.3 695 150C700.8 131.7 728.3 101.7 730 85C731.7 68.3 713.3 56.7 705 50C696.7 43.3 688.3 46.2 680 45C671.7 43.8 661.9 40 655 42.5C648.1 45 640.4 56.7 638.8 60Z" fill="#FFCC00"/><path d="M631.2 50C633.3 48.8 640.2 48.8 645 48.8C649.8 48.8 655 48.8 660 50C665 51.2 669.6 54.8 675 56.2C680.4 57.7 687.9 58.5 692.5 58.8C697.1 59 700.4 54.8 702.5 57.5C704.6 60.2 704.6 70.4 705 75C705.4 79.6 700.8 83.8 705 85C709.2 86.2 725.8 79.2 730 82.5C734.2 85.8 734.6 97.9 730 105C725.4 112.1 708.3 117.5 702.5 125C696.7 132.5 696.2 138.3 695 150C693.8 161.7 696.9 187.7 695 195C693.1 202.3 686.2 195.4 683.8 193.8C681.2 192.1 681.5 189 680 185C678.5 181 677.1 175 675 170C672.9 165 670.4 158.8 667.5 155C664.6 151.2 660.4 150 657.5 147.5C654.6 145 650.4 142.5 650 140C649.6 137.5 652.5 135 655 132.5C657.5 130 661.7 127.9 665 125C668.3 122.1 672.1 118.3 675 115C677.9 111.7 680.6 108.3 682.5 105C684.4 101.7 686 97.9 686.2 95C686.5 92.1 683.5 90 683.8 87.5C684 85 686 82.5 687.5 80C689 77.5 692.5 74.6 692.5 72.5C692.5 70.4 690.4 68.5 687.5 67.5C684.6 66.5 678.8 67.1 675 66.2C671.2 65.4 668.3 63.8 665 62.5C661.7 61.2 658.8 59.6 655 58.8C651.2 57.9 646.2 57.9 642.5 57.5C638.8 57.1 634.4 57.5 632.5 56.2C630.6 55 629.2 51.2 631.2 50Z" fill="#FF9900"/><path d="M650 140C647.5 140.4 643.3 144 640 146.2C636.7 148.5 633.3 151 630 153.8C626.7 156.5 623.3 160.2 620 162.5C616.7 164.8 612.7 166.2 610 167.5C607.3 168.8 604.6 169.2 603.8 170C602.9 170.8 603.1 172.5 605 172.5C606.9 172.5 611.7 171.7 615 170C618.3 168.3 621.7 165 625 162.5C628.3 160 631.7 157.5 635 155C638.3 152.5 641.7 149.4 645 147.5C648.3 145.6 654.2 145 655 143.8C655.8 142.5 652.5 139.6 650 140Z" fill="#FF9900"/><path d="M641.2 61.2C642.9 60.2 649 61.5 652.5 62.5C656 63.5 660 65.4 662.5 67.5C665 69.6 667.9 73.3 667.5 75C667.1 76.7 662.9 77.7 660 77.5C657.1 77.3 652.9 75.2 650 73.8C647.1 72.3 644 70.8 642.5 68.8C641 66.7 639.6 62.3 641.2 61.2Z" fill="#FFFF00"/><path d="M702.5 93.8C708.8 92.7 725.4 85.6 730 87.5C734.6 89.4 735.4 99.6 730 105C724.6 110.4 704.2 116.7 697.5 120C690.8 123.3 692.9 123.3 690 125C687.1 126.7 683.8 128.1 680 130C676.2 131.9 671.7 134.4 667.5 136.2C663.3 138.1 657.9 141 655 141.2C652.1 141.5 649.6 139.6 650 137.5C650.4 135.4 654.2 131.9 657.5 128.8C660.8 125.6 666.2 122.1 670 118.8C673.8 115.4 677.7 111.9 680 108.8C682.3 105.6 681.7 102.5 683.8 100C685.8 97.5 689.4 94.8 692.5 93.8C695.6 92.7 696.2 94.8 702.5 93.8Z" fill="#FF0000"/><path d="M692.5 97C695.6 96 703.3 94.5 705 95C706.7 95.5 704.6 98.1 702.5 100C700.4 101.9 695.4 105 692.5 106.2C689.6 107.5 686 108.3 685 107.5C684 106.7 685 103 686.2 101.2C687.5 99.5 689.4 98 692.5 97Z" fill="#CC0000"/><path d="M694.5 63.8C695.9 62 702.2 59.8 703.8 61.2C705.3 62.7 705.1 70.8 703.8 72.5C702.4 74.2 697 73.2 695.5 71.8C694 70.3 693.1 65.5 694.5 63.8Z" fill="#FF0000"/><path d="M621.2 21.2C623.3 20 627.5 21 630 22.5C632.5 24 634.4 27.3 636.2 30C638.1 32.7 639 36.2 641.2 38.8C643.5 41.2 648.8 43.1 650 45C651.2 46.9 650.4 49 648.8 50C647.1 51 643.1 51.7 640 51.2C636.9 50.8 632.9 49.4 630 47.5C627.1 45.6 624.6 42.9 622.5 40C620.4 37.1 617.7 33.1 617.5 30C617.3 26.9 619.2 22.5 621.2 21.2Z" fill="#FFFF00" stroke="#FFFF00" stroke-width="25" stroke-linejoin="round"/><path d="M621.2 21.2C623.3 20 627.5 21 630 22.5C632.5 24 634.4 27.3 636.2 30C638.1 32.7 639 36.2 641.2 38.8C643.5 41.2 648.8 43.1 650 45C651.2 46.9 650.4 49 648.8 50C647.1 51 643.1 51.7 640 51.2C636.9 50.8 632.9 49.4 630 47.5C627.1 45.6 624.6 42.9 622.5 40C620.4 37.1 617.7 33.1 617.5 30C617.3 26.9 619.2 22.5 621.2 21.2Z" fill="#FFCC00" stroke="#FFCC00" stroke-width="16" stroke-linejoin="round"/><path d="M621.2 21.2C623.3 20 627.5 21 630 22.5C632.5 24 634.4 27.3 636.2 30C638.1 32.7 639 36.2 641.2 38.8C643.5 41.2 648.8 43.1 650 45C651.2 46.9 650.4 49 648.8 50C647.1 51 643.1 51.7 640 51.2C636.9 50.8 632.9 49.4 630 47.5C627.1 45.6 624.6 42.9 622.5 40C620.4 37.1 617.7 33.1 617.5 30C617.3 26.9 619.2 22.5 621.2 21.2Z" fill="#FF9900" stroke="#FF9900" stroke-width="8" stroke-linejoin="round"/><path d="M621.2 21.2C623.3 20 627.5 21 630 22.5C632.5 24 634.4 27.3 636.2 30C638.1 32.7 639 36.2 641.2 38.8C643.5 41.2 648.8 43.1 650 45C651.2 46.9 650.4 49 648.8 50C647.1 51 643.1 51.7 640 51.2C636.9 50.8 632.9 49.4 630 47.5C627.1 45.6 624.6 42.9 622.5 40C620.4 37.1 617.7 33.1 617.5 30C617.3 26.9 619.2 22.5 621.2 21.2Z" fill="#FF0000"/><path d="M623.8 25C625.2 24.2 629.6 25.8 631.2 27.5C632.9 29.2 634.4 33.3 633.8 35C633.1 36.7 629.4 37.9 627.5 37.5C625.6 37.1 623.1 34.6 622.5 32.5C621.9 30.4 622.3 25.8 623.8 25Z" fill="#CC0000"/></g><use href="#lines"/><g fill="#8E1F8E"><text x="189" y="80.6" font-size="23.5" font-weight="300" textLength="48" lengthAdjust="spacingAndGlyphs">連江</text><text x="195.2" y="112.7" font-size="32.5" textLength="60" lengthAdjust="spacingAndGlyphs">40-50</text><text x="70.5" y="249.4" font-size="23.5" font-weight="300" textLength="48.5" lengthAdjust="spacingAndGlyphs">金門</text><text x="71.8" y="280" font-size="32.5" textLength="60.5" lengthAdjust="spacingAndGlyphs">70-90</text><text x="132.4" y="466.4" font-size="23.5" font-weight="300" textLength="49.5" lengthAdjust="spacingAndGlyphs">澎湖</text><text x="133" y="493.8" font-size="32.5" textLength="60" lengthAdjust="spacingAndGlyphs">50-70</text></g></g>
<rect x="790" y="0" width="1" height="876" fill="#8a8c90"/>
<g clip-path="url(#cr)"><g transform="translate(812,0)"><rect x="-20" y="0" width="830" height="876" fill="#EDF7FD"/><use href="#base"/><g clip-path="url(#isl)"><rect x="250" y="0" width="500" height="876" fill="#0066FF"/><path d="M662.5 265C651.7 269.2 657.9 271.7 655 275C652.1 278.3 648.3 282.1 645 285C641.7 287.9 637.9 290 635 292.5C632.1 295 630 296.7 627.5 300C625 303.3 622.1 307.5 620 312.5C617.9 317.5 616.7 323.8 615 330C613.3 336.2 612.5 344.2 610 350C607.5 355.8 603.3 360 600 365C596.7 370 592.5 375 590 380C587.5 385 586.7 388.5 585 395C583.3 401.5 582.1 416.5 580 419C577.9 421.5 574.6 408.2 572.5 410C570.4 411.8 568.8 423.3 567.5 430C566.2 436.7 565.8 443.3 565 450C564.2 456.7 563.3 463.3 562.5 470C561.7 476.7 560.8 483.3 560 490C559.2 496.7 557.5 503.3 557.5 510C557.5 516.7 557.9 524.2 560 530C562.1 535.8 566.2 543.3 570 545C573.8 546.7 579.8 542.9 582.5 540C585.2 537.1 575 530.8 586.2 527.5C597.5 524.2 631 546.2 650 520C669 493.8 688.3 415 700 370C711.7 325 726.2 267.5 720 250C713.8 232.5 673.3 260.8 662.5 265Z" fill="#0099FF"/><path d="M545 580C546.7 575.4 552.5 571.7 557.5 570C562.5 568.3 572.9 566.7 575 570C577.1 573.3 572.9 584.6 570 590C567.1 595.4 561.2 601.2 557.5 602.5C553.8 603.8 549.6 601.2 547.5 597.5C545.4 593.8 543.3 584.6 545 580Z" fill="#0099FF"/><path d="M587.5 200C584.6 205.4 583.1 208.3 582.5 212.5C581.9 216.7 582.1 221.2 583.8 225C585.4 228.8 589 232.1 592.5 235C596 237.9 601.7 240 605 242.5C608.3 245 611.7 246.7 612.5 250C613.3 253.3 611.2 258.3 610 262.5C608.8 266.7 606.2 270.8 605 275C603.8 279.2 602.5 283.3 602.5 287.5C602.5 291.7 604.2 296.2 605 300C605.8 303.8 608.3 306.7 607.5 310C606.7 313.3 602.1 316.7 600 320C597.9 323.3 596.7 326.2 595 330C593.3 333.8 591.2 338.3 590 342.5C588.8 346.7 588.5 350.8 587.5 355C586.5 359.2 586 363.8 583.8 367.5C581.5 371.2 576.4 373.8 573.8 377.5C571.1 381.2 569.2 385.8 568 390C566.8 394.2 566.5 397.5 566.2 402.5C566 407.5 567.3 412.9 566.2 420C565.2 427.1 563.5 436.7 560 445C556.5 453.3 549.6 461.7 545 470C540.4 478.3 535.2 486.7 532.5 495C529.8 503.3 529.6 511.7 528.8 520C527.9 528.3 527.1 537.5 527.5 545C527.9 552.5 530.4 558.8 531.2 565C532.1 571.2 531.5 581.7 532.5 582.5C533.5 583.3 536.2 567.9 537.5 570C538.8 572.1 540.4 586.7 540 595C539.6 603.3 537.5 611.7 535 620C532.5 628.3 527.3 638.3 525 645C522.7 651.7 521.2 655 521.2 660C521.2 665 525.2 668.3 525 675C524.8 681.7 520.8 679.2 520 700C519.2 720.8 520 766.7 520 800C520 833.3 573.3 883.3 520 900C466.7 916.7 253.3 1056.7 200 900C146.7 743.3 133.3 116.7 200 -40C266.7 -196.7 533.3 -76.7 600 -40C666.7 -3.3 602.1 140 600 180C597.9 220 590.4 194.6 587.5 200Z" fill="#339900"/><path d="M655 96.2C657.5 96.9 659.6 99 660 102.5C660.4 106 659 112.9 657.5 117.5C656 122.1 651.7 126.2 651.2 130C650.8 133.8 652.3 137.1 655 140C657.7 142.9 664 145.8 667.5 147.5C671 149.2 674.2 147.9 676.2 150C678.3 152.1 675.2 155.8 680 160C684.8 164.2 700.8 165.8 705 175C709.2 184.2 707.9 207.5 705 215C702.1 222.5 693.8 219.5 687.5 220C681.2 220.5 674.6 218.8 667.5 218C660.4 217.2 650.8 216.4 645 215.5C639.2 214.6 635 213.8 632.5 212.5C630 211.2 628.8 210 630 207.5C631.2 205 637.9 201.2 640 197.5C642.1 193.8 643.3 189.2 642.5 185C641.7 180.8 637.5 175.6 635 172.5C632.5 169.4 630.4 167.3 627.5 166.2C624.6 165.2 621.2 165.2 617.5 166.2C613.8 167.3 608.3 170.2 605 172.5C601.7 174.8 599.6 177.1 597.5 180C595.4 182.9 594.2 186.7 592.5 190C590.8 193.3 589.2 194.2 587.5 200C585.8 205.8 586.5 220.8 582.5 225C578.5 229.2 567.4 229.2 563.8 225C560.1 220.8 561.3 206.7 560.5 200C559.7 193.3 558.2 190 558.8 185C559.3 180 561.7 174.6 563.8 170C565.8 165.4 569.4 162.1 571.2 157.5C573.1 152.9 573.5 145.9 575 142.5C576.5 139.1 578.1 136 580 137C581.9 138 584.2 144.9 586.2 148.8C588.3 152.6 590.2 158.1 592.5 160C594.8 161.9 598.3 162.5 600 160C601.7 157.5 601.9 150 602.5 145C603.1 140 602.1 134.2 603.8 130C605.4 125.8 609 122.5 612.5 120C616 117.5 621.2 117.1 625 115C628.8 112.9 631.7 110.2 635 107.5C638.3 104.8 641.7 100.6 645 98.8C648.3 96.9 652.5 95.6 655 96.2Z" fill="#339900"/><path d="M630 195C640.4 192.5 684.2 192.9 695 195C705.8 197.1 697.5 204.2 695 207.5C692.5 210.8 684.2 213.8 680 214.5C675.8 215.2 673.3 211.7 670 212C666.7 212.3 664.2 216.1 660 216.5C655.8 216.9 649.6 215.6 645 214.5C640.4 213.4 635 213.2 632.5 210C630 206.8 619.6 197.5 630 195Z" fill="#339900"/><path d="M667.5 197.5C670.8 195.8 684.4 195.4 687.5 197.5C690.6 199.6 688.3 207.5 686.2 210C684.2 212.5 678.1 212.9 675 212.5C671.9 212.1 668.8 210 667.5 207.5C666.2 205 664.2 199.2 667.5 197.5Z" fill="#33FF00"/><path d="M656.2 233.8C657.9 231.5 662.1 229.8 665 230C667.9 230.2 672.7 232.1 673.8 235C674.8 237.9 673.3 245 671.2 247.5C669.2 250 664 250.6 661.2 250C658.5 249.4 655.8 246.5 655 243.8C654.2 241 654.6 236 656.2 233.8Z" fill="#339900"/><path d="M600 185C601.7 182.5 602.1 177.9 605 175C607.9 172.1 613.3 169 617.5 167.5C621.7 166 626.7 165 630 166.2C633.3 167.5 635.4 171.9 637.5 175C639.6 178.1 641.9 181.2 642.5 185C643.1 188.8 642.9 194.2 641.2 197.5C639.6 200.8 634.4 200.4 632.5 205C630.6 209.6 637.9 221.7 630 225C622.1 228.3 591.7 229.2 585 225C578.3 220.8 588.3 205.8 590 200C591.7 194.2 593.3 192.5 595 190C596.7 187.5 598.3 187.5 600 185Z" fill="#0066FF"/><path d="M620.5 183.8C621.3 182.5 624.7 181.6 626.2 182C627.8 182.4 630 184.8 630 186.2C630 187.7 627.7 190 626.2 190.5C624.8 191 622.2 190.6 621.2 189.5C620.3 188.4 619.7 185 620.5 183.8Z" fill="#339900"/><path d="M670 193.8C671.2 191.7 675 189.8 677.5 190C680 190.2 683.5 192.5 685 195C686.5 197.5 687.5 202.7 686.2 205C685 207.3 680.2 209.2 677.5 208.8C674.8 208.3 671.2 205 670 202.5C668.8 200 668.8 195.8 670 193.8Z" fill="#33FF00"/><path d="M655 200C655.6 198.5 658.5 199.2 660 201.2C661.5 203.3 662.9 209.4 663.8 212.5C664.6 215.6 666 218.8 665 220C664 221.2 659 221.7 657.5 220C656 218.3 656.7 213.3 656.2 210C655.8 206.7 654.4 201.5 655 200Z" fill="#0066FF"/><path d="M652.5 132.5C654 130.2 659.2 128.8 662.5 127.5C665.8 126.2 669.6 124.6 672.5 125C675.4 125.4 679 126.7 680 130C681 133.3 680.4 141.7 678.8 145C677.1 148.3 673.1 149.8 670 150C666.9 150.2 662.7 147.7 660 146.2C657.3 144.8 655 143.5 653.8 141.2C652.5 139 651 134.8 652.5 132.5Z" fill="#33FF00"/><path d="M580 192.5C575.4 234.2 573.5 205 572.5 210C571.5 215 572.1 218.8 573.8 222.5C575.4 226.2 579 229.4 582.5 232.5C586 235.6 591.9 238.3 595 241.2C598.1 244.2 600.8 246.5 601.2 250C601.7 253.5 598.5 258.3 597.5 262.5C596.5 266.7 595.3 268.8 595 275C594.7 281.2 596.7 291.7 595.5 300C594.3 308.3 590.1 316.7 588 325C585.9 333.3 586.2 341.7 583 350C579.8 358.3 572.5 366.7 568.8 375C565 383.3 562.5 392.5 560.5 400C558.5 407.5 558.8 412.5 557 420C555.2 427.5 553.2 436.7 550 445C546.8 453.3 541.5 461.7 537.5 470C533.5 478.3 529 486.7 526.2 495C523.5 503.3 522.7 511.7 521.2 520C519.8 528.3 518 537.5 517.5 545C517 552.5 517.8 558.8 518 565C518.2 571.2 517.6 581.7 518.8 582.5C519.9 583.3 524 567.9 525 570C526 572.1 525.8 586.7 525 595C524.2 603.3 522.1 611.7 520 620C517.9 628.3 515 637.9 512.5 645C510 652.1 507.1 658.3 505 662.5C502.9 666.7 497.5 663.8 500 670C502.5 676.2 516.7 678.3 520 700C523.3 721.7 520 766.7 520 800C520 833.3 573.3 883.3 520 900C466.7 916.7 253.3 1056.7 200 900C146.7 743.3 133.3 116.7 200 -40C266.7 -196.7 536.7 -78.8 600 -40C663.3 -1.2 584.6 150.8 580 192.5Z" fill="#33FF00"/><path d="M646.2 46.2C662.9 45.4 690.2 39 705 45C719.8 51 735 72.5 735 82.5C735 92.5 713.5 99.6 705 105C696.5 110.4 688.1 110.8 683.8 115C679.4 119.2 680.6 128.3 678.8 130C676.9 131.7 675.2 125.4 672.5 125C669.8 124.6 665.8 126.2 662.5 127.5C659.2 128.8 654.4 132.1 652.5 132.5C650.6 132.9 650.4 132.5 651.2 130C652.1 127.5 656 122.1 657.5 117.5C659 112.9 660.4 106 660 102.5C659.6 99 657.5 96.9 655 96.2C652.5 95.6 648.3 96.9 645 98.8C641.7 100.6 638.3 104.8 635 107.5C631.7 110.2 628.8 112.9 625 115C621.2 117.1 616 117.5 612.5 120C609 122.5 605.4 125.8 603.8 130C602.1 134.2 603.1 140 602.5 145C601.9 150 601.7 157.5 600 160C598.3 162.5 595 161.7 592.5 160C590 158.3 587.1 153.5 585 150C582.9 146.5 581.5 140 580 138.8C578.5 137.5 577.5 139 576.2 142.5C575 146 574.4 155 572.5 160C570.6 165 567.1 168.3 565 172.5C562.9 176.7 560.4 180.4 560 185C559.6 189.6 561.7 194.3 562.5 200C563.3 205.7 566.2 215.8 565 219C563.8 222.2 560.8 230.5 555 219C549.2 207.5 530 169.8 530 150C530 130.2 546.7 112.5 555 100C563.3 87.5 571.7 83.3 580 75C588.3 66.7 594 54.8 605 50C616 45.2 629.6 47.1 646.2 46.2Z" fill="#33FF00"/><path d="M678.8 130C680 124.2 679.4 119.2 683.8 115C688.1 110.8 701.5 100.8 705 105C708.5 109.2 707.9 130.8 705 140C702.1 149.2 691.7 156.7 687.5 160C683.3 163.3 681.9 161.7 680 160C678.1 158.3 676.5 155 676.2 150C676 145 677.5 135.8 678.8 130Z" fill="#33FF00"/><path d="M577.5 137.5C579.2 138.3 582.5 145.8 585 150C587.5 154.2 590 158.8 592.5 162.5C595 166.2 600 169.2 600 172.5C600 175.8 594.6 178.8 592.5 182.5C590.4 186.2 589.6 191.2 587.5 195C585.4 198.8 581.7 201.2 580 205C578.3 208.8 577.5 213.3 577.5 217.5C577.5 221.7 577.5 226.7 580 230C582.5 233.3 588.3 235.4 592.5 237.5C596.7 239.6 601.2 240.4 605 242.5C608.8 244.6 613.8 246.7 615 250C616.2 253.3 614.2 258.3 612.5 262.5C610.8 266.7 607.1 270.4 605 275C602.9 279.6 600.8 284.6 600 290C599.2 295.4 599.2 302.5 600 307.5C600.8 312.5 605.8 317.9 605 320C604.2 322.1 597.1 323.3 595 320C592.9 316.7 592.5 306.7 592.5 300C592.5 293.3 594.2 285.8 595 280C595.8 274.2 597.9 270 597.5 265C597.1 260 595.4 253.8 592.5 250C589.6 246.2 583.8 245.8 580 242.5C576.2 239.2 572.5 234.2 570 230C567.5 225.8 566.2 222.5 565 217.5C563.8 212.5 563.3 205.4 562.5 200C561.7 194.6 559.6 189.6 560 185C560.4 180.4 562.9 177.1 565 172.5C567.1 167.9 570.8 162.1 572.5 157.5C574.2 152.9 574.2 148.3 575 145C575.8 141.7 575.8 136.7 577.5 137.5Z" fill="#339900"/><path d="M646.2 46.2C644.6 49.8 642.7 50.4 640 51.2C637.3 52.1 633.3 50.6 630 51.2C626.7 51.9 624.2 53.5 620 55C615.8 56.5 608.8 57.9 605 60C601.2 62.1 599.6 65 597.5 67.5C595.4 70 594.2 72.5 592.5 75C590.8 77.5 589.2 80 587.5 82.5C585.8 85 584.6 87.9 582.5 90C580.4 92.1 577.9 93.3 575 95C572.1 96.7 567.9 97.5 565 100C562.1 102.5 560 107.1 557.5 110C555 112.9 552.5 114.6 550 117.5C547.5 120.4 545.8 125 542.5 127.5C539.2 130 533.8 130.8 530 132.5C526.2 134.2 522.9 135.4 520 137.5C517.1 139.6 515 142.1 512.5 145C510 147.9 506.5 151.7 505 155C503.5 158.3 503.3 161.7 503.8 165C504.2 168.3 505.6 171.7 507.5 175C509.4 178.3 512.9 181.7 515 185C517.1 188.3 517.5 193.8 520 195C522.5 196.2 527.1 194.2 530 192.5C532.9 190.8 535 185.8 537.5 185C540 184.2 543.3 185.4 545 187.5C546.7 189.6 546.7 194.2 547.5 197.5C548.3 200.8 548.8 204.6 550 207.5C551.2 210.4 554.6 214.6 555 215C555.4 215.4 551.7 209.2 552.5 210C553.3 210.8 557.5 217.1 560 220C562.5 222.9 565 224.6 567.5 227.5C570 230.4 572.5 234.2 575 237.5C577.5 240.8 580.4 244.2 582.5 247.5C584.6 250.8 586.9 252.9 587.5 257.5C588.1 262.1 586.2 267.9 586.2 275C586.2 282.1 588.5 291.7 587.5 300C586.5 308.3 581.8 316.7 580 325C578.2 333.3 579.5 341.7 576.5 350C573.5 358.3 566.2 366.7 561.8 375C557.2 383.3 551.5 395 549.5 400C547.5 405 552.8 403.3 550 405C547.2 406.7 536.2 407.5 532.5 410C528.8 412.5 527.9 416.2 527.5 420C527.1 423.8 528.8 428.3 530 432.5C531.2 436.7 534.6 440.8 535 445C535.4 449.2 534.2 453.3 532.5 457.5C530.8 461.7 526.9 465.8 525 470C523.1 474.2 522.3 478.3 521.2 482.5C520.2 486.7 519.8 490.4 518.8 495C517.7 499.6 516 505 515 510C514 515 513.3 519.2 512.5 525C511.7 530.8 510.4 538.3 510 545C509.6 551.7 510 558.8 510 565C510 571.2 509.6 581.7 510 582.5C510.4 583.3 512.1 567.9 512.5 570C512.9 572.1 513.3 586.7 512.5 595C511.7 603.3 509.6 611.7 507.5 620C505.4 628.3 501.9 636.7 500 645C498.1 653.3 497.7 661.7 496.2 670C494.8 678.3 492.7 688.3 491.2 695C489.8 701.7 482.7 705.8 487.5 710C492.3 714.2 514.6 705 520 720C525.4 735 520 770 520 800C520 830 573.3 883.3 520 900C466.7 916.7 253.3 1056.7 200 900C146.7 743.3 126.7 116.7 200 -40C273.3 -196.7 565 -51.7 640 -40C715 -28.3 649 15.6 650 30C651 44.4 647.9 42.7 646.2 46.2Z" fill="#FFFF00"/><path d="M592.5 30C584.2 27.5 596.7 24.4 600 22.5C603.3 20.6 608.3 19.4 612.5 18.8C616.7 18.1 621.7 17.7 625 18.8C628.3 19.8 630.4 21.9 632.5 25C634.6 28.1 635.4 34.2 637.5 37.5C639.6 40.8 645.4 42.9 645 45C644.6 47.1 637.9 49.6 635 50C632.1 50.4 630 49.2 627.5 47.5C625 45.8 622.5 41.7 620 40C617.5 38.3 615 38.3 612.5 37.5C610 36.7 607.5 34.6 605 35C602.5 35.4 599.6 38.3 597.5 40C595.4 41.7 594.2 44.6 592.5 45C590.8 45.4 589.6 41.7 587.5 42.5C585.4 43.3 582.1 50.8 580 50C577.9 49.2 574.2 43.3 575 37.5C575.8 31.7 575.8 19.6 585 15C594.2 10.4 619.2 6.2 630 10C640.8 13.8 656.2 34.2 650 37.5C643.8 40.8 600.8 32.5 592.5 30Z" fill="#FFCC00"/><path d="M618.8 28.8C619.4 26.7 623.2 24.6 625 25C626.8 25.4 629.1 29 629.5 31.2C629.9 33.5 628.9 37.7 627.5 38.8C626.1 39.8 622.7 39.2 621.2 37.5C619.8 35.8 618.1 30.8 618.8 28.8Z" fill="#FF9900"/><path d="M497.5 82.5C502.5 81.5 505.8 77.5 510 76.2C514.2 75 519.6 73.5 522.5 75C525.4 76.5 527.1 81.2 527.5 85C527.9 88.8 524.6 93.3 525 97.5C525.4 101.7 530 106.7 530 110C530 113.3 527.5 117.1 525 117.5C522.5 117.9 518.3 113.8 515 112.5C511.7 111.2 507.5 109.2 505 110C502.5 110.8 501.2 114.6 500 117.5C498.8 120.4 499.2 125.4 497.5 127.5C495.8 129.6 491.9 127.9 490 130C488.1 132.1 487.5 136.7 486.2 140C485 143.3 483.5 146.7 482.5 150C481.5 153.3 481.2 157.5 480 160C478.8 162.5 475 162.9 475 165C475 167.1 480.4 170.8 480 172.5C479.6 174.2 475.4 173.8 472.5 175C469.6 176.2 465.4 177.5 462.5 180C459.6 182.5 457.1 186.2 455 190C452.9 193.8 451.7 198.8 450 202.5C448.3 206.2 446.2 208.8 445 212.5C443.8 216.2 450.8 222.9 442.5 225C434.2 227.1 402.9 233.3 395 225C387.1 216.7 385 191.7 395 175C405 158.3 440.8 140.4 455 125C469.2 109.6 472.9 89.6 480 82.5C487.1 75.4 492.5 83.5 497.5 82.5Z" fill="#FFCC00"/><path d="M422.5 190C426.7 185.8 430.4 186.7 435 185C439.6 183.3 445 180 450 180C455 180 460.8 182.5 465 185C469.2 187.5 470.8 192.9 475 195C479.2 197.1 485.4 197.5 490 197.5C494.6 197.5 499.2 195 502.5 195C505.8 195 507.1 197.5 510 197.5C512.9 197.5 517.9 193.8 520 195C522.1 196.2 523.3 202.1 522.5 205C521.7 207.9 518.8 211.7 515 212.5C511.2 213.3 504.6 210 500 210C495.4 210 490.6 210.8 487.5 212.5C484.4 214.2 482.9 217.1 481.2 220C479.6 222.9 479.4 227.1 477.5 230C475.6 232.9 472.9 235.2 470 237.5C467.1 239.8 463.8 242.5 460 243.8C456.2 245 451.2 245.4 447.5 245C443.8 244.6 439.8 243.3 437.5 241.2C435.2 239.2 436.2 234.2 433.8 232.5C431.2 230.8 426.5 230.8 422.5 231.2C418.5 231.7 413.8 234.8 410 235C406.2 235.2 400 236.7 400 232.5C400 228.3 406.2 217.1 410 210C413.8 202.9 418.3 194.2 422.5 190Z" fill="#FFCC00"/><path d="M410 233.8C430.8 238.8 420.8 230.2 425 230C429.2 229.8 432.5 230.4 435 232.5C437.5 234.6 437.5 240.4 440 242.5C442.5 244.6 446.2 245 450 245C453.8 245 458.3 244.2 462.5 242.5C466.7 240.8 472.5 237.9 475 235C477.5 232.1 476.2 228.3 477.5 225C478.8 221.7 480.4 217.9 482.5 215C484.6 212.1 486.7 209.6 490 207.5C493.3 205.4 498.3 202.9 502.5 202.5C506.7 202.1 510.8 203.3 515 205C519.2 206.7 523.8 210 527.5 212.5C531.2 215 534.2 217.5 537.5 220C540.8 222.5 544.8 224.2 547.5 227.5C550.2 230.8 551.2 236.2 553.8 240C556.2 243.8 560.2 245.8 562.5 250C564.8 254.2 565.8 260 567.5 265C569.2 270 571.2 274.2 572.5 280C573.8 285.8 574.8 294.2 575 300C575.2 305.8 574.2 310 573.8 315C573.3 320 573.5 325 572.5 330C571.5 335 569.6 340 567.5 345C565.4 350 562.9 355.8 560 360C557.1 364.2 552.9 364.2 550 370C547.1 375.8 543.1 389.6 542.5 395C541.9 400.4 548.3 400.4 546.2 402.5C544.2 404.6 533.8 405.4 530 407.5C526.2 409.6 524.8 410.4 523.8 415C522.7 419.6 523.1 430 523.8 435C524.4 440 527.3 441.2 527.5 445C527.7 448.8 526.7 453.3 525 457.5C523.3 461.7 519.8 465.8 517.5 470C515.2 474.2 512.9 478.3 511.2 482.5C509.6 486.7 508.5 490.4 507.5 495C506.5 499.6 506 505 505 510C504 515 502.5 519.2 501.2 525C500 530.8 498.5 538.3 497.5 545C496.5 551.7 495.6 558.8 495 565C494.4 571.2 492.9 581.7 493.8 582.5C494.6 583.3 499 567.9 500 570C501 572.1 501 586.7 500 595C499 603.3 495.8 611.7 493.8 620C491.7 628.3 489.2 636.7 487.5 645C485.8 653.3 485 661.7 483.8 670C482.5 678.3 481.5 686.7 480 695C478.5 703.3 476.7 711.7 475 720C473.3 728.3 471 738.3 470 745C469 751.7 463.8 752.5 468.8 760C473.8 767.5 491.5 783.3 500 790C508.5 796.7 516.7 781.7 520 800C523.3 818.3 573.3 883.3 520 900C466.7 916.7 253.3 1056.7 200 900C146.7 743.3 183.3 76.7 200 -40C216.7 -156.7 265 154.4 300 200C335 245.6 389.2 228.8 410 233.8Z" fill="#FF9900"/><path d="M397.5 255C399.2 253.8 405.4 256.2 410 257.5C414.6 258.8 420.8 260.4 425 262.5C429.2 264.6 435 267.9 435 270C435 272.1 428.8 275 425 275C421.2 275 416.7 271.7 412.5 270C408.3 268.3 402.5 267.5 400 265C397.5 262.5 395.8 256.2 397.5 255Z" fill="#FFCC00"/><path d="M436.2 238.8C438.3 237.4 445.2 237.1 450 237C454.8 236.9 460.8 237.3 465 238C469.2 238.7 475 239.8 475 241.2C475 242.8 469.2 245.9 465 247C460.8 248.1 454.6 248.3 450 248C445.4 247.7 439.8 246.5 437.5 245C435.2 243.5 434.2 240.1 436.2 238.8Z" fill="#FFCC00"/><path d="M428 308.8C429 307.2 432.4 306.4 433.8 307C435.1 307.6 436.4 310.7 436.2 312.5C436.1 314.3 434.4 317.4 433 318C431.6 318.6 428.8 317.8 428 316.2C427.2 314.7 427 310.3 428 308.8Z" fill="#FFCC00" stroke="#FFCC00" stroke-width="5" stroke-linejoin="round"/><path d="M428 308.8C429 307.2 432.4 306.4 433.8 307C435.1 307.6 436.4 310.7 436.2 312.5C436.1 314.3 434.4 317.4 433 318C431.6 318.6 428.8 317.8 428 316.2C427.2 314.7 427 310.3 428 308.8Z" fill="#FFFF00"/><path d="M436.2 366.2C437.9 365.1 444.2 363.9 446.2 364.5C448.3 365.1 449.4 368.5 448.8 370C448.1 371.5 444.6 373.5 442.5 373.8C440.4 374 437.3 372.5 436.2 371.2C435.2 370 434.6 367.4 436.2 366.2Z" fill="#FFCC00"/><path d="M427.5 308.8C429 307.6 434.4 306.4 436.2 307C438.1 307.6 439.2 311 438.8 312.5C438.3 314 435.6 316 433.8 316.2C431.9 316.5 428.5 315 427.5 313.8C426.5 312.5 426 309.9 427.5 308.8Z" fill="#FFCC00"/><path d="M437.5 366.2C439 365.1 444.4 363.9 446.2 364.5C448.1 365.1 449.2 368.5 448.8 370C448.3 371.5 445.6 373.5 443.8 373.8C441.9 374 438.5 372.5 437.5 371.2C436.5 370 436 367.4 437.5 366.2Z" fill="#FFCC00"/><path d="M453.7 388.2C455.7 385.8 465.7 385.1 470.8 384.8C476 384.5 480.5 387.1 484.5 386.5C488.5 386 492.5 384.2 494.8 381.4C497.1 378.5 496.8 372.8 498.2 369.4C499.7 366 501.1 362 503.4 360.8C505.7 359.7 510.2 360.3 511.9 362.5C513.7 364.8 512.8 370.3 513.7 374.5C514.5 378.8 515.9 384.5 517.1 388.2C518.2 392 518.2 395.1 520.5 396.8C522.8 398.5 527.6 400.2 530.8 398.5C533.9 396.8 537.9 392.2 539.3 386.5C540.8 380.8 538.5 369.7 539.3 364.3C540.2 358.8 542.5 355.4 544.5 354C546.5 352.6 550.1 352.3 551.3 355.7C552.6 359.1 552.8 369.4 552.2 374.5C551.6 379.7 549.2 382.5 547.9 386.5C546.6 390.5 545.6 394.8 544.5 398.5C543.3 402.2 543.3 406.5 541.1 408.8C538.8 411.1 531.9 409.4 530.8 412.2C529.6 415.1 533.1 421.4 534.2 425.9C535.4 430.5 537.9 435.6 537.6 439.6C537.4 443.6 534.2 446.5 532.5 449.9C530.8 453.3 528.8 456.5 527.4 460.2C525.9 463.9 525.1 468.8 523.9 472.2C522.8 475.6 524.2 479.3 520.5 480.7C516.8 482.2 504.5 482.5 501.7 480.7C498.8 479 504.2 473.9 503.4 470.5C502.5 467 498.5 463.6 496.5 460.2C494.5 456.8 492.8 453.3 491.4 449.9C490 446.5 488 443.6 488 439.6C488 435.6 490.2 430.5 491.4 425.9C492.5 421.4 494.5 415.9 494.8 412.2C495.1 408.5 494.8 405.5 493.1 403.7C491.4 401.8 487.4 401.2 484.5 401.1C481.7 400.9 479.1 401.9 476 402.8C472.8 403.7 468.5 406.8 465.7 406.2C462.8 405.7 460.8 402.4 458.8 399.4C456.8 396.4 451.7 390.7 453.7 388.2Z" fill="#FFCC00"/><path d="M496.5 391.7C497.7 388.2 500.8 383.4 503.4 381.4C505.9 379.4 510.2 378.5 511.9 379.7C513.7 380.8 512.8 385.1 513.7 388.2C514.5 391.4 515.4 395.4 517.1 398.5C518.8 401.7 521.6 405.1 523.9 407.1C526.2 409.1 528.5 410.2 530.8 410.5C533.1 410.8 536.5 407.9 537.6 408.8C538.8 409.7 538.8 413.4 537.6 415.7C536.5 417.9 531.6 419.7 530.8 422.5C529.9 425.4 531.6 429.9 532.5 432.8C533.4 435.6 536.2 437.4 535.9 439.6C535.6 441.9 532.8 443.6 530.8 446.5C528.8 449.3 525.6 453.3 523.9 456.8C522.2 460.2 521.6 463 520.5 467C519.4 471 519.1 478.5 517.1 480.7C515.1 483 509.7 483 508.5 480.7C507.4 478.5 511.1 470.8 510.2 467C509.4 463.3 505.7 461.3 503.4 458.5C501.1 455.6 498.2 453.1 496.5 449.9C494.8 446.8 493.1 443.6 493.1 439.6C493.1 435.6 495.4 430.5 496.5 425.9C497.7 421.4 499.9 416.2 499.9 412.2C499.9 408.2 497.1 405.4 496.5 401.9C496 398.5 495.4 395.1 496.5 391.7Z" fill="#FFFF00"/><path d="M543.1 360C543.8 358.3 547.3 357.6 548.8 358.3C550.2 359 551.5 362.3 551.7 364.3C551.8 366.3 550.8 369.5 549.6 370.3C548.4 371 545.6 370.3 544.5 368.5C543.4 366.8 542.4 361.7 543.1 360Z" fill="#FFFF00"/><path d="M511.1 429.4C511.9 427.5 514.5 425.6 516.2 425.9C517.9 426.2 520.5 429.1 521.4 431.1C522.2 433.1 522.2 436.2 521.4 437.9C520.5 439.6 517.9 441.5 516.2 441.3C514.5 441.2 511.9 439.1 511.1 437.1C510.2 435.1 510.2 431.2 511.1 429.4Z" fill="#FFCC00" stroke="#FFCC00" stroke-width="9" stroke-linejoin="round"/><path d="M511.1 429.4C511.9 427.5 514.5 425.6 516.2 425.9C517.9 426.2 520.5 429.1 521.4 431.1C522.2 433.1 522.2 436.2 521.4 437.9C520.5 439.6 517.9 441.5 516.2 441.3C514.5 441.2 511.9 439.1 511.1 437.1C510.2 435.1 510.2 431.2 511.1 429.4Z" fill="#FF9900"/><path d="M436.6 366.8C437.5 365.5 440 364.1 441.7 364.3C443.4 364.4 446.1 366.1 446.8 367.7C447.6 369.3 447.1 372.5 446 373.7C444.8 374.9 441.6 375.2 440 374.9C438.4 374.6 436.8 373.3 436.2 372C435.7 370.6 435.7 368.1 436.6 366.8Z" fill="#FFCC00"/><path d="M455 177.5C457.5 174.5 462.9 172.9 467.5 172.5C472.1 172.1 477.5 172.9 482.5 175C487.5 177.1 494.2 181.7 497.5 185C500.8 188.3 503.8 192.8 502.5 195C501.2 197.2 493.8 197.5 490 198C486.2 198.5 483.1 197.2 480 198C476.9 198.8 473.5 200.6 471.2 203C469 205.4 466.8 209.2 466.2 212.5C465.7 215.8 469.4 220.4 468 223C466.6 225.6 461.3 227.6 458 228C454.7 228.4 450.5 227.6 448 225.5C445.5 223.4 443.1 219.2 443 215.5C442.9 211.8 445.9 207.2 447.5 203C449.1 198.8 451.2 194.8 452.5 190.5C453.8 186.2 452.5 180.5 455 177.5Z" fill="#FFFF00"/><path d="M490 210C493.3 207.7 496.2 206.2 500 206.2C503.8 206.2 508.3 208.5 512.5 210C516.7 211.5 522.3 212.9 525 215C527.7 217.1 529.2 220 528.8 222.5C528.3 225 524.8 227.5 522.5 230C520.2 232.5 514.6 235.6 515 237.5C515.4 239.4 521.2 240.2 525 241.2C528.8 242.3 533.3 242.7 537.5 243.8C541.7 244.8 547.3 245.2 550 247.5C552.7 249.8 552.9 253.8 553.8 257.5C554.6 261.2 553.5 266.2 555 270C556.5 273.8 560 276.7 562.5 280C565 283.3 568.3 286.2 570 290C571.7 293.8 572.7 298.3 572.5 302.5C572.3 306.7 570.4 310.4 568.8 315C567.1 319.6 564.4 325 562.5 330C560.6 335 560 341.7 557.5 345C555 348.3 551.2 350 547.5 350C543.8 350 539.2 346.2 535 345C530.8 343.8 526.7 342.5 522.5 342.5C518.3 342.5 514.2 345 510 345C505.8 345 500.8 344.2 497.5 342.5C494.2 340.8 492.5 337.9 490 335C487.5 332.1 485 326.2 482.5 325C480 323.8 477.5 326.2 475 327.5C472.5 328.8 470 330 467.5 332.5C465 335 461.9 338.8 460 342.5C458.1 346.2 456.2 350.8 456.2 355C456.2 359.2 459 364.6 460 367.5C461 370.4 462.7 372.5 462.5 372.5C462.3 372.5 460.4 370 458.8 367.5C457.1 365 454.4 361.2 452.5 357.5C450.6 353.8 448.3 349.2 447.5 345C446.7 340.8 446.7 336.7 447.5 332.5C448.3 328.3 450 323.3 452.5 320C455 316.7 459.6 315 462.5 312.5C465.4 310 469.2 307.9 470 305C470.8 302.1 467.3 298.8 467.5 295C467.7 291.2 470 286.7 471.2 282.5C472.5 278.3 473.8 274.2 475 270C476.2 265.8 478.5 261.7 478.8 257.5C479 253.3 476.5 249.2 476.2 245C476 240.8 476.9 236.7 477.5 232.5C478.1 228.3 477.9 223.8 480 220C482.1 216.2 486.7 212.3 490 210Z" fill="#FF0000"/><path d="M375 367.5C379.6 375.8 370.4 376.2 367.5 380C364.6 383.8 360.8 386.2 357.5 390C354.2 393.8 350.8 397.9 347.5 402.5C344.2 407.1 339.4 413.3 337.5 417.5C335.6 421.7 335.4 424.2 336.2 427.5C337.1 430.8 339.4 435.8 342.5 437.5C345.6 439.2 350.4 437.5 355 437.5C359.6 437.5 365 436.9 370 437.5C375 438.1 380 440.8 385 441.2C390 441.7 395.8 440.8 400 440C404.2 439.2 407.5 438.3 410 436.2C412.5 434.2 413.3 430.6 415 427.5C416.7 424.4 417.5 419.8 420 417.5C422.5 415.2 426.2 414.2 430 413.8C433.8 413.3 438.8 413.5 442.5 415C446.2 416.5 450 419.2 452.5 422.5C455 425.8 455.8 430.8 457.5 435C459.2 439.2 460.4 443.8 462.5 447.5C464.6 451.2 467.1 454.6 470 457.5C472.9 460.4 476.2 462.9 480 465C483.8 467.1 489.2 467.9 492.5 470C495.8 472.1 498.3 474.6 500 477.5C501.7 480.4 502.1 483.8 502.5 487.5C502.9 491.2 502.9 495.8 502.5 500C502.1 504.2 501.2 508.3 500 512.5C498.8 516.7 496.7 520.4 495 525C493.3 529.6 491.2 535 490 540C488.8 545 487.9 550 487.5 555C487.1 560 487.5 565.4 487.5 570C487.5 574.6 487.3 582.5 487.5 582.5C487.7 582.5 488.5 567.9 488.8 570C489 572.1 489.4 586.7 488.8 595C488.1 603.3 486.5 611.7 485 620C483.5 628.3 481.7 636.7 480 645C478.3 653.3 476.7 661.7 475 670C473.3 678.3 471.5 686.7 470 695C468.5 703.3 467.1 711.7 466.2 720C465.4 728.3 465.1 738.3 465 745C464.9 751.7 463 754.2 465.5 760C468 765.8 470.9 773.3 480 780C489.1 786.7 513.3 780 520 800C526.7 820 573.3 883.3 520 900C466.7 916.7 253.3 1056.7 200 900C146.7 743.3 191.7 55 200 -40C208.3 -135 226.7 268.3 250 330C273.3 391.7 319.2 323.8 340 330C360.8 336.2 370.4 359.2 375 367.5Z" fill="#FF0000"/><path d="M370 296.2C373.8 296.2 376.7 303.5 380 305C383.3 306.5 387.1 304.8 390 305C392.9 305.2 396 303.8 397.5 306.2C399 308.8 398.8 315.6 398.8 320C398.8 324.4 399 328.3 397.5 332.5C396 336.7 392.1 341.2 390 345C387.9 348.8 386.7 351.2 385 355C383.3 358.8 382.1 363.8 380 367.5C377.9 371.2 375.4 374.6 372.5 377.5C369.6 380.4 365.4 382.1 362.5 385C359.6 387.9 365.4 393.3 355 395C344.6 396.7 305 403.3 300 395C295 386.7 317.5 357.5 325 345C332.5 332.5 339.6 326.7 345 320C350.4 313.3 353.3 309 357.5 305C361.7 301 366.2 296.2 370 296.2Z" fill="#FF0000"/><path d="M521.2 372.5C522.4 370.2 524.2 365.6 526.2 365C528.3 364.4 531.9 366.7 533.8 368.8C535.6 370.8 537.7 374.6 537.5 377.5C537.3 380.4 534.2 384.2 532.5 386.2C530.8 388.3 529.4 389.8 527.5 390C525.6 390.2 522.6 389.4 521.2 387.5C519.9 385.6 519.5 381.2 519.5 378.8C519.5 376.2 520.1 374.8 521.2 372.5Z" fill="#FF0000"/><path d="M476.2 420C477.1 416.2 478.3 412.1 480 410C481.7 407.9 484.6 406.2 486.2 407.5C487.9 408.8 489.6 413.3 490 417.5C490.4 421.7 489.6 427.9 488.8 432.5C487.9 437.1 486.7 443.1 485 445C483.3 446.9 480.4 445.8 478.8 443.8C477.1 441.7 475.4 436.5 475 432.5C474.6 428.5 475.4 423.8 476.2 420Z" fill="#FF0000"/><path d="M350 332.5C352.5 330.8 355.6 328.3 357.5 330C359.4 331.7 361.2 338.3 361.2 342.5C361.2 346.7 359.4 350.8 357.5 355C355.6 359.2 352.5 363.8 350 367.5C347.5 371.2 345.4 374.6 342.5 377.5C339.6 380.4 335.8 382.1 332.5 385C329.2 387.9 327.9 393.3 322.5 395C317.1 396.7 300 399.2 300 395C300 390.8 316.7 377.5 322.5 370C328.3 362.5 331.7 355 335 350C338.3 345 340 342.9 342.5 340C345 337.1 347.5 334.2 350 332.5Z" fill="#CC0000"/><path d="M315 382.5C320.4 381.2 326.7 379.2 332.5 380C338.3 380.8 347.9 384.2 350 387.5C352.1 390.8 347.5 395.8 345 400C342.5 404.2 338.3 408.3 335 412.5C331.7 416.7 328.3 421.2 325 425C321.7 428.8 318.3 432.1 315 435C311.7 437.9 308.3 440.4 305 442.5C301.7 444.6 299.2 447.1 295 447.5C290.8 447.9 282.5 450.4 280 445C277.5 439.6 277.5 422.5 280 415C282.5 407.5 291.7 404.6 295 400C298.3 395.4 296.7 390.4 300 387.5C303.3 384.6 309.6 383.8 315 382.5Z" fill="#CC0000"/><path d="M282.5 510C290 505.8 290.4 519.2 295 520C299.6 520.8 305.4 516.7 310 515C314.6 513.3 318.8 509.6 322.5 510C326.2 510.4 329.6 514.2 332.5 517.5C335.4 520.8 337.9 525.4 340 530C342.1 534.6 343.3 540 345 545C346.7 550 347.5 555.8 350 560C352.5 564.2 355.8 569.2 360 570C364.2 570.8 370.8 567.5 375 565C379.2 562.5 382.5 558.3 385 555C387.5 551.7 387.5 547.5 390 545C392.5 542.5 396.7 540 400 540C403.3 540 408.3 536.8 410 545C411.7 553.2 410 584.8 410 589C410 593.2 410 560.7 410 570C410 579.3 411.7 619.2 410 645C408.3 670.8 405 709.2 400 725C395 740.8 388.3 740 380 740C371.7 740 363.3 740.8 350 725C336.7 709.2 316.7 669.2 300 645C283.3 620.8 258.3 596.7 250 580C241.7 563.3 244.6 556.7 250 545C255.4 533.3 275 514.2 282.5 510Z" fill="#CC0000"/><path d="M497.5 215C499.6 212.9 501.2 212.5 505 212.5C508.8 212.5 516.7 213.3 520 215C523.3 216.7 525 220 525 222.5C525 225 522.1 227.9 520 230C517.9 232.1 515.8 234.6 512.5 235C509.2 235.4 503.3 234.2 500 232.5C496.7 230.8 492.9 227.9 492.5 225C492.1 222.1 495.4 217.1 497.5 215Z" fill="#CC0000"/><path d="M501.2 218.8C502.7 217.4 507.3 216.8 510 217C512.7 217.2 516.5 218.5 517.5 220C518.5 221.5 517.9 224.8 516.2 226.2C514.6 227.7 510 229 507.5 228.8C505 228.5 502.3 226.7 501.2 225C500.2 223.3 499.8 220.1 501.2 218.8Z" fill="#990000"/><path d="M480 272.5C482.1 269.6 484.6 267.1 487.5 265C490.4 262.9 493.8 261.7 497.5 260C501.2 258.3 505.4 256.7 510 255C514.6 253.3 520 250.8 525 250C530 249.2 535.8 248.8 540 250C544.2 251.2 547.9 254.2 550 257.5C552.1 260.8 551.2 266.2 552.5 270C553.8 273.8 555.4 277.1 557.5 280C559.6 282.9 562.5 284.6 565 287.5C567.5 290.4 571 293.8 572.5 297.5C574 301.2 574.4 305.8 573.8 310C573.1 314.2 571 319.2 568.8 322.5C566.5 325.8 564 328.3 560 330C556 331.7 550 331.7 545 332.5C540 333.3 535 333.8 530 335C525 336.2 519.2 338.8 515 340C510.8 341.2 507.9 343.3 505 342.5C502.1 341.7 499.6 337.9 497.5 335C495.4 332.1 493.8 328.8 492.5 325C491.2 321.2 492.1 315.8 490 312.5C487.9 309.2 482.5 307.9 480 305C477.5 302.1 475.8 298.8 475 295C474.2 291.2 474.2 286.2 475 282.5C475.8 278.8 477.9 275.4 480 272.5Z" fill="#CC0000"/><path d="M485 272.5C487.1 269.6 489.2 267.3 492.5 265C495.8 262.7 500.4 260.6 505 258.8C509.6 256.9 515 254.8 520 253.8C525 252.7 530.8 251.5 535 252.5C539.2 253.5 543.1 256.7 545 260C546.9 263.3 545 268.8 546.2 272.5C547.5 276.2 549.8 279.6 552.5 282.5C555.2 285.4 560 287.1 562.5 290C565 292.9 566.7 296.2 567.5 300C568.3 303.8 568.8 308.8 567.5 312.5C566.2 316.2 563.3 320.4 560 322.5C556.7 324.6 552.1 324.6 547.5 325C542.9 325.4 537.1 324.2 532.5 325C527.9 325.8 524.2 328.3 520 330C515.8 331.7 510.8 335.4 507.5 335C504.2 334.6 502.1 330.8 500 327.5C497.9 324.2 496.7 319.2 495 315C493.3 310.8 492.1 305.8 490 302.5C487.9 299.2 484.2 298.3 482.5 295C480.8 291.7 479.6 286.2 480 282.5C480.4 278.8 482.9 275.4 485 272.5Z" fill="#990000"/><path d="M312.5 445C315.8 440 325.4 441 332.5 440C339.6 439 347.1 438.3 355 438.8C362.9 439.2 372.5 441.5 380 442.5C387.5 443.5 395.8 442.1 400 445C404.2 447.9 405 454.6 405 460C405 465.4 401.7 471.7 400 477.5C398.3 483.3 397.5 490.4 395 495C392.5 499.6 389.2 502.5 385 505C380.8 507.5 375.8 509.6 370 510C364.2 510.4 356.2 507.5 350 507.5C343.8 507.5 337.1 510.4 332.5 510C327.9 509.6 325.4 508.3 322.5 505C319.6 501.7 316.7 495.8 315 490C313.3 484.2 312.9 477.5 312.5 470C312.1 462.5 309.2 450 312.5 445Z" fill="#FF0000"/><path d="M337.5 530C339.6 525.4 345.4 524.2 350 522.5C354.6 520.8 361.2 518.8 365 520C368.8 521.2 371.7 525 372.5 530C373.3 535 370.8 543.3 370 550C369.2 556.7 369.2 563.5 367.5 570C365.8 576.5 362.9 588.2 360 589C357.1 589.8 348.8 577.8 350 575C351.2 572.2 362.5 572.1 367.5 572.5C372.5 572.9 379.6 575 380 577.5C380.4 580 374.2 585 370 587.5C365.8 590 360 591.5 355 592.5C350 593.5 343.3 595.4 340 593.8C336.7 592.1 335 586.5 335 582.5C335 578.5 339.6 575.4 340 570C340.4 564.6 337.9 556.7 337.5 550C337.1 543.3 335.4 534.6 337.5 530Z" fill="#FF0000"/><path d="M375 510C376.7 506.7 380.8 506.2 385 505C389.2 503.8 395.8 501.7 400 502.5C404.2 503.3 407.9 505.4 410 510C412.1 514.6 412.5 523.3 412.5 530C412.5 536.7 412.1 547.5 410 550C407.9 552.5 403.3 545.8 400 545C396.7 544.2 393.3 545.8 390 545C386.7 544.2 382.5 543.3 380 540C377.5 536.7 375.8 530 375 525C374.2 520 373.3 513.3 375 510Z" fill="#CC0000"/><path d="M303.8 622.5C305 618.8 310.2 620 315 620C319.8 620 328.8 620 332.5 622.5C336.2 625 337.1 630.4 337.5 635C337.9 639.6 334.2 645.4 335 650C335.8 654.6 340.8 657.9 342.5 662.5C344.2 667.1 342.5 674.2 345 677.5C347.5 680.8 355 679.6 357.5 682.5C360 685.4 360 690.4 360 695C360 699.6 360 707.5 357.5 710C355 712.5 349.2 711.2 345 710C340.8 708.8 335.8 705.8 332.5 702.5C329.2 699.2 327.5 694.6 325 690C322.5 685.4 319.6 680 317.5 675C315.4 670 314.2 665.4 312.5 660C310.8 654.6 309 648.8 307.5 642.5C306 636.2 302.5 626.2 303.8 622.5Z" fill="#990000"/><path d="M367.5 637.5C371 633.3 377.1 633.8 382.5 632.5C387.9 631.2 395 630 400 630C405 630 410 630 412.5 632.5C415 635 415 640.4 415 645C415 649.6 414.2 655.8 412.5 660C410.8 664.2 408.8 667.9 405 670C401.2 672.1 395 671.7 390 672.5C385 673.3 379.6 674.2 375 675C370.4 675.8 364.8 680.4 362.5 677.5C360.2 674.6 360.4 664.2 361.2 657.5C362.1 650.8 364 641.7 367.5 637.5Z" fill="#990000"/><path d="M337.5 630C339.6 626.7 346.2 622.9 350 622.5C353.8 622.1 357.9 624.6 360 627.5C362.1 630.4 362.9 635.8 362.5 640C362.1 644.2 359.6 648.3 357.5 652.5C355.4 656.7 352.1 660.8 350 665C347.9 669.2 346.7 676.7 345 677.5C343.3 678.3 340.4 673.8 340 670C339.6 666.2 342.9 659.6 342.5 655C342.1 650.4 338.3 646.7 337.5 642.5C336.7 638.3 335.4 633.3 337.5 630Z" fill="#CC0000"/><path d="M365 687.5C367.5 683.8 372.9 679.6 377.5 677.5C382.1 675.4 388.3 674.2 392.5 675C396.7 675.8 400.8 679.2 402.5 682.5C404.2 685.8 404.2 690.4 402.5 695C400.8 699.6 396.7 705.8 392.5 710C388.3 714.2 382.1 719.2 377.5 720C372.9 720.8 367.5 718.3 365 715C362.5 711.7 362.5 704.6 362.5 700C362.5 695.4 362.5 691.2 365 687.5Z" fill="#CC0000"/><path d="M301.2 626.2C302.1 623.8 306.7 623.5 308 626.2C309.3 629 309.8 640 309 642.5C308.2 645 304.3 644 303 641.2C301.7 638.5 300.4 628.8 301.2 626.2Z" fill="#990099"/><path d="M482.5 275C483.5 272.3 486.7 270.8 490 268.8C493.3 266.7 498.3 264.4 502.5 262.5C506.7 260.6 510.4 259 515 257.5C519.6 256 525.8 253.5 530 253.8C534.2 254 538.1 256.2 540 258.8C541.9 261.2 542.5 266.2 541.2 268.8C540 271.2 536 272.7 532.5 273.8C529 274.8 523.3 274 520 275C516.7 276 515 278.1 512.5 280C510 281.9 508.3 284.8 505 286.2C501.7 287.7 496 289 492.5 288.8C489 288.5 485.4 287.3 483.8 285C482.1 282.7 481.5 277.7 482.5 275Z" fill="#990099"/><path d="M493.8 300C494.4 297.7 497.3 295.6 500 293.8C502.7 291.9 506.2 290 510 288.8C513.8 287.5 518.8 286.2 522.5 286.2C526.2 286.2 530.4 286.9 532.5 288.8C534.6 290.6 535.8 294.8 535 297.5C534.2 300.2 530.4 302.9 527.5 305C524.6 307.1 521.2 309 517.5 310C513.8 311 508.5 311.7 505 311.2C501.5 310.8 498.1 309.4 496.2 307.5C494.4 305.6 493.1 302.3 493.8 300Z" fill="#990099"/><path d="M548.8 295C549.6 292.3 552.9 292.5 555 293.8C557.1 295 560 299.4 561.2 302.5C562.5 305.6 563.3 310 562.5 312.5C561.7 315 558.3 317.9 556.2 317.5C554.2 317.1 551.2 313.8 550 310C548.8 306.2 547.9 297.7 548.8 295Z" fill="#990099"/><path d="M506.2 325.8C506.8 324.5 509.7 324.1 510.5 325C511.3 325.9 511.8 330 511.2 331.2C510.7 332.5 507.8 333.4 507 332.5C506.2 331.6 505.7 327 506.2 325.8Z" fill="#990099"/><path d="M486.2 275C487.5 272.7 491.5 270.6 495 268.8C498.5 266.9 503.3 265.4 507.5 263.8C511.7 262.1 516.2 259.8 520 258.8C523.8 257.7 527.3 256.9 530 257.5C532.7 258.1 535.4 260.6 536.2 262.5C537.1 264.4 536.9 267.3 535 268.8C533.1 270.2 528.3 270.4 525 271.2C521.7 272.1 517.9 272.3 515 273.8C512.1 275.2 510.4 278.3 507.5 280C504.6 281.7 500.8 283.3 497.5 283.8C494.2 284.2 489.4 284 487.5 282.5C485.6 281 485 277.3 486.2 275Z" fill="#CC00CC"/><path d="M498.8 300C499.6 297.9 504.2 295.4 507.5 293.8C510.8 292.1 515.2 290.4 518.8 290C522.3 289.6 526.9 290 528.8 291.2C530.6 292.5 531 295.4 530 297.5C529 299.6 525.4 302.1 522.5 303.8C519.6 305.4 515.8 307.1 512.5 307.5C509.2 307.9 504.8 307.5 502.5 306.2C500.2 305 497.9 302.1 498.8 300Z" fill="#CC00CC"/><path d="M507.5 298.8C508.7 297.4 512.5 295.4 515 295C517.5 294.6 521.5 295.2 522.5 296.2C523.5 297.3 522.7 299.9 521.2 301.2C519.8 302.6 516 304.2 513.8 304.5C511.5 304.8 509 304 508 303C507 302 506.3 300.1 507.5 298.8Z" fill="#FF00FF"/><path d="M433.8 431.2C435.4 430 439.8 429.2 442.5 430C445.2 430.8 448.8 433.8 450 436.2C451.2 438.8 450.4 441.9 450 445C449.6 448.1 446.7 451.7 447.5 455C448.3 458.3 452.1 462.1 455 465C457.9 467.9 461.7 470.8 465 472.5C468.3 474.2 471.7 474.2 475 475C478.3 475.8 482.5 475.4 485 477.5C487.5 479.6 489.4 483.8 490 487.5C490.6 491.2 489.6 495.8 488.8 500C487.9 504.2 487.3 508.8 485 512.5C482.7 516.2 477.5 518.8 475 522.5C472.5 526.2 471 530.4 470 535C469 539.6 468.8 545 468.8 550C468.8 555 469.4 560 470 565C470.6 570 472.1 579.2 472.5 580C472.9 580.8 472.9 569.2 472.5 570C472.1 570.8 470.8 580 470 585C469.2 590 468.3 595 467.5 600C466.7 605 465.8 610 465 615C464.2 620 462.1 625.4 462.5 630C462.9 634.6 466.7 638.3 467.5 642.5C468.3 646.7 468.3 650.8 467.5 655C466.7 659.2 464.2 663.8 462.5 667.5C460.8 671.2 458.8 673.8 457.5 677.5C456.2 681.2 455.8 685.4 455 690C454.2 694.6 452.5 700 452.5 705C452.5 710 454.2 715 455 720C455.8 725 457.5 730 457.5 735C457.5 740 455.8 745 455 750C454.2 755 453.3 762.3 452.5 765C451.7 767.7 451.4 764.9 450 766.4C448.7 767.9 446.6 773.3 444.4 773.9C442.2 774.5 439.1 772 436.9 770.1C434.7 768.3 432.8 765.4 431.3 762.6C429.7 759.8 428.8 756.4 427.5 753.3C426.3 750.1 425.6 747 423.8 743.9C421.9 740.8 419.4 736.4 416.3 734.5C413.1 732.6 408.8 732 405 732.6C401.3 733.3 397.2 736.7 393.8 738.3C390.3 739.8 386.9 742 384.4 742C381.9 742 377.8 740.1 378.8 738.3C379.7 736.4 386.3 733.3 390 730.8C393.8 728.3 400.4 724.2 401.3 723.3C402.1 722.3 394 726.8 395 725C396 723.2 405 716.7 407.5 712.5C410 708.3 409.2 704.6 410 700C410.8 695.4 411.7 690 412.5 685C413.3 680 415 675 415 670C415 665 413.8 660 412.5 655C411.2 650 407.9 644.6 407.5 640C407.1 635.4 409.2 631.7 410 627.5C410.8 623.3 412.5 619.6 412.5 615C412.5 610.4 410.8 605 410 600C409.2 595 408.3 590 407.5 585C406.7 580 405.2 571.7 405 570C404.8 568.3 405.4 576.7 406.2 575C407.1 573.3 409 565 410 560C411 555 411.7 549.2 412.5 545C413.3 540.8 415.4 538.3 415 535C414.6 531.7 412.5 527.5 410 525C407.5 522.5 403.3 520.8 400 520C396.7 519.2 392.9 520.8 390 520C387.1 519.2 382.9 517.1 382.5 515C382.1 512.9 385 510 387.5 507.5C390 505 395.4 502.9 397.5 500C399.6 497.1 399.2 493.8 400 490C400.8 486.2 401.7 481.7 402.5 477.5C403.3 473.3 403.3 468.3 405 465C406.7 461.7 409.2 459 412.5 457.5C415.8 456 421.2 456.7 425 456.2C428.8 455.8 432.9 456.9 435 455C437.1 453.1 437.9 447.9 437.5 445C437.1 442.1 433.1 439.8 432.5 437.5C431.9 435.2 432.1 432.5 433.8 431.2Z" fill="#CC0000" stroke="#CC0000" stroke-width="22" stroke-linejoin="round"/><path d="M433.8 431.2C435.4 430 439.8 429.2 442.5 430C445.2 430.8 448.8 433.8 450 436.2C451.2 438.8 450.4 441.9 450 445C449.6 448.1 446.7 451.7 447.5 455C448.3 458.3 452.1 462.1 455 465C457.9 467.9 461.7 470.8 465 472.5C468.3 474.2 471.7 474.2 475 475C478.3 475.8 482.5 475.4 485 477.5C487.5 479.6 489.4 483.8 490 487.5C490.6 491.2 489.6 495.8 488.8 500C487.9 504.2 487.3 508.8 485 512.5C482.7 516.2 477.5 518.8 475 522.5C472.5 526.2 471 530.4 470 535C469 539.6 468.8 545 468.8 550C468.8 555 469.4 560 470 565C470.6 570 472.1 579.2 472.5 580C472.9 580.8 472.9 569.2 472.5 570C472.1 570.8 470.8 580 470 585C469.2 590 468.3 595 467.5 600C466.7 605 465.8 610 465 615C464.2 620 462.1 625.4 462.5 630C462.9 634.6 466.7 638.3 467.5 642.5C468.3 646.7 468.3 650.8 467.5 655C466.7 659.2 464.2 663.8 462.5 667.5C460.8 671.2 458.8 673.8 457.5 677.5C456.2 681.2 455.8 685.4 455 690C454.2 694.6 452.5 700 452.5 705C452.5 710 454.2 715 455 720C455.8 725 457.5 730 457.5 735C457.5 740 455.8 745 455 750C454.2 755 453.3 762.3 452.5 765C451.7 767.7 451.4 764.9 450 766.4C448.7 767.9 446.6 773.3 444.4 773.9C442.2 774.5 439.1 772 436.9 770.1C434.7 768.3 432.8 765.4 431.3 762.6C429.7 759.8 428.8 756.4 427.5 753.3C426.3 750.1 425.6 747 423.8 743.9C421.9 740.8 419.4 736.4 416.3 734.5C413.1 732.6 408.8 732 405 732.6C401.3 733.3 397.2 736.7 393.8 738.3C390.3 739.8 386.9 742 384.4 742C381.9 742 377.8 740.1 378.8 738.3C379.7 736.4 386.3 733.3 390 730.8C393.8 728.3 400.4 724.2 401.3 723.3C402.1 722.3 394 726.8 395 725C396 723.2 405 716.7 407.5 712.5C410 708.3 409.2 704.6 410 700C410.8 695.4 411.7 690 412.5 685C413.3 680 415 675 415 670C415 665 413.8 660 412.5 655C411.2 650 407.9 644.6 407.5 640C407.1 635.4 409.2 631.7 410 627.5C410.8 623.3 412.5 619.6 412.5 615C412.5 610.4 410.8 605 410 600C409.2 595 408.3 590 407.5 585C406.7 580 405.2 571.7 405 570C404.8 568.3 405.4 576.7 406.2 575C407.1 573.3 409 565 410 560C411 555 411.7 549.2 412.5 545C413.3 540.8 415.4 538.3 415 535C414.6 531.7 412.5 527.5 410 525C407.5 522.5 403.3 520.8 400 520C396.7 519.2 392.9 520.8 390 520C387.1 519.2 382.9 517.1 382.5 515C382.1 512.9 385 510 387.5 507.5C390 505 395.4 502.9 397.5 500C399.6 497.1 399.2 493.8 400 490C400.8 486.2 401.7 481.7 402.5 477.5C403.3 473.3 403.3 468.3 405 465C406.7 461.7 409.2 459 412.5 457.5C415.8 456 421.2 456.7 425 456.2C428.8 455.8 432.9 456.9 435 455C437.1 453.1 437.9 447.9 437.5 445C437.1 442.1 433.1 439.8 432.5 437.5C431.9 435.2 432.1 432.5 433.8 431.2Z" fill="#990000" stroke="#990000" stroke-width="10" stroke-linejoin="round"/><path d="M433.8 431.2C435.4 430 439.8 429.2 442.5 430C445.2 430.8 448.8 433.8 450 436.2C451.2 438.8 450.4 441.9 450 445C449.6 448.1 446.7 451.7 447.5 455C448.3 458.3 452.1 462.1 455 465C457.9 467.9 461.7 470.8 465 472.5C468.3 474.2 471.7 474.2 475 475C478.3 475.8 482.5 475.4 485 477.5C487.5 479.6 489.4 483.8 490 487.5C490.6 491.2 489.6 495.8 488.8 500C487.9 504.2 487.3 508.8 485 512.5C482.7 516.2 477.5 518.8 475 522.5C472.5 526.2 471 530.4 470 535C469 539.6 468.8 545 468.8 550C468.8 555 469.4 560 470 565C470.6 570 472.1 579.2 472.5 580C472.9 580.8 472.9 569.2 472.5 570C472.1 570.8 470.8 580 470 585C469.2 590 468.3 595 467.5 600C466.7 605 465.8 610 465 615C464.2 620 462.1 625.4 462.5 630C462.9 634.6 466.7 638.3 467.5 642.5C468.3 646.7 468.3 650.8 467.5 655C466.7 659.2 464.2 663.8 462.5 667.5C460.8 671.2 458.8 673.8 457.5 677.5C456.2 681.2 455.8 685.4 455 690C454.2 694.6 452.5 700 452.5 705C452.5 710 454.2 715 455 720C455.8 725 457.5 730 457.5 735C457.5 740 455.8 745 455 750C454.2 755 453.3 762.3 452.5 765C451.7 767.7 451.4 764.9 450 766.4C448.7 767.9 446.6 773.3 444.4 773.9C442.2 774.5 439.1 772 436.9 770.1C434.7 768.3 432.8 765.4 431.3 762.6C429.7 759.8 428.8 756.4 427.5 753.3C426.3 750.1 425.6 747 423.8 743.9C421.9 740.8 419.4 736.4 416.3 734.5C413.1 732.6 408.8 732 405 732.6C401.3 733.3 397.2 736.7 393.8 738.3C390.3 739.8 386.9 742 384.4 742C381.9 742 377.8 740.1 378.8 738.3C379.7 736.4 386.3 733.3 390 730.8C393.8 728.3 400.4 724.2 401.3 723.3C402.1 722.3 394 726.8 395 725C396 723.2 405 716.7 407.5 712.5C410 708.3 409.2 704.6 410 700C410.8 695.4 411.7 690 412.5 685C413.3 680 415 675 415 670C415 665 413.8 660 412.5 655C411.2 650 407.9 644.6 407.5 640C407.1 635.4 409.2 631.7 410 627.5C410.8 623.3 412.5 619.6 412.5 615C412.5 610.4 410.8 605 410 600C409.2 595 408.3 590 407.5 585C406.7 580 405.2 571.7 405 570C404.8 568.3 405.4 576.7 406.2 575C407.1 573.3 409 565 410 560C411 555 411.7 549.2 412.5 545C413.3 540.8 415.4 538.3 415 535C414.6 531.7 412.5 527.5 410 525C407.5 522.5 403.3 520.8 400 520C396.7 519.2 392.9 520.8 390 520C387.1 519.2 382.9 517.1 382.5 515C382.1 512.9 385 510 387.5 507.5C390 505 395.4 502.9 397.5 500C399.6 497.1 399.2 493.8 400 490C400.8 486.2 401.7 481.7 402.5 477.5C403.3 473.3 403.3 468.3 405 465C406.7 461.7 409.2 459 412.5 457.5C415.8 456 421.2 456.7 425 456.2C428.8 455.8 432.9 456.9 435 455C437.1 453.1 437.9 447.9 437.5 445C437.1 442.1 433.1 439.8 432.5 437.5C431.9 435.2 432.1 432.5 433.8 431.2Z" fill="#990099"/><path d="M410 470C412.1 467.5 416.2 465.6 420 465C423.8 464.4 428.3 465.4 432.5 466.2C436.7 467.1 441.2 468.5 445 470C448.8 471.5 451.2 473.3 455 475C458.8 476.7 463.3 478.8 467.5 480C471.7 481.2 477.1 480.4 480 482.5C482.9 484.6 484.6 488.8 485 492.5C485.4 496.2 484.2 501.2 482.5 505C480.8 508.8 477.5 511.7 475 515C472.5 518.3 469.6 520.8 467.5 525C465.4 529.2 463.3 535 462.5 540C461.7 545 462.1 550 462.5 555C462.9 560 464.2 567.5 465 570C465.8 572.5 467.5 566.7 467.5 570C467.5 573.3 466.2 584.6 465 590C463.8 595.4 461.2 597.9 460 602.5C458.8 607.1 457.5 612.5 457.5 617.5C457.5 622.5 459.2 627.9 460 632.5C460.8 637.1 462.5 640.8 462.5 645C462.5 649.2 462.1 653.3 460 657.5C457.9 661.7 452.1 665.8 450 670C447.9 674.2 447.5 678.3 447.5 682.5C447.5 686.7 450 690.4 450 695C450 699.6 447.5 705 447.5 710C447.5 715 450 720 450 725C450 730 447.9 735 447.5 740C447.1 745 447.1 754.7 447.5 755C447.9 755.3 449.6 742 450 742C450.4 742 450.6 751.4 450 755.1C449.4 758.9 447.8 763.3 446.3 764.5C444.7 765.8 442.2 764.5 440.6 762.6C439.1 760.8 438.1 757 436.9 753.3C435.6 749.5 434.4 743.9 433.1 740.1C431.9 736.4 431.6 732.9 429.4 730.8C427.2 728.6 419.9 723.4 420 727C420.1 730.6 428.8 750.3 430 752.5C431.2 754.7 428.3 744.6 427.5 740C426.7 735.4 426.2 729.2 425 725C423.8 720.8 420.8 719.2 420 715C419.2 710.8 419.6 704.6 420 700C420.4 695.4 421.7 691.7 422.5 687.5C423.3 683.3 425.4 679.6 425 675C424.6 670.4 421.7 665 420 660C418.3 655 415 649.6 415 645C415 640.4 418.8 636.7 420 632.5C421.2 628.3 422.9 624.2 422.5 620C422.1 615.8 418.8 612.5 417.5 607.5C416.2 602.5 415.8 596.2 415 590C414.2 583.8 412.1 573.3 412.5 570C412.9 566.7 416.2 572.5 417.5 570C418.8 567.5 418.8 559.6 420 555C421.2 550.4 423.3 546.2 425 542.5C426.7 538.8 430 535.8 430 532.5C430 529.2 427.5 525 425 522.5C422.5 520 418.3 519.2 415 517.5C411.7 515.8 407.1 515 405 512.5C402.9 510 402.5 506.2 402.5 502.5C402.5 498.8 404.2 493.8 405 490C405.8 486.2 406.7 483.3 407.5 480C408.3 476.7 407.9 472.5 410 470Z" fill="#CC00CC"/><path d="M425 492.5C425.4 490 430 487.5 432.5 487.5C435 487.5 439.2 490.4 440 492.5C440.8 494.6 439.2 498.3 437.5 500C435.8 501.7 432.1 503.8 430 502.5C427.9 501.2 424.6 495 425 492.5Z" fill="#FF00FF"/><path d="M435 515C437.1 512.9 442.5 511.2 445 512.5C447.5 513.8 449.6 518.8 450 522.5C450.4 526.2 449.2 531.2 447.5 535C445.8 538.8 442.5 541.7 440 545C437.5 548.3 435 552.5 432.5 555C430 557.5 427.1 560 425 560C422.9 560 420.4 557.5 420 555C419.6 552.5 420.8 548.3 422.5 545C424.2 541.7 428.3 538.3 430 535C431.7 531.7 431.7 528.3 432.5 525C433.3 521.7 432.9 517.1 435 515Z" fill="#FF00FF"/><path d="M447.5 555C448.8 552.1 455 549.2 457.5 550C460 550.8 462.1 556.7 462.5 560C462.9 563.3 462.1 568.8 460 570C457.9 571.2 452.1 570 450 567.5C447.9 565 446.2 557.9 447.5 555Z" fill="#FF00FF"/><path d="M425 580C427.1 576.2 431.2 575.4 435 575C438.8 574.6 444.2 575.4 447.5 577.5C450.8 579.6 454.6 584.2 455 587.5C455.4 590.8 452.5 594.6 450 597.5C447.5 600.4 443.3 603.3 440 605C436.7 606.7 432.9 608.8 430 607.5C427.1 606.2 423.3 602.1 422.5 597.5C421.7 592.9 422.9 583.8 425 580Z" fill="#FF00FF"/><path d="M430 637.5C431.2 635 436.2 632.1 440 632.5C443.8 632.9 450.8 637.1 452.5 640C454.2 642.9 452.1 647.7 450 650C447.9 652.3 442.9 654.2 440 653.8C437.1 653.3 434.2 650.2 432.5 647.5C430.8 644.8 428.8 640 430 637.5Z" fill="#FF00FF"/><path d="M438.8 685C440.4 682.1 444.4 680.8 446.2 682.5C448.1 684.2 449.8 690.4 450 695C450.2 699.6 448.8 705.4 447.5 710C446.2 714.6 444.2 721.7 442.5 722.5C440.8 723.3 438.5 718.8 437.5 715C436.5 711.2 436 705 436.2 700C436.5 695 437.1 687.9 438.8 685Z" fill="#FF00FF"/><path d="M421.2 682.5C422.5 677.1 426 677.9 427.5 680C429 682.1 429.8 690 430 695C430.2 700 429.6 705.8 428.8 710C427.9 714.2 426.5 719.6 425 720C423.5 720.4 420.6 718.8 420 712.5C419.4 706.2 420 687.9 421.2 682.5Z" fill="#FF00FF"/><path d="M421.9 715.8C422.2 713.9 426.9 712.6 431.3 712C435.6 711.4 445.3 710.7 448.1 712C450.9 713.3 449.7 717.6 448.1 719.5C446.6 721.4 441.9 722.6 438.8 723.3C435.6 723.9 432.2 724.5 429.4 723.3C426.6 722 421.6 717.6 421.9 715.8Z" fill="#FF00FF"/><path d="M433.8 474.5C434.6 473.4 439.8 472.9 441.2 473.8C442.7 474.6 443.3 478.4 442.5 479.5C441.7 480.6 437.7 481.3 436.2 480.5C434.8 479.7 432.9 475.6 433.8 474.5Z" fill="#990099"/><path d="M390 743.9C390 741.4 394.4 741.4 397.5 740.1C400.6 738.9 405.6 736.4 408.8 736.4C411.9 736.4 414.1 737.9 416.3 740.1C418.4 742.3 420 746.1 421.9 749.5C423.8 752.9 425.3 757 427.5 760.8C429.7 764.5 432.5 769.2 435 772C437.5 774.8 439.1 777.3 442.5 777.6C445.9 777.9 451.9 775.4 455.6 773.9C459.4 772.3 462.8 766.4 465 768.3C467.2 770.1 468.1 780.1 468.8 785.1C469.4 790.1 469.7 794.8 468.8 798.3C467.8 801.7 465.6 803.1 463.1 805.8C460.6 808.4 457.2 812.5 453.8 814.2C450.3 815.9 446.3 816.2 442.5 816.1C438.8 815.9 434.5 813.1 431.3 813.3C428 813.4 425.9 816.4 422.8 817C419.7 817.6 414.2 822 412.5 817C410.8 812 413.8 795.8 412.5 787C411.3 778.3 407.5 769.8 405 764.5C402.5 759.2 400 758.6 397.5 755.1C395 751.7 390 746.4 390 743.9Z" fill="#FF0000"/><path d="M427.5 790.8C429.1 788.9 431.9 786.4 435 785.1C438.1 783.9 442.5 783.1 446.3 783.3C450 783.4 455 784.2 457.5 786.1C460 787.9 461.3 791.5 461.3 794.5C461.3 797.5 459.7 801.5 457.5 803.9C455.3 806.2 451.6 807.6 448.1 808.6C444.7 809.5 440 810.3 436.9 809.5C433.8 808.7 431.3 806.1 429.4 803.9C427.5 801.7 425.9 798.6 425.6 796.4C425.3 794.2 425.9 792.6 427.5 790.8Z" fill="#CC0000"/><path d="M412.5 817C414.2 806.4 419.7 817.6 422.8 817C425.9 816.4 428 813.4 431.3 813.3C434.5 813.1 438.8 815.9 442.5 816.1C446.3 816.2 450.3 815.9 453.8 814.2C457.2 812.5 460.6 808.4 463.1 805.8C465.6 803.1 466.3 799.5 468.8 798.3C471.3 797 476.6 784.5 478.1 798.3C479.7 812 489.1 867 478.1 880.8C467.2 894.5 423.4 891.4 412.5 880.8C401.6 870.1 410.8 827.6 412.5 817Z" fill="#FF9900"/><path d="M412.5 833.9C413.9 826.1 417.8 834.2 420.9 833.9C424.1 833.6 427.7 831.9 431.3 832C434.9 832.2 438.8 835 442.5 834.8C446.3 834.7 450.3 832.5 453.8 831.1C457.2 829.7 459.1 827.8 463.1 826.4C467.2 825 475.6 813.6 478.1 822.6C480.6 831.7 489.1 871.1 478.1 880.8C467.2 890.4 423.4 888.6 412.5 880.8C401.6 872.9 411.1 841.7 412.5 833.9Z" fill="#FFCC00"/><path d="M412.5 843.3C413.8 837 416.9 843.6 420 843.3C423.1 842.9 427.5 841.2 431.3 841.4C435 841.5 439.1 843.4 442.5 844.2C445.9 845 448.8 846.5 451.9 846.1C455 845.6 456.9 842.5 461.3 841.4C465.6 840.3 475.3 832.9 478.1 839.5C480.9 846.1 489.1 873.9 478.1 880.8C467.2 887.6 423.4 887 412.5 880.8C401.6 874.5 411.3 849.5 412.5 843.3Z" fill="#FFFF00"/><path d="M448.1 860.1C448.4 857.6 453.1 857 455.6 858.3C458.1 859.5 461.9 864.5 463.1 867.6C464.4 870.8 464.7 876.1 463.1 877C461.6 877.9 456.3 876.1 453.8 873.3C451.3 870.4 447.8 862.6 448.1 860.1Z" fill="#33FF00"/></g><use href="#lines"/><g fill="#8E1F8E"><text x="189" y="80.6" font-size="23.5" font-weight="300" textLength="48" lengthAdjust="spacingAndGlyphs">連江</text><text x="195.2" y="112.7" font-size="32.5" textLength="60" lengthAdjust="spacingAndGlyphs">20-30</text><text x="70.5" y="249.4" font-size="23.5" font-weight="300" textLength="48.5" lengthAdjust="spacingAndGlyphs">金門</text><text x="71.8" y="280" font-size="32.5" textLength="60.5" lengthAdjust="spacingAndGlyphs">40-50</text><text x="132.4" y="466.4" font-size="23.5" font-weight="300" textLength="49.5" lengthAdjust="spacingAndGlyphs">澎湖</text><text x="133" y="493.8" font-size="32.5" textLength="84" lengthAdjust="spacingAndGlyphs">130-150</text></g></g></g>
<rect x="799" y="319" width="1.2" height="557" fill="#666"/>
</svg></body></html>
